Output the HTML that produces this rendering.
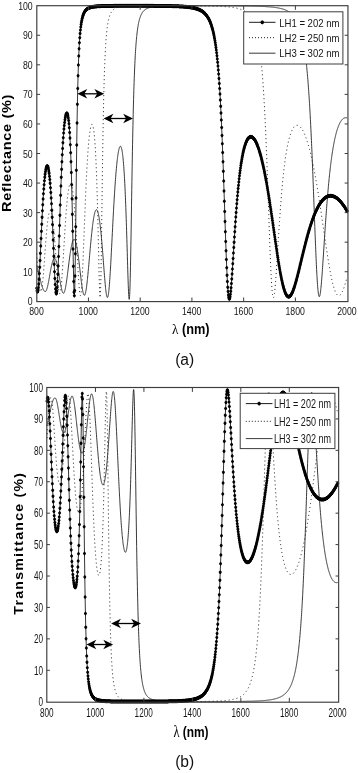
<!DOCTYPE html>
<html><head><meta charset="utf-8"><title>Reflectance and transmittance spectra</title>
<style>
html,body{margin:0;padding:0;background:#fff}
svg{display:block;font-family:"Liberation Sans",Arial,Helvetica,sans-serif}
</style></head><body>
<svg width="358" height="773" viewBox="0 0 358 773">
<defs>
<marker id="mk" markerWidth="4" markerHeight="5" refX="2" refY="2.5" markerUnits="userSpaceOnUse"><path d="M2 0.5L3.0 1.5L3.6 2.5L3.0 3.5L2 4.5L1.0 3.5L0.4 2.5L1.0 1.5z" fill="#000"/></marker>
<path id="dm" d="M0 -2.1L1.3 -1.2L1.8 0L1.3 1.2L0 2.1L-1.3 1.2L-1.8 0L-1.3 -1.2z" fill="#000"/>
<clipPath id="clipa"><rect x="34.30" y="3.20" width="316.15" height="300.90"/></clipPath>
<clipPath id="clipb"><rect x="44.30" y="385.00" width="296.85" height="319.70"/></clipPath>
</defs>
<rect width="358" height="773" fill="#fff"/>
<g clip-path="url(#clipa)">
<polyline points="36.70,253.66 36.83,255.28 36.96,256.92 37.09,258.58 37.22,260.24 37.35,261.91 37.48,263.57 37.61,265.24 37.73,266.89 37.86,268.53 37.99,270.15 38.12,271.75 38.25,273.32 38.38,274.86 38.51,276.36 38.64,277.81 38.77,279.22 38.90,280.58 39.03,281.88 39.16,283.11 39.29,284.28 39.42,285.38 39.55,286.40 39.68,287.34 39.80,288.20 39.93,288.96 40.06,289.64 40.19,290.22 40.32,290.71 40.45,291.09 40.58,291.38 40.71,291.56 40.84,291.64 40.97,291.62 41.10,291.49 41.23,291.25 41.36,290.92 41.49,290.48 41.62,289.94 41.74,289.30 41.87,288.57 42.00,287.74 42.13,286.83 42.26,285.83 42.39,284.74 42.52,283.58 42.65,282.34 42.78,281.03 42.91,279.65 43.04,278.21 43.17,276.72 43.30,275.17 43.43,273.58 43.56,271.95 43.68,270.28 43.81,268.57 43.94,266.84 44.07,265.09 44.20,263.32 44.33,261.53 44.46,259.74 44.59,257.94 44.72,256.14 44.85,254.34 44.98,252.55 45.11,250.77 45.24,249.00 45.37,247.25 45.50,245.52 45.63,243.81 45.75,242.13 45.88,240.47 46.01,238.85 46.14,237.25 46.27,235.69 46.40,234.17 46.53,232.69 46.66,231.24 46.79,229.84 46.92,228.48 47.05,227.16 47.18,225.89 47.31,224.66 47.44,223.48 47.57,222.35 47.69,221.27 47.82,220.23 47.95,219.25 48.08,218.32 48.21,217.43 48.34,216.60 48.47,215.82 48.60,215.09 48.73,214.42 48.86,213.79 48.99,213.22 49.12,212.70 49.25,212.24 49.38,211.83 49.51,211.47 49.64,211.17 49.76,210.91 49.89,210.72 50.02,210.57 50.15,210.48 50.28,210.45 50.41,210.46 50.54,210.53 50.67,210.66 50.80,210.84 50.93,211.07 51.06,211.36 51.19,211.69 51.32,212.09 51.45,212.53 51.58,213.03 51.70,213.58 51.83,214.19 51.96,214.84 52.09,215.55 52.22,216.32 52.35,217.13 52.48,217.99 52.61,218.91 52.74,219.88 52.87,220.89 53.00,221.96 53.13,223.08 53.26,224.24 53.39,225.45 53.52,226.71 53.64,228.01 53.77,229.36 53.90,230.75 54.03,232.19 54.16,233.66 54.29,235.18 54.42,236.73 54.55,238.32 54.68,239.95 54.81,241.60 54.94,243.29 55.07,245.00 55.20,246.74 55.33,248.51 55.46,250.29 55.59,252.09 55.71,253.90 55.84,255.73 55.97,257.56 56.10,259.39 56.23,261.23 56.36,263.06 56.49,264.87 56.62,266.68 56.75,268.47 56.88,270.23 57.01,271.97 57.14,273.68 57.27,275.34 57.40,276.97 57.53,278.54 57.65,280.07 57.78,281.53 57.91,282.94 58.04,284.27 58.17,285.53 58.30,286.71 58.43,287.81 58.56,288.83 58.69,289.75 58.82,290.58 58.95,291.30 59.08,291.93 59.21,292.44 59.34,292.85 59.47,293.15 59.59,293.34 59.72,293.41 59.85,293.37 59.98,293.21 60.11,292.94 60.24,292.55 60.37,292.05 60.50,291.43 60.63,290.71 60.76,289.87 60.89,288.93 61.02,287.88 61.15,286.73 61.28,285.49 61.41,284.15 61.54,282.73 61.66,281.22 61.79,279.63 61.92,277.97 62.05,276.24 62.18,274.44 62.31,272.59 62.44,270.68 62.57,268.72 62.70,266.72 62.83,264.68 62.96,262.60 63.09,260.50 63.22,258.38 63.35,256.23 63.48,254.07 63.60,251.91 63.73,249.73 63.86,247.56 63.99,245.39 64.12,243.23 64.25,241.07 64.38,238.93 64.51,236.81 64.64,234.71 64.77,232.63 64.90,230.58 65.03,228.55 65.16,226.55 65.29,224.59 65.42,222.66 65.55,220.77 65.67,218.91 65.80,217.10 65.93,215.32 66.06,213.59 66.19,211.90 66.32,210.26 66.45,208.66 66.58,207.10 66.71,205.59 66.84,204.13 66.97,202.72 67.10,201.35 67.23,200.04 67.36,198.77 67.49,197.55 67.61,196.38 67.74,195.26 67.87,194.20 68.00,193.18 68.13,192.21 68.26,191.29 68.39,190.42 68.52,189.61 68.65,188.84 68.78,188.13 68.91,187.46 69.04,186.85 69.17,186.28 69.30,185.77 69.43,185.31 69.55,184.90 69.68,184.54 69.81,184.23 69.94,183.97 70.07,183.76 70.20,183.60 70.33,183.50 70.46,183.44 70.59,183.44 70.72,183.49 70.85,183.59 70.98,183.74 71.11,183.95 71.24,184.21 71.37,184.52 71.50,184.88 71.62,185.29 71.75,185.76 71.88,186.28 72.01,186.86 72.14,187.49 72.27,188.17 72.40,188.91 72.53,189.70 72.66,190.55 72.79,191.46 72.92,192.42 73.05,193.43 73.18,194.50 73.31,195.63 73.44,196.82 73.56,198.06 73.69,199.35 73.82,200.71 73.95,202.12 74.08,203.59 74.21,205.12 74.34,206.70 74.47,208.34 74.60,210.03 74.73,211.78 74.86,213.59 74.99,215.45 75.12,217.36 75.25,219.33 75.38,221.34 75.50,223.41 75.63,225.52 75.76,227.68 75.89,229.89 76.02,232.14 76.15,234.42 76.28,236.74 76.41,239.10 76.54,241.48 76.67,243.89 76.80,246.32 76.93,248.77 77.06,251.23 77.19,253.70 77.32,256.17 77.45,258.63 77.57,261.08 77.70,263.52 77.83,265.93 77.96,268.30 78.09,270.63 78.22,272.91 78.35,275.14 78.48,277.30 78.61,279.38 78.74,281.38 78.87,283.28 79.00,285.08 79.13,286.76 79.26,288.33 79.39,289.76 79.51,291.06 79.64,292.20 79.77,293.19 79.90,294.02 80.03,294.68 80.16,295.17 80.29,295.47 80.42,295.59 80.55,295.53 80.68,295.27 80.81,294.82 80.94,294.18 81.07,293.34 81.20,292.32 81.33,291.11 81.46,289.72 81.58,288.14 81.71,286.39 81.84,284.48 81.97,282.41 82.10,280.18 82.23,277.81 82.36,275.30 82.49,272.67 82.62,269.92 82.75,267.06 82.88,264.11 83.01,261.07 83.14,257.96 83.27,254.78 83.40,251.54 83.52,248.26 83.65,244.94 83.78,241.59 83.91,238.22 84.04,234.84 84.17,231.46 84.30,228.08 84.43,224.71 84.56,221.36 84.69,218.04 84.82,214.74 84.95,211.48 85.08,208.25 85.21,205.07 85.34,201.94 85.46,198.86 85.59,195.83 85.72,192.86 85.85,189.95 85.98,187.09 86.11,184.30 86.24,181.58 86.37,178.92 86.50,176.32 86.63,173.79 86.76,171.33 86.89,168.93 87.02,166.61 87.15,164.35 87.28,162.16 87.41,160.03 87.53,157.98 87.66,155.99 87.79,154.06 87.92,152.21 88.05,150.42 88.18,148.69 88.31,147.03 88.44,145.43 88.57,143.89 88.70,142.42 88.83,141.01 88.96,139.66 89.09,138.37 89.22,137.14 89.35,135.97 89.47,134.86 89.60,133.80 89.73,132.81 89.86,131.87 89.99,130.98 90.12,130.16 90.25,129.39 90.38,128.68 90.51,128.02 90.64,127.42 90.77,126.87 90.90,126.38 91.03,125.94 91.16,125.56 91.29,125.23 91.42,124.96 91.54,124.75 91.67,124.59 91.80,124.49 91.93,124.45 92.06,124.47 92.19,124.54 92.32,124.68 92.45,124.87 92.58,125.13 92.71,125.45 92.84,125.83 92.97,126.28 93.10,126.80 93.23,127.38 93.36,128.04 93.48,128.77 93.61,129.57 93.74,130.45 93.87,131.41 94.00,132.45 94.13,133.58 94.26,134.79 94.39,136.10 94.52,137.50 94.65,138.99 94.78,140.59 94.91,142.29 95.04,144.11 95.17,146.03 95.30,148.08 95.42,150.25 95.55,152.54 95.68,154.97 95.81,157.54 95.94,160.25 96.07,163.12 96.20,166.14 96.33,169.32 96.46,172.66 96.59,176.18 96.72,179.87 96.85,183.75 96.98,187.81 97.11,192.06 97.24,196.49 97.37,201.11 97.49,205.92 97.62,210.91 97.75,216.08 97.88,221.41 98.01,226.89 98.14,232.50 98.27,238.21 98.40,243.99 98.53,249.81 98.66,255.62 98.79,261.36 98.92,266.97 99.05,272.38 99.18,277.51 99.31,282.26 99.43,286.56 99.56,290.29 99.69,293.36 99.82,295.67 99.95,297.13 100.08,297.66 100.21,297.20 100.34,295.69 100.47,293.11 100.60,289.47 100.73,284.79 100.86,279.12 100.99,272.53 101.12,265.13 101.25,257.01 101.38,248.31 101.50,239.14 101.63,229.65 101.76,219.93 101.89,210.12 102.02,200.32 102.15,190.61 102.28,181.07 102.41,171.78 102.54,162.77 102.67,154.09 102.80,145.77 102.93,137.83 103.06,130.28 103.19,123.11 103.32,116.33 103.44,109.93 103.57,103.90 103.70,98.23 103.83,92.91 103.96,87.91 104.09,83.22 104.22,78.83 104.35,74.71 104.48,70.86 104.61,67.25 104.74,63.87 104.87,60.71 105.00,57.74 105.13,54.97 105.26,52.36 105.38,49.93 105.51,47.64 105.64,45.49 105.77,43.48 105.90,41.59 106.03,39.82 106.16,38.15 106.29,36.58 106.42,35.10 106.55,33.71 106.68,32.40 106.81,31.17 106.94,30.00 107.07,28.90 107.20,27.87 107.33,26.89 107.45,25.96 107.58,25.09 107.71,24.26 107.84,23.47 107.97,22.73 108.10,22.03 108.23,21.36 108.36,20.73 108.49,20.12 108.62,19.55 108.75,19.01 108.88,18.49 109.01,18.00 109.14,17.54 109.27,17.09 109.39,16.67 109.52,16.26 109.65,15.88 109.78,15.51 109.91,15.16 110.04,14.83 110.17,14.51 110.30,14.20 110.43,13.91 110.56,13.63 110.69,13.36 110.82,13.11 110.95,12.86 111.08,12.63 111.21,12.40 111.33,12.19 111.46,11.98 111.59,11.78 111.72,11.59 111.85,11.41 111.98,11.23 112.11,11.07 112.24,10.90 112.37,10.75 112.50,10.60 112.63,10.45 112.76,10.32 112.89,10.18 113.02,10.05 113.15,9.93 113.28,9.81 113.40,9.70 113.53,9.58 113.66,9.48 113.79,9.38 113.92,9.28 114.05,9.18 114.18,9.09 114.31,9.00 114.44,8.91 114.57,8.83 114.70,8.75 114.83,8.67 114.96,8.59 115.09,8.52 115.22,8.45 115.34,8.38 115.47,8.32 115.60,8.25 115.73,8.19 115.86,8.13 115.99,8.07 116.12,8.02 116.25,7.96 116.38,7.91 116.51,7.86 116.64,7.81 116.77,7.76 116.90,7.72 117.03,7.67 117.16,7.63 117.29,7.58 117.41,7.54 117.54,7.50 117.67,7.46 117.80,7.43 117.93,7.39 118.06,7.35 118.19,7.32 118.32,7.28 118.45,7.25 118.58,7.22 118.71,7.19 118.84,7.16 118.97,7.13 119.10,7.10 119.23,7.07 119.35,7.05 119.48,7.02 119.61,6.99 119.74,6.97 119.87,6.94 120.00,6.92 120.13,6.90 120.26,6.87 120.39,6.85 120.52,6.83 120.65,6.81 120.78,6.79 120.91,6.77 121.04,6.75 121.17,6.73 121.29,6.71 121.42,6.70 121.55,6.68 121.68,6.66 121.81,6.64 121.94,6.63 122.07,6.61 122.20,6.60 122.33,6.58 122.46,6.57 122.59,6.55 122.72,6.54 122.85,6.52 122.98,6.51 123.11,6.50 123.24,6.48 123.36,6.47 123.49,6.46 123.62,6.45 123.75,6.44 123.88,6.42 124.01,6.41 124.14,6.40 124.27,6.39 124.40,6.38 124.53,6.37 124.66,6.36 124.79,6.35 124.92,6.34 125.05,6.33 125.18,6.32 125.30,6.31 125.43,6.30 125.56,6.30 125.69,6.29 125.82,6.28 125.95,6.27 126.08,6.26 126.21,6.25 126.34,6.25 126.47,6.24 126.60,6.23 126.73,6.22 126.86,6.22 126.99,6.21 127.12,6.20 127.25,6.20 127.37,6.19 127.50,6.18 127.63,6.18 127.76,6.17 127.89,6.17 128.02,6.16 128.15,6.15 128.28,6.15 128.41,6.14 128.54,6.14 128.67,6.13 128.80,6.13 128.93,6.12 129.06,6.12 129.19,6.11 129.31,6.11 129.44,6.10 129.57,6.10 129.70,6.09 129.83,6.09 129.96,6.08 130.09,6.08 130.22,6.07 130.35,6.07 130.48,6.07 130.61,6.06 130.74,6.06 130.87,6.05 131.00,6.05 131.13,6.05 131.25,6.04 131.38,6.04 131.51,6.03 131.64,6.03 131.77,6.03 131.90,6.02 132.03,6.02 132.16,6.02 132.29,6.01 132.42,6.01 132.55,6.01 132.68,6.00 132.81,6.00 132.94,6.00 133.07,6.00 133.20,5.99 133.32,5.99 133.45,5.99 133.58,5.98 133.71,5.98 133.84,5.98 133.97,5.98 134.10,5.97 134.23,5.97 134.36,5.97 134.49,5.97 134.62,5.96 134.75,5.96 134.88,5.96 135.01,5.96 135.14,5.95 135.26,5.95 135.39,5.95 135.52,5.95 135.65,5.95 135.78,5.94 135.91,5.94 136.04,5.94 136.17,5.94 136.30,5.93 136.43,5.93 136.56,5.93 136.69,5.93 136.82,5.93 136.95,5.93 137.08,5.92 137.20,5.92 137.33,5.92 137.46,5.92 137.59,5.92 137.72,5.91 137.85,5.91 137.98,5.91 138.11,5.91 138.24,5.91 138.37,5.91 138.50,5.90 138.63,5.90 138.76,5.90 138.89,5.90 139.02,5.90 139.15,5.90 139.27,5.90 139.40,5.89 139.53,5.89 139.66,5.89 139.79,5.89 139.92,5.89 140.05,5.89 140.18,5.89 140.31,5.89 140.44,5.88 140.57,5.88 140.70,5.88 140.83,5.88 140.96,5.88 141.09,5.88 141.21,5.88 141.34,5.88 141.47,5.87 141.60,5.87 141.73,5.87 141.86,5.87 141.99,5.87 142.12,5.87 142.25,5.87 142.38,5.87 142.51,5.87 142.64,5.86 142.77,5.86 142.90,5.86 143.03,5.86 143.16,5.86 143.28,5.86 143.41,5.86 143.54,5.86 143.67,5.86 143.80,5.86 143.93,5.86 144.06,5.85 144.19,5.85 144.32,5.85 144.45,5.85 144.58,5.85 144.71,5.85 144.84,5.85 144.97,5.85 145.10,5.85 145.22,5.85 145.35,5.85 145.48,5.85 145.61,5.85 145.74,5.84 145.87,5.84 146.00,5.84 146.13,5.84 146.26,5.84 146.39,5.84 146.52,5.84 146.65,5.84 146.78,5.84 146.91,5.84 147.04,5.84 147.16,5.84 147.29,5.84 147.42,5.84 147.55,5.84 147.68,5.83 147.81,5.83 147.94,5.83 148.07,5.83 148.20,5.83 148.33,5.83 148.46,5.83 148.59,5.83 148.72,5.83 148.85,5.83 148.98,5.83 149.11,5.83 149.23,5.83 149.36,5.83 149.49,5.83 149.62,5.83 149.75,5.83 149.88,5.83 150.01,5.83 150.14,5.82 150.27,5.82 150.40,5.82 150.53,5.82 150.66,5.82 150.79,5.82 150.92,5.82 151.05,5.82 151.17,5.82 151.30,5.82 151.43,5.82 151.56,5.82 151.69,5.82 151.82,5.82 151.95,5.82 152.08,5.82 152.21,5.82 152.34,5.82 152.47,5.82 152.60,5.82 152.73,5.82 152.86,5.82 152.99,5.82 153.12,5.82 153.24,5.82 153.37,5.82 153.50,5.81 153.63,5.81 153.76,5.81 153.89,5.81 154.02,5.81 154.15,5.81 154.28,5.81 154.41,5.81 154.54,5.81 154.67,5.81 154.80,5.81 154.93,5.81 155.06,5.81 155.18,5.81 155.31,5.81 155.44,5.81 155.57,5.81 155.70,5.81 155.83,5.81 155.96,5.81 156.09,5.81 156.22,5.81 156.35,5.81 156.48,5.81 156.61,5.81 156.74,5.81 156.87,5.81 157.00,5.81 157.12,5.81 157.25,5.81 157.38,5.81 157.51,5.81 157.64,5.81 157.77,5.81 157.90,5.81 158.03,5.81 158.16,5.81 158.29,5.81 158.42,5.81 158.55,5.81 158.68,5.81 158.81,5.81 158.94,5.81 159.07,5.81 159.19,5.80 159.32,5.80 159.45,5.80 159.58,5.80 159.71,5.80 159.84,5.80 159.97,5.80 160.10,5.80 160.23,5.80 160.36,5.80 160.49,5.80 160.62,5.80 160.75,5.80 160.88,5.80 161.01,5.80 161.13,5.80 161.26,5.80 161.39,5.80 161.52,5.80 161.65,5.80 161.78,5.80 161.91,5.80 162.04,5.80 162.17,5.80 162.30,5.80 162.43,5.80 162.56,5.80 162.69,5.80 162.82,5.80 162.95,5.80 163.07,5.80 163.20,5.80 163.33,5.80 163.46,5.80 163.59,5.80 163.72,5.80 163.85,5.80 163.98,5.80 164.11,5.80 164.24,5.80 164.37,5.80 164.50,5.80 164.63,5.80 164.76,5.80 164.89,5.80 165.02,5.80 165.14,5.80 165.27,5.80 165.40,5.80 165.53,5.80 165.66,5.80 165.79,5.80 165.92,5.80 166.05,5.80 166.18,5.80 166.31,5.80 166.44,5.80 166.57,5.80 166.70,5.80 166.83,5.80 166.96,5.80 167.08,5.80 167.21,5.80 167.34,5.80 167.47,5.80 167.60,5.80 167.73,5.80 167.86,5.80 167.99,5.80 168.12,5.80 168.25,5.80 168.38,5.80 168.51,5.80 168.64,5.80 168.77,5.80 168.90,5.80 169.03,5.80 169.15,5.80 169.28,5.80 169.41,5.80 169.54,5.80 169.67,5.80 169.80,5.80 169.93,5.80 170.06,5.80 170.19,5.80 170.32,5.80 170.45,5.80 170.58,5.80 170.71,5.80 170.84,5.80 170.97,5.80 171.09,5.80 171.22,5.80 171.35,5.80 171.48,5.80 171.61,5.80 171.74,5.80 171.87,5.80 172.00,5.80 172.13,5.80 172.26,5.80 172.39,5.80 172.52,5.81 172.65,5.81 172.78,5.81 172.91,5.81 173.03,5.81 173.16,5.81 173.29,5.81 173.42,5.81 173.55,5.81 173.68,5.81 173.81,5.81 173.94,5.81 174.07,5.81 174.20,5.81 174.33,5.81 174.46,5.81 174.59,5.81 174.72,5.81 174.85,5.81 174.98,5.81 175.10,5.81 175.23,5.81 175.36,5.81 175.49,5.81 175.62,5.81 175.75,5.81 175.88,5.81 176.01,5.81 176.14,5.81 176.27,5.81 176.40,5.81 176.53,5.81 176.66,5.81 176.79,5.81 176.92,5.81 177.04,5.81 177.17,5.81 177.30,5.81 177.43,5.81 177.56,5.81 177.69,5.81 177.82,5.81 177.95,5.81 178.08,5.81 178.21,5.81 178.34,5.81 178.47,5.81 178.60,5.81 178.73,5.81 178.86,5.81 178.99,5.82 179.11,5.82 179.24,5.82 179.37,5.82 179.50,5.82 179.63,5.82 179.76,5.82 179.89,5.82 180.02,5.82 180.15,5.82 180.28,5.82 180.41,5.82 180.54,5.82 180.67,5.82 180.80,5.82 180.93,5.82 181.05,5.82 181.18,5.82 181.31,5.82 181.44,5.82 181.57,5.82 181.70,5.82 181.83,5.82 181.96,5.82 182.09,5.82 182.22,5.82 182.35,5.82 182.48,5.82 182.61,5.82 182.74,5.82 182.87,5.82 182.99,5.83 183.12,5.83 183.25,5.83 183.38,5.83 183.51,5.83 183.64,5.83 183.77,5.83 183.90,5.83 184.03,5.83 184.16,5.83 184.29,5.83 184.42,5.83 184.55,5.83 184.68,5.83 184.81,5.83 184.94,5.83 185.06,5.83 185.19,5.83 185.32,5.83 185.45,5.83 185.58,5.83 185.71,5.83 185.84,5.83 185.97,5.84 186.10,5.84 186.23,5.84 186.36,5.84 186.49,5.84 186.62,5.84 186.75,5.84 186.88,5.84 187.00,5.84 187.13,5.84 187.26,5.84 187.39,5.84 187.52,5.84 187.65,5.84 187.78,5.84 187.91,5.84 188.04,5.84 188.17,5.84 188.30,5.84 188.43,5.84 188.56,5.85 188.69,5.85 188.82,5.85 188.94,5.85 189.07,5.85 189.20,5.85 189.33,5.85 189.46,5.85 189.59,5.85 189.72,5.85 189.85,5.85 189.98,5.85 190.11,5.85 190.24,5.85 190.37,5.85 190.50,5.85 190.63,5.86 190.76,5.86 190.89,5.86 191.01,5.86 191.14,5.86 191.27,5.86 191.40,5.86 191.53,5.86 191.66,5.86 191.79,5.86 191.92,5.86 192.05,5.86 192.18,5.86 192.31,5.86 192.44,5.86 192.57,5.87 192.70,5.87 192.83,5.87 192.95,5.87 193.08,5.87 193.21,5.87 193.34,5.87 193.47,5.87 193.60,5.87 193.73,5.87 193.86,5.87 193.99,5.87 194.12,5.88 194.25,5.88 194.38,5.88 194.51,5.88 194.64,5.88 194.77,5.88 194.90,5.88 195.02,5.88 195.15,5.88 195.28,5.88 195.41,5.88 195.54,5.88 195.67,5.89 195.80,5.89 195.93,5.89 196.06,5.89 196.19,5.89 196.32,5.89 196.45,5.89 196.58,5.89 196.71,5.89 196.84,5.89 196.96,5.90 197.09,5.90 197.22,5.90 197.35,5.90 197.48,5.90 197.61,5.90 197.74,5.90 197.87,5.90 198.00,5.90 198.13,5.90 198.26,5.91 198.39,5.91 198.52,5.91 198.65,5.91 198.78,5.91 198.90,5.91 199.03,5.91 199.16,5.91 199.29,5.91 199.42,5.92 199.55,5.92 199.68,5.92 199.81,5.92 199.94,5.92 200.07,5.92 200.20,5.92 200.33,5.92 200.46,5.93 200.59,5.93 200.72,5.93 200.85,5.93 200.97,5.93 201.10,5.93 201.23,5.93 201.36,5.94 201.49,5.94 201.62,5.94 201.75,5.94 201.88,5.94 202.01,5.94 202.14,5.94 202.27,5.94 202.40,5.95 202.53,5.95 202.66,5.95 202.79,5.95 202.91,5.95 203.04,5.95 203.17,5.96 203.30,5.96 203.43,5.96 203.56,5.96 203.69,5.96 203.82,5.96 203.95,5.96 204.08,5.97 204.21,5.97 204.34,5.97 204.47,5.97 204.60,5.97 204.73,5.97 204.86,5.98 204.98,5.98 205.11,5.98 205.24,5.98 205.37,5.98 205.50,5.99 205.63,5.99 205.76,5.99 205.89,5.99 206.02,5.99 206.15,5.99 206.28,6.00 206.41,6.00 206.54,6.00 206.67,6.00 206.80,6.00 206.92,6.01 207.05,6.01 207.18,6.01 207.31,6.01 207.44,6.01 207.57,6.02 207.70,6.02 207.83,6.02 207.96,6.02 208.09,6.03 208.22,6.03 208.35,6.03 208.48,6.03 208.61,6.03 208.74,6.04 208.86,6.04 208.99,6.04 209.12,6.04 209.25,6.05 209.38,6.05 209.51,6.05 209.64,6.05 209.77,6.06 209.90,6.06 210.03,6.06 210.16,6.06 210.29,6.07 210.42,6.07 210.55,6.07 210.68,6.07 210.81,6.08 210.93,6.08 211.06,6.08 211.19,6.09 211.32,6.09 211.45,6.09 211.58,6.09 211.71,6.10 211.84,6.10 211.97,6.10 212.10,6.11 212.23,6.11 212.36,6.11 212.49,6.11 212.62,6.12 212.75,6.12 212.87,6.12 213.00,6.13 213.13,6.13 213.26,6.13 213.39,6.14 213.52,6.14 213.65,6.14 213.78,6.15 213.91,6.15 214.04,6.15 214.17,6.16 214.30,6.16 214.43,6.16 214.56,6.17 214.69,6.17 214.81,6.18 214.94,6.18 215.07,6.18 215.20,6.19 215.33,6.19 215.46,6.19 215.59,6.20 215.72,6.20 215.85,6.21 215.98,6.21 216.11,6.21 216.24,6.22 216.37,6.22 216.50,6.23 216.63,6.23 216.76,6.24 216.88,6.24 217.01,6.24 217.14,6.25 217.27,6.25 217.40,6.26 217.53,6.26 217.66,6.27 217.79,6.27 217.92,6.28 218.05,6.28 218.18,6.29 218.31,6.29 218.44,6.30 218.57,6.30 218.70,6.31 218.82,6.31 218.95,6.32 219.08,6.32 219.21,6.33 219.34,6.33 219.47,6.34 219.60,6.34 219.73,6.35 219.86,6.35 219.99,6.36 220.12,6.37 220.25,6.37 220.38,6.38 220.51,6.38 220.64,6.39 220.77,6.40 220.89,6.40 221.02,6.41 221.15,6.41 221.28,6.42 221.41,6.43 221.54,6.43 221.67,6.44 221.80,6.45 221.93,6.45 222.06,6.46 222.19,6.47 222.32,6.47 222.45,6.48 222.58,6.49 222.71,6.49 222.83,6.50 222.96,6.51 223.09,6.52 223.22,6.52 223.35,6.53 223.48,6.54 223.61,6.55 223.74,6.56 223.87,6.56 224.00,6.57 224.13,6.58 224.26,6.59 224.39,6.60 224.52,6.60 224.65,6.61 224.77,6.62 224.90,6.63 225.03,6.64 225.16,6.65 225.29,6.66 225.42,6.67 225.55,6.68 225.68,6.69 225.81,6.70 225.94,6.70 226.07,6.71 226.20,6.72 226.33,6.73 226.46,6.74 226.59,6.75 226.72,6.77 226.84,6.78 226.97,6.79 227.10,6.80 227.23,6.81 227.36,6.82 227.49,6.83 227.62,6.84 227.75,6.85 227.88,6.86 228.01,6.88 228.14,6.89 228.27,6.90 228.40,6.91 228.53,6.93 228.66,6.94 228.78,6.95 228.91,6.96 229.04,6.98 229.17,6.99 229.30,7.00 229.43,7.02 229.56,7.03 229.69,7.04 229.82,7.06 229.95,7.07 230.08,7.09 230.21,7.10 230.34,7.12 230.47,7.13 230.60,7.15 230.72,7.16 230.85,7.18 230.98,7.19 231.11,7.21 231.24,7.23 231.37,7.24 231.50,7.26 231.63,7.28 231.76,7.29 231.89,7.31 232.02,7.33 232.15,7.35 232.28,7.36 232.41,7.38 232.54,7.40 232.67,7.42 232.79,7.44 232.92,7.46 233.05,7.48 233.18,7.50 233.31,7.52 233.44,7.54 233.57,7.56 233.70,7.58 233.83,7.60 233.96,7.62 234.09,7.65 234.22,7.67 234.35,7.69 234.48,7.71 234.61,7.74 234.73,7.76 234.86,7.79 234.99,7.81 235.12,7.83 235.25,7.86 235.38,7.88 235.51,7.91 235.64,7.94 235.77,7.96 235.90,7.99 236.03,8.02 236.16,8.04 236.29,8.07 236.42,8.10 236.55,8.13 236.68,8.16 236.80,8.19 236.93,8.22 237.06,8.25 237.19,8.28 237.32,8.31 237.45,8.34 237.58,8.38 237.71,8.41 237.84,8.44 237.97,8.48 238.10,8.51 238.23,8.55 238.36,8.58 238.49,8.62 238.62,8.66 238.74,8.69 238.87,8.73 239.00,8.77 239.13,8.81 239.26,8.85 239.39,8.89 239.52,8.93 239.65,8.97 239.78,9.01 239.91,9.06 240.04,9.10 240.17,9.14 240.30,9.19 240.43,9.23 240.56,9.28 240.68,9.33 240.81,9.38 240.94,9.42 241.07,9.47 241.20,9.52 241.33,9.58 241.46,9.63 241.59,9.68 241.72,9.73 241.85,9.79 241.98,9.84 242.11,9.90 242.24,9.96 242.37,10.02 242.50,10.07 242.63,10.14 242.75,10.20 242.88,10.26 243.01,10.32 243.14,10.39 243.27,10.45 243.40,10.52 243.53,10.59 243.66,10.66 243.79,10.73 243.92,10.80 244.05,10.87 244.18,10.94 244.31,11.02 244.44,11.09 244.57,11.17 244.69,11.25 244.82,11.33 244.95,11.41 245.08,11.50 245.21,11.58 245.34,11.67 245.47,11.76 245.60,11.85 245.73,11.94 245.86,12.03 245.99,12.13 246.12,12.22 246.25,12.32 246.38,12.42 246.51,12.52 246.64,12.62 246.76,12.73 246.89,12.84 247.02,12.95 247.15,13.06 247.28,13.17 247.41,13.29 247.54,13.41 247.67,13.53 247.80,13.65 247.93,13.77 248.06,13.90 248.19,14.03 248.32,14.16 248.45,14.30 248.58,14.43 248.70,14.57 248.83,14.72 248.96,14.86 249.09,15.01 249.22,15.16 249.35,15.32 249.48,15.47 249.61,15.63 249.74,15.80 249.87,15.96 250.00,16.13 250.13,16.31 250.26,16.49 250.39,16.67 250.52,16.85 250.64,17.04 250.77,17.23 250.90,17.43 251.03,17.63 251.16,17.83 251.29,18.04 251.42,18.25 251.55,18.47 251.68,18.69 251.81,18.92 251.94,19.15 252.07,19.39 252.20,19.63 252.33,19.88 252.46,20.13 252.59,20.39 252.71,20.65 252.84,20.92 252.97,21.19 253.10,21.47 253.23,21.76 253.36,22.05 253.49,22.35 253.62,22.66 253.75,22.97 253.88,23.29 254.01,23.62 254.14,23.96 254.27,24.30 254.40,24.65 254.53,25.01 254.65,25.37 254.78,25.75 254.91,26.13 255.04,26.52 255.17,26.92 255.30,27.33 255.43,27.76 255.56,28.19 255.69,28.63 255.82,29.08 255.95,29.54 256.08,30.01 256.21,30.49 256.34,30.99 256.47,31.49 256.59,32.01 256.72,32.54 256.85,33.09 256.98,33.65 257.11,34.22 257.24,34.80 257.37,35.40 257.50,36.02 257.63,36.65 257.76,37.29 257.89,37.95 258.02,38.63 258.15,39.32 258.28,40.03 258.41,40.76 258.54,41.51 258.66,42.28 258.79,43.06 258.92,43.87 259.05,44.70 259.18,45.54 259.31,46.41 259.44,47.30 259.57,48.22 259.70,49.15 259.83,50.12 259.96,51.10 260.09,52.11 260.22,53.15 260.35,54.22 260.48,55.31 260.60,56.43 260.73,57.58 260.86,58.76 260.99,59.97 261.12,61.21 261.25,62.48 261.38,63.79 261.51,65.13 261.64,66.51 261.77,67.92 261.90,69.37 262.03,70.85 262.16,72.37 262.29,73.94 262.42,75.54 262.55,77.19 262.67,78.87 262.80,80.60 262.93,82.38 263.06,84.19 263.19,86.06 263.32,87.97 263.45,89.93 263.58,91.94 263.71,94.00 263.84,96.10 263.97,98.26 264.10,100.47 264.23,102.74 264.36,105.06 264.49,107.43 264.61,109.86 264.74,112.34 264.87,114.88 265.00,117.47 265.13,120.13 265.26,122.84 265.39,125.60 265.52,128.43 265.65,131.31 265.78,134.25 265.91,137.25 266.04,140.30 266.17,143.41 266.30,146.57 266.43,149.79 266.55,153.06 266.68,156.38 266.81,159.76 266.94,163.18 267.07,166.64 267.20,170.16 267.33,173.71 267.46,177.30 267.59,180.93 267.72,184.59 267.85,188.28 267.98,191.99 268.11,195.73 268.24,199.48 268.37,203.24 268.50,207.01 268.62,210.78 268.75,214.55 268.88,218.31 269.01,222.06 269.14,225.78 269.27,229.47 269.40,233.13 269.53,236.75 269.66,240.33 269.79,243.85 269.92,247.30 270.05,250.69 270.18,254.01 270.31,257.24 270.44,260.39 270.56,263.44 270.69,266.39 270.82,269.23 270.95,271.97 271.08,274.58 271.21,277.07 271.34,279.43 271.47,281.66 271.60,283.76 271.73,285.71 271.86,287.53 271.99,289.19 272.12,290.72 272.25,292.09 272.38,293.31 272.51,294.38 272.63,295.31 272.76,296.08 272.89,296.71 273.02,297.19 273.15,297.52 273.28,297.71 273.41,297.76 273.54,297.68 273.67,297.46 273.80,297.11 273.93,296.64 274.06,296.05 274.19,295.34 274.32,294.52 274.45,293.59 274.57,292.56 274.70,291.43 274.83,290.21 274.96,288.90 275.09,287.51 275.22,286.05 275.35,284.51 275.48,282.91 275.61,281.25 275.74,279.53 275.87,277.75 276.00,275.94 276.13,274.07 276.26,272.17 276.39,270.24 276.51,268.27 276.64,266.28 276.77,264.26 276.90,262.23 277.03,260.18 277.16,258.11 277.29,256.04 277.42,253.96 277.55,251.88 277.68,249.79 277.81,247.71 277.94,245.62 278.07,243.55 278.20,241.48 278.33,239.42 278.46,237.37 278.58,235.33 278.71,233.30 278.84,231.29 278.97,229.30 279.10,227.32 279.23,225.36 279.36,223.42 279.49,221.50 279.62,219.60 279.75,217.72 279.88,215.87 280.01,214.03 280.14,212.22 280.27,210.43 280.40,208.67 280.52,206.93 280.65,205.21 280.78,203.52 280.91,201.85 281.04,200.20 281.17,198.58 281.30,196.99 281.43,195.42 281.56,193.87 281.69,192.35 281.82,190.85 281.95,189.38 282.08,187.93 282.21,186.51 282.34,185.10 282.46,183.73 282.59,182.37 282.72,181.04 282.85,179.73 282.98,178.45 283.11,177.18 283.24,175.94 283.37,174.72 283.50,173.53 283.63,172.35 283.76,171.20 283.89,170.07 284.02,168.95 284.15,167.86 284.28,166.79 284.41,165.74 284.53,164.70 284.66,163.69 284.79,162.70 284.92,161.72 285.05,160.77 285.18,159.83 285.31,158.91 285.44,158.01 285.57,157.12 285.70,156.25 285.83,155.40 285.96,154.57 286.09,153.75 286.22,152.95 286.35,152.16 286.47,151.39 286.60,150.64 286.73,149.90 286.86,149.18 286.99,148.47 287.12,147.77 287.25,147.09 287.38,146.43 287.51,145.77 287.64,145.14 287.77,144.51 287.90,143.90 288.03,143.30 288.16,142.71 288.29,142.14 288.42,141.58 288.54,141.03 288.67,140.49 288.80,139.97 288.93,139.46 289.06,138.96 289.19,138.47 289.32,137.99 289.45,137.52 289.58,137.07 289.71,136.62 289.84,136.19 289.97,135.76 290.10,135.35 290.23,134.94 290.36,134.55 290.48,134.17 290.61,133.79 290.74,133.43 290.87,133.07 291.00,132.73 291.13,132.39 291.26,132.06 291.39,131.75 291.52,131.44 291.65,131.14 291.78,130.85 291.91,130.56 292.04,130.29 292.17,130.02 292.30,129.76 292.42,129.52 292.55,129.27 292.68,129.04 292.81,128.81 292.94,128.60 293.07,128.39 293.20,128.19 293.33,127.99 293.46,127.80 293.59,127.62 293.72,127.45 293.85,127.29 293.98,127.13 294.11,126.98 294.24,126.83 294.37,126.70 294.49,126.57 294.62,126.44 294.75,126.33 294.88,126.22 295.01,126.11 295.14,126.02 295.27,125.93 295.40,125.84 295.53,125.77 295.66,125.70 295.79,125.63 295.92,125.57 296.05,125.52 296.18,125.48 296.31,125.44 296.43,125.40 296.56,125.38 296.69,125.35 296.82,125.34 296.95,125.33 297.08,125.33 297.21,125.33 297.34,125.34 297.47,125.35 297.60,125.37 297.73,125.39 297.86,125.42 297.99,125.46 298.12,125.50 298.25,125.55 298.38,125.60 298.50,125.66 298.63,125.73 298.76,125.79 298.89,125.87 299.02,125.95 299.15,126.04 299.28,126.13 299.41,126.22 299.54,126.32 299.67,126.43 299.80,126.54 299.93,126.66 300.06,126.78 300.19,126.91 300.32,127.04 300.44,127.18 300.57,127.33 300.70,127.47 300.83,127.63 300.96,127.79 301.09,127.95 301.22,128.12 301.35,128.29 301.48,128.47 301.61,128.66 301.74,128.85 301.87,129.04 302.00,129.24 302.13,129.44 302.26,129.65 302.38,129.87 302.51,130.09 302.64,130.31 302.77,130.54 302.90,130.77 303.03,131.01 303.16,131.26 303.29,131.51 303.42,131.76 303.55,132.02 303.68,132.28 303.81,132.55 303.94,132.83 304.07,133.11 304.20,133.39 304.33,133.68 304.45,133.97 304.58,134.27 304.71,134.57 304.84,134.88 304.97,135.20 305.10,135.51 305.23,135.84 305.36,136.17 305.49,136.50 305.62,136.84 305.75,137.18 305.88,137.53 306.01,137.88 306.14,138.24 306.27,138.60 306.39,138.97 306.52,139.34 306.65,139.72 306.78,140.10 306.91,140.49 307.04,140.88 307.17,141.28 307.30,141.68 307.43,142.09 307.56,142.50 307.69,142.92 307.82,143.34 307.95,143.77 308.08,144.20 308.21,144.64 308.33,145.08 308.46,145.53 308.59,145.98 308.72,146.43 308.85,146.90 308.98,147.36 309.11,147.84 309.24,148.31 309.37,148.79 309.50,149.28 309.63,149.77 309.76,150.27 309.89,150.77 310.02,151.28 310.15,151.79 310.28,152.31 310.40,152.83 310.53,153.36 310.66,153.89 310.79,154.43 310.92,154.97 311.05,155.52 311.18,156.07 311.31,156.63 311.44,157.19 311.57,157.76 311.70,158.33 311.83,158.91 311.96,159.49 312.09,160.07 312.22,160.67 312.34,161.26 312.47,161.87 312.60,162.47 312.73,163.09 312.86,163.70 312.99,164.32 313.12,164.95 313.25,165.58 313.38,166.22 313.51,166.86 313.64,167.51 313.77,168.16 313.90,168.81 314.03,169.48 314.16,170.14 314.29,170.81 314.41,171.49 314.54,172.17 314.67,172.85 314.80,173.54 314.93,174.24 315.06,174.94 315.19,175.64 315.32,176.35 315.45,177.06 315.58,177.78 315.71,178.50 315.84,179.23 315.97,179.96 316.10,180.69 316.23,181.43 316.35,182.18 316.48,182.93 316.61,183.68 316.74,184.44 316.87,185.20 317.00,185.97 317.13,186.74 317.26,187.51 317.39,188.29 317.52,189.07 317.65,189.86 317.78,190.65 317.91,191.44 318.04,192.24 318.17,193.04 318.29,193.85 318.42,194.66 318.55,195.47 318.68,196.29 318.81,197.11 318.94,197.93 319.07,198.76 319.20,199.59 319.33,200.43 319.46,201.26 319.59,202.10 319.72,202.95 319.85,203.79 319.98,204.64 320.11,205.49 320.24,206.35 320.36,207.21 320.49,208.07 320.62,208.93 320.75,209.80 320.88,210.66 321.01,211.53 321.14,212.40 321.27,213.28 321.40,214.15 321.53,215.03 321.66,215.91 321.79,216.79 321.92,217.68 322.05,218.56 322.18,219.45 322.30,220.33 322.43,221.22 322.56,222.11 322.69,223.00 322.82,223.89 322.95,224.78 323.08,225.67 323.21,226.57 323.34,227.46 323.47,228.35 323.60,229.24 323.73,230.14 323.86,231.03 323.99,231.92 324.12,232.81 324.25,233.71 324.37,234.60 324.50,235.49 324.63,236.38 324.76,237.26 324.89,238.15 325.02,239.03 325.15,239.92 325.28,240.80 325.41,241.68 325.54,242.56 325.67,243.43 325.80,244.31 325.93,245.18 326.06,246.05 326.19,246.91 326.31,247.77 326.44,248.63 326.57,249.49 326.70,250.34 326.83,251.19 326.96,252.04 327.09,252.88 327.22,253.72 327.35,254.55 327.48,255.38 327.61,256.21 327.74,257.03 327.87,257.84 328.00,258.65 328.13,259.46 328.25,260.26 328.38,261.05 328.51,261.84 328.64,262.62 328.77,263.40 328.90,264.17 329.03,264.94 329.16,265.70 329.29,266.45 329.42,267.19 329.55,267.93 329.68,268.66 329.81,269.39 329.94,270.10 330.07,270.81 330.20,271.52 330.32,272.21 330.45,272.90 330.58,273.57 330.71,274.24 330.84,274.90 330.97,275.56 331.10,276.20 331.23,276.84 331.36,277.46 331.49,278.08 331.62,278.69 331.75,279.29 331.88,279.88 332.01,280.46 332.14,281.03 332.26,281.59 332.39,282.14 332.52,282.68 332.65,283.22 332.78,283.74 332.91,284.25 333.04,284.75 333.17,285.24 333.30,285.72 333.43,286.19 333.56,286.65 333.69,287.09 333.82,287.53 333.95,287.96 334.08,288.37 334.20,288.77 334.33,289.17 334.46,289.55 334.59,289.92 334.72,290.28 334.85,290.62 334.98,290.96 335.11,291.29 335.24,291.60 335.37,291.90 335.50,292.19 335.63,292.47 335.76,292.74 335.89,292.99 336.02,293.24 336.15,293.47 336.27,293.69 336.40,293.90 336.53,294.09 336.66,294.28 336.79,294.45 336.92,294.62 337.05,294.77 337.18,294.91 337.31,295.04 337.44,295.15 337.57,295.26 337.70,295.35 337.83,295.43 337.96,295.50 338.09,295.56 338.21,295.61 338.34,295.65 338.47,295.67 338.60,295.69 338.73,295.69 338.86,295.69 338.99,295.67 339.12,295.64 339.25,295.60 339.38,295.55 339.51,295.49 339.64,295.42 339.77,295.33 339.90,295.24 340.03,295.14 340.16,295.02 340.28,294.90 340.41,294.77 340.54,294.63 340.67,294.47 340.80,294.31 340.93,294.14 341.06,293.96 341.19,293.77 341.32,293.57 341.45,293.36 341.58,293.14 341.71,292.91 341.84,292.67 341.97,292.43 342.10,292.18 342.22,291.91 342.35,291.64 342.48,291.37 342.61,291.08 342.74,290.78 342.87,290.48 343.00,290.17 343.13,289.85 343.26,289.53 343.39,289.20 343.52,288.86 343.65,288.51 343.78,288.16 343.91,287.80 344.04,287.43 344.16,287.06 344.29,286.68 344.42,286.29 344.55,285.90 344.68,285.50 344.81,285.09 344.94,284.68 345.07,284.27 345.20,283.84 345.33,283.42 345.46,282.99 345.59,282.55 345.72,282.11 345.85,281.66 345.98,281.21 346.11,280.75 346.23,280.29 346.36,279.82 346.49,279.35 346.62,278.88 346.75,278.40 346.88,277.92 347.01,277.43 347.14,276.94" fill="none" stroke="#111" stroke-width="0.95" stroke-dasharray="1 3"/>
<polyline points="36.70,265.54 36.83,265.97 36.96,266.41 37.09,266.86 37.22,267.32 37.35,267.79 37.48,268.27 37.61,268.76 37.73,269.26 37.86,269.76 37.99,270.27 38.12,270.79 38.25,271.31 38.38,271.84 38.51,272.37 38.64,272.90 38.77,273.44 38.90,273.98 39.03,274.53 39.16,275.07 39.29,275.62 39.42,276.16 39.55,276.71 39.68,277.25 39.80,277.79 39.93,278.33 40.06,278.86 40.19,279.40 40.32,279.92 40.45,280.45 40.58,280.96 40.71,281.47 40.84,281.98 40.97,282.47 41.10,282.96 41.23,283.44 41.36,283.91 41.49,284.37 41.62,284.82 41.74,285.26 41.87,285.69 42.00,286.11 42.13,286.51 42.26,286.90 42.39,287.28 42.52,287.65 42.65,288.00 42.78,288.34 42.91,288.66 43.04,288.96 43.17,289.26 43.30,289.53 43.43,289.79 43.56,290.03 43.68,290.26 43.81,290.47 43.94,290.66 44.07,290.83 44.20,290.99 44.33,291.13 44.46,291.25 44.59,291.35 44.72,291.43 44.85,291.50 44.98,291.54 45.11,291.57 45.24,291.58 45.37,291.55 45.50,291.50 45.63,291.41 45.75,291.30 45.88,291.15 46.01,290.97 46.14,290.76 46.27,290.52 46.40,290.25 46.53,289.94 46.66,289.61 46.79,289.25 46.92,288.85 47.05,288.43 47.18,287.99 47.31,287.51 47.44,287.01 47.57,286.49 47.69,285.94 47.82,285.37 47.95,284.78 48.08,284.17 48.21,283.54 48.34,282.89 48.47,282.23 48.60,281.56 48.73,280.87 48.86,280.17 48.99,279.46 49.12,278.74 49.25,278.02 49.38,277.29 49.51,276.56 49.64,275.82 49.76,275.09 49.89,274.35 50.02,273.62 50.15,272.89 50.28,272.17 50.41,271.46 50.54,270.75 50.67,270.05 50.80,269.36 50.93,268.69 51.06,268.02 51.19,267.38 51.32,266.74 51.45,266.13 51.58,265.53 51.70,264.95 51.83,264.39 51.96,263.85 52.09,263.33 52.22,262.84 52.35,262.36 52.48,261.91 52.61,261.49 52.74,261.09 52.87,260.72 53.00,260.37 53.13,260.05 53.26,259.76 53.39,259.50 53.52,259.26 53.64,259.05 53.77,258.87 53.90,258.73 54.03,258.61 54.16,258.52 54.29,258.46 54.42,258.43 54.55,258.43 54.68,258.46 54.81,258.52 54.94,258.61 55.07,258.74 55.20,258.89 55.33,259.07 55.46,259.28 55.59,259.52 55.71,259.79 55.84,260.09 55.97,260.42 56.10,260.77 56.23,261.16 56.36,261.57 56.49,262.00 56.62,262.46 56.75,262.95 56.88,263.47 57.01,264.00 57.14,264.56 57.27,265.15 57.40,265.75 57.53,266.37 57.65,267.02 57.78,267.68 57.91,268.36 58.04,269.06 58.17,269.77 58.30,270.50 58.43,271.24 58.56,271.99 58.69,272.75 58.82,273.52 58.95,274.30 59.08,275.08 59.21,275.87 59.34,276.66 59.47,277.45 59.59,278.24 59.72,279.03 59.85,279.81 59.98,280.59 60.11,281.36 60.24,282.13 60.37,282.88 60.50,283.62 60.63,284.34 60.76,285.05 60.89,285.74 61.02,286.41 61.15,287.06 61.28,287.68 61.41,288.28 61.54,288.85 61.66,289.40 61.79,289.91 61.92,290.39 62.05,290.84 62.18,291.25 62.31,291.63 62.44,291.97 62.57,292.28 62.70,292.54 62.83,292.76 62.96,292.95 63.09,293.09 63.22,293.18 63.35,293.24 63.48,293.24 63.60,293.21 63.73,293.13 63.86,293.01 63.99,292.84 64.12,292.63 64.25,292.37 64.38,292.07 64.51,291.72 64.64,291.34 64.77,290.91 64.90,290.44 65.03,289.93 65.16,289.38 65.29,288.79 65.42,288.16 65.55,287.50 65.67,286.80 65.80,286.07 65.93,285.31 66.06,284.52 66.19,283.70 66.32,282.85 66.45,281.98 66.58,281.08 66.71,280.17 66.84,279.23 66.97,278.27 67.10,277.30 67.23,276.31 67.36,275.31 67.49,274.30 67.61,273.28 67.74,272.25 67.87,271.22 68.00,270.18 68.13,269.14 68.26,268.09 68.39,267.05 68.52,266.01 68.65,264.98 68.78,263.95 68.91,262.93 69.04,261.92 69.17,260.91 69.30,259.92 69.43,258.94 69.55,257.97 69.68,257.02 69.81,256.09 69.94,255.17 70.07,254.27 70.20,253.39 70.33,252.53 70.46,251.69 70.59,250.87 70.72,250.08 70.85,249.31 70.98,248.56 71.11,247.84 71.24,247.15 71.37,246.48 71.50,245.84 71.62,245.23 71.75,244.65 71.88,244.09 72.01,243.57 72.14,243.07 72.27,242.60 72.40,242.17 72.53,241.77 72.66,241.39 72.79,241.05 72.92,240.74 73.05,240.47 73.18,240.22 73.31,240.01 73.44,239.83 73.56,239.68 73.69,239.57 73.82,239.49 73.95,239.44 74.08,239.43 74.21,239.45 74.34,239.50 74.47,239.59 74.60,239.71 74.73,239.86 74.86,240.05 74.99,240.27 75.12,240.52 75.25,240.81 75.38,241.13 75.50,241.48 75.63,241.87 75.76,242.28 75.89,242.73 76.02,243.21 76.15,243.72 76.28,244.27 76.41,244.84 76.54,245.45 76.67,246.08 76.80,246.74 76.93,247.44 77.06,248.16 77.19,248.91 77.32,249.68 77.45,250.48 77.57,251.31 77.70,252.16 77.83,253.04 77.96,253.94 78.09,254.87 78.22,255.81 78.35,256.78 78.48,257.76 78.61,258.76 78.74,259.78 78.87,260.82 79.00,261.87 79.13,262.93 79.26,264.01 79.39,265.10 79.51,266.19 79.64,267.29 79.77,268.40 79.90,269.51 80.03,270.63 80.16,271.74 80.29,272.86 80.42,273.97 80.55,275.07 80.68,276.17 80.81,277.26 80.94,278.33 81.07,279.39 81.20,280.44 81.33,281.47 81.46,282.48 81.58,283.46 81.71,284.42 81.84,285.36 81.97,286.26 82.10,287.14 82.23,287.98 82.36,288.78 82.49,289.55 82.62,290.27 82.75,290.96 82.88,291.60 83.01,292.19 83.14,292.74 83.27,293.24 83.40,293.69 83.52,294.08 83.65,294.42 83.78,294.71 83.91,294.94 84.04,295.11 84.17,295.23 84.30,295.28 84.43,295.28 84.56,295.21 84.69,295.09 84.82,294.90 84.95,294.66 85.08,294.35 85.21,293.98 85.34,293.56 85.46,293.07 85.59,292.53 85.72,291.93 85.85,291.27 85.98,290.56 86.11,289.79 86.24,288.97 86.37,288.10 86.50,287.18 86.63,286.21 86.76,285.20 86.89,284.14 87.02,283.05 87.15,281.91 87.28,280.73 87.41,279.52 87.53,278.28 87.66,277.00 87.79,275.70 87.92,274.37 88.05,273.01 88.18,271.63 88.31,270.24 88.44,268.82 88.57,267.39 88.70,265.95 88.83,264.50 88.96,263.04 89.09,261.57 89.22,260.10 89.35,258.62 89.47,257.14 89.60,255.67 89.73,254.20 89.86,252.73 89.99,251.27 90.12,249.82 90.25,248.38 90.38,246.96 90.51,245.54 90.64,244.14 90.77,242.76 90.90,241.39 91.03,240.04 91.16,238.71 91.29,237.40 91.42,236.11 91.54,234.85 91.67,233.61 91.80,232.40 91.93,231.21 92.06,230.04 92.19,228.91 92.32,227.80 92.45,226.72 92.58,225.67 92.71,224.65 92.84,223.66 92.97,222.70 93.10,221.77 93.23,220.88 93.36,220.01 93.48,219.18 93.61,218.38 93.74,217.62 93.87,216.89 94.00,216.19 94.13,215.52 94.26,214.90 94.39,214.30 94.52,213.74 94.65,213.22 94.78,212.73 94.91,212.28 95.04,211.86 95.17,211.48 95.30,211.14 95.42,210.83 95.55,210.55 95.68,210.32 95.81,210.12 95.94,209.96 96.07,209.83 96.20,209.75 96.33,209.70 96.46,209.68 96.59,209.71 96.72,209.77 96.85,209.87 96.98,210.01 97.11,210.18 97.24,210.39 97.37,210.64 97.49,210.93 97.62,211.25 97.75,211.61 97.88,212.01 98.01,212.45 98.14,212.92 98.27,213.44 98.40,213.99 98.53,214.58 98.66,215.20 98.79,215.87 98.92,216.57 99.05,217.31 99.18,218.09 99.31,218.90 99.43,219.76 99.56,220.65 99.69,221.58 99.82,222.55 99.95,223.55 100.08,224.59 100.21,225.67 100.34,226.78 100.47,227.93 100.60,229.11 100.73,230.33 100.86,231.58 100.99,232.87 101.12,234.19 101.25,235.54 101.38,236.92 101.50,238.34 101.63,239.78 101.76,241.25 101.89,242.75 102.02,244.28 102.15,245.83 102.28,247.40 102.41,248.99 102.54,250.61 102.67,252.24 102.80,253.89 102.93,255.55 103.06,257.23 103.19,258.91 103.32,260.60 103.44,262.29 103.57,263.99 103.70,265.68 103.83,267.37 103.96,269.06 104.09,270.73 104.22,272.38 104.35,274.02 104.48,275.64 104.61,277.23 104.74,278.79 104.87,280.32 105.00,281.81 105.13,283.26 105.26,284.67 105.38,286.02 105.51,287.32 105.64,288.56 105.77,289.74 105.90,290.85 106.03,291.88 106.16,292.85 106.29,293.73 106.42,294.53 106.55,295.24 106.68,295.86 106.81,296.39 106.94,296.82 107.07,297.15 107.20,297.38 107.33,297.51 107.45,297.52 107.58,297.43 107.71,297.23 107.84,296.92 107.97,296.50 108.10,295.97 108.23,295.32 108.36,294.57 108.49,293.70 108.62,292.73 108.75,291.65 108.88,290.46 109.01,289.18 109.14,287.79 109.27,286.31 109.39,284.73 109.52,283.06 109.65,281.31 109.78,279.48 109.91,277.56 110.04,275.57 110.17,273.52 110.30,271.40 110.43,269.22 110.56,266.98 110.69,264.69 110.82,262.36 110.95,259.99 111.08,257.58 111.21,255.13 111.33,252.66 111.46,250.17 111.59,247.66 111.72,245.14 111.85,242.61 111.98,240.07 112.11,237.52 112.24,234.99 112.37,232.45 112.50,229.92 112.63,227.41 112.76,224.91 112.89,222.43 113.02,219.97 113.15,217.53 113.28,215.12 113.40,212.73 113.53,210.37 113.66,208.05 113.79,205.76 113.92,203.50 114.05,201.28 114.18,199.10 114.31,196.95 114.44,194.84 114.57,192.78 114.70,190.76 114.83,188.77 114.96,186.84 115.09,184.94 115.22,183.09 115.34,181.28 115.47,179.52 115.60,177.80 115.73,176.13 115.86,174.51 115.99,172.93 116.12,171.39 116.25,169.90 116.38,168.46 116.51,167.06 116.64,165.71 116.77,164.41 116.90,163.15 117.03,161.93 117.16,160.76 117.29,159.64 117.41,158.56 117.54,157.53 117.67,156.54 117.80,155.60 117.93,154.70 118.06,153.85 118.19,153.04 118.32,152.28 118.45,151.56 118.58,150.89 118.71,150.26 118.84,149.68 118.97,149.14 119.10,148.65 119.23,148.20 119.35,147.80 119.48,147.45 119.61,147.14 119.74,146.88 119.87,146.66 120.00,146.49 120.13,146.37 120.26,146.29 120.39,146.26 120.52,146.29 120.65,146.37 120.78,146.49 120.91,146.68 121.04,146.91 121.17,147.20 121.29,147.55 121.42,147.95 121.55,148.41 121.68,148.93 121.81,149.51 121.94,150.15 122.07,150.86 122.20,151.63 122.33,152.46 122.46,153.36 122.59,154.33 122.72,155.38 122.85,156.49 122.98,157.68 123.11,158.95 123.24,160.29 123.36,161.72 123.49,163.23 123.62,164.83 123.75,166.52 123.88,168.30 124.01,170.17 124.14,172.13 124.27,174.20 124.40,176.37 124.53,178.64 124.66,181.02 124.79,183.51 124.92,186.12 125.05,188.83 125.18,191.67 125.30,194.62 125.43,197.69 125.56,200.89 125.69,204.20 125.82,207.64 125.95,211.20 126.08,214.88 126.21,218.67 126.34,222.58 126.47,226.59 126.60,230.71 126.73,234.91 126.86,239.19 126.99,243.55 127.12,247.95 127.25,252.38 127.37,256.82 127.50,261.24 127.63,265.62 127.76,269.92 127.89,274.10 128.02,278.12 128.15,281.95 128.28,285.53 128.41,288.81 128.54,291.75 128.67,294.28 128.80,296.36 128.93,297.94 129.06,298.96 129.19,299.38 129.31,299.16 129.44,298.28 129.57,296.71 129.70,294.43 129.83,291.46 129.96,287.78 130.09,283.44 130.22,278.45 130.35,272.87 130.48,266.74 130.61,260.12 130.74,253.08 130.87,245.68 131.00,238.00 131.13,230.10 131.25,222.04 131.38,213.91 131.51,205.74 131.64,197.61 131.77,189.56 131.90,181.62 132.03,173.85 132.16,166.26 132.29,158.89 132.42,151.75 132.55,144.86 132.68,138.23 132.81,131.86 132.94,125.77 133.07,119.94 133.20,114.38 133.32,109.08 133.45,104.03 133.58,99.26 133.71,94.73 133.84,90.42 133.97,86.34 134.10,82.48 134.23,78.81 134.36,75.34 134.49,72.05 134.62,68.94 134.75,65.99 134.88,63.20 135.01,60.55 135.14,58.05 135.26,55.68 135.39,53.44 135.52,51.32 135.65,49.30 135.78,47.40 135.91,45.59 136.04,43.87 136.17,42.25 136.30,40.70 136.43,39.24 136.56,37.85 136.69,36.53 136.82,35.27 136.95,34.08 137.08,32.95 137.20,31.87 137.33,30.84 137.46,29.87 137.59,28.94 137.72,28.05 137.85,27.21 137.98,26.40 138.11,25.63 138.24,24.90 138.37,24.20 138.50,23.53 138.63,22.90 138.76,22.29 138.89,21.70 139.02,21.15 139.15,20.62 139.27,20.11 139.40,19.62 139.53,19.15 139.66,18.70 139.79,18.27 139.92,17.86 140.05,17.47 140.18,17.09 140.31,16.73 140.44,16.38 140.57,16.04 140.70,15.72 140.83,15.41 140.96,15.12 141.09,14.83 141.21,14.56 141.34,14.29 141.47,14.04 141.60,13.80 141.73,13.56 141.86,13.33 141.99,13.12 142.12,12.91 142.25,12.70 142.38,12.51 142.51,12.32 142.64,12.14 142.77,11.96 142.90,11.79 143.03,11.63 143.16,11.47 143.28,11.32 143.41,11.17 143.54,11.03 143.67,10.89 143.80,10.76 143.93,10.63 144.06,10.50 144.19,10.38 144.32,10.26 144.45,10.15 144.58,10.04 144.71,9.94 144.84,9.83 144.97,9.73 145.10,9.64 145.22,9.54 145.35,9.45 145.48,9.37 145.61,9.28 145.74,9.20 145.87,9.12 146.00,9.04 146.13,8.97 146.26,8.89 146.39,8.82 146.52,8.75 146.65,8.69 146.78,8.62 146.91,8.56 147.04,8.50 147.16,8.44 147.29,8.38 147.42,8.32 147.55,8.27 147.68,8.21 147.81,8.16 147.94,8.11 148.07,8.06 148.20,8.01 148.33,7.97 148.46,7.92 148.59,7.88 148.72,7.83 148.85,7.79 148.98,7.75 149.11,7.71 149.23,7.67 149.36,7.64 149.49,7.60 149.62,7.56 149.75,7.53 149.88,7.49 150.01,7.46 150.14,7.43 150.27,7.40 150.40,7.37 150.53,7.34 150.66,7.31 150.79,7.28 150.92,7.25 151.05,7.22 151.17,7.20 151.30,7.17 151.43,7.14 151.56,7.12 151.69,7.09 151.82,7.07 151.95,7.05 152.08,7.03 152.21,7.00 152.34,6.98 152.47,6.96 152.60,6.94 152.73,6.92 152.86,6.90 152.99,6.88 153.12,6.86 153.24,6.84 153.37,6.82 153.50,6.81 153.63,6.79 153.76,6.77 153.89,6.76 154.02,6.74 154.15,6.72 154.28,6.71 154.41,6.69 154.54,6.68 154.67,6.66 154.80,6.65 154.93,6.64 155.06,6.62 155.18,6.61 155.31,6.60 155.44,6.58 155.57,6.57 155.70,6.56 155.83,6.55 155.96,6.53 156.09,6.52 156.22,6.51 156.35,6.50 156.48,6.49 156.61,6.48 156.74,6.47 156.87,6.46 157.00,6.45 157.12,6.44 157.25,6.43 157.38,6.42 157.51,6.41 157.64,6.40 157.77,6.39 157.90,6.38 158.03,6.37 158.16,6.36 158.29,6.35 158.42,6.35 158.55,6.34 158.68,6.33 158.81,6.32 158.94,6.31 159.07,6.31 159.19,6.30 159.32,6.29 159.45,6.28 159.58,6.28 159.71,6.27 159.84,6.26 159.97,6.26 160.10,6.25 160.23,6.24 160.36,6.24 160.49,6.23 160.62,6.23 160.75,6.22 160.88,6.21 161.01,6.21 161.13,6.20 161.26,6.20 161.39,6.19 161.52,6.19 161.65,6.18 161.78,6.18 161.91,6.17 162.04,6.17 162.17,6.16 162.30,6.16 162.43,6.15 162.56,6.15 162.69,6.14 162.82,6.14 162.95,6.13 163.07,6.13 163.20,6.12 163.33,6.12 163.46,6.11 163.59,6.11 163.72,6.11 163.85,6.10 163.98,6.10 164.11,6.09 164.24,6.09 164.37,6.09 164.50,6.08 164.63,6.08 164.76,6.08 164.89,6.07 165.02,6.07 165.14,6.06 165.27,6.06 165.40,6.06 165.53,6.05 165.66,6.05 165.79,6.05 165.92,6.05 166.05,6.04 166.18,6.04 166.31,6.04 166.44,6.03 166.57,6.03 166.70,6.03 166.83,6.02 166.96,6.02 167.08,6.02 167.21,6.02 167.34,6.01 167.47,6.01 167.60,6.01 167.73,6.01 167.86,6.00 167.99,6.00 168.12,6.00 168.25,6.00 168.38,5.99 168.51,5.99 168.64,5.99 168.77,5.99 168.90,5.98 169.03,5.98 169.15,5.98 169.28,5.98 169.41,5.97 169.54,5.97 169.67,5.97 169.80,5.97 169.93,5.97 170.06,5.96 170.19,5.96 170.32,5.96 170.45,5.96 170.58,5.96 170.71,5.95 170.84,5.95 170.97,5.95 171.09,5.95 171.22,5.95 171.35,5.95 171.48,5.94 171.61,5.94 171.74,5.94 171.87,5.94 172.00,5.94 172.13,5.94 172.26,5.93 172.39,5.93 172.52,5.93 172.65,5.93 172.78,5.93 172.91,5.93 173.03,5.92 173.16,5.92 173.29,5.92 173.42,5.92 173.55,5.92 173.68,5.92 173.81,5.92 173.94,5.91 174.07,5.91 174.20,5.91 174.33,5.91 174.46,5.91 174.59,5.91 174.72,5.91 174.85,5.91 174.98,5.90 175.10,5.90 175.23,5.90 175.36,5.90 175.49,5.90 175.62,5.90 175.75,5.90 175.88,5.90 176.01,5.90 176.14,5.89 176.27,5.89 176.40,5.89 176.53,5.89 176.66,5.89 176.79,5.89 176.92,5.89 177.04,5.89 177.17,5.89 177.30,5.88 177.43,5.88 177.56,5.88 177.69,5.88 177.82,5.88 177.95,5.88 178.08,5.88 178.21,5.88 178.34,5.88 178.47,5.88 178.60,5.88 178.73,5.87 178.86,5.87 178.99,5.87 179.11,5.87 179.24,5.87 179.37,5.87 179.50,5.87 179.63,5.87 179.76,5.87 179.89,5.87 180.02,5.87 180.15,5.87 180.28,5.87 180.41,5.86 180.54,5.86 180.67,5.86 180.80,5.86 180.93,5.86 181.05,5.86 181.18,5.86 181.31,5.86 181.44,5.86 181.57,5.86 181.70,5.86 181.83,5.86 181.96,5.86 182.09,5.86 182.22,5.85 182.35,5.85 182.48,5.85 182.61,5.85 182.74,5.85 182.87,5.85 182.99,5.85 183.12,5.85 183.25,5.85 183.38,5.85 183.51,5.85 183.64,5.85 183.77,5.85 183.90,5.85 184.03,5.85 184.16,5.85 184.29,5.85 184.42,5.85 184.55,5.84 184.68,5.84 184.81,5.84 184.94,5.84 185.06,5.84 185.19,5.84 185.32,5.84 185.45,5.84 185.58,5.84 185.71,5.84 185.84,5.84 185.97,5.84 186.10,5.84 186.23,5.84 186.36,5.84 186.49,5.84 186.62,5.84 186.75,5.84 186.88,5.84 187.00,5.84 187.13,5.84 187.26,5.84 187.39,5.84 187.52,5.83 187.65,5.83 187.78,5.83 187.91,5.83 188.04,5.83 188.17,5.83 188.30,5.83 188.43,5.83 188.56,5.83 188.69,5.83 188.82,5.83 188.94,5.83 189.07,5.83 189.20,5.83 189.33,5.83 189.46,5.83 189.59,5.83 189.72,5.83 189.85,5.83 189.98,5.83 190.11,5.83 190.24,5.83 190.37,5.83 190.50,5.83 190.63,5.83 190.76,5.83 190.89,5.83 191.01,5.83 191.14,5.83 191.27,5.83 191.40,5.83 191.53,5.83 191.66,5.83 191.79,5.82 191.92,5.82 192.05,5.82 192.18,5.82 192.31,5.82 192.44,5.82 192.57,5.82 192.70,5.82 192.83,5.82 192.95,5.82 193.08,5.82 193.21,5.82 193.34,5.82 193.47,5.82 193.60,5.82 193.73,5.82 193.86,5.82 193.99,5.82 194.12,5.82 194.25,5.82 194.38,5.82 194.51,5.82 194.64,5.82 194.77,5.82 194.90,5.82 195.02,5.82 195.15,5.82 195.28,5.82 195.41,5.82 195.54,5.82 195.67,5.82 195.80,5.82 195.93,5.82 196.06,5.82 196.19,5.82 196.32,5.82 196.45,5.82 196.58,5.82 196.71,5.82 196.84,5.82 196.96,5.82 197.09,5.82 197.22,5.82 197.35,5.82 197.48,5.82 197.61,5.82 197.74,5.82 197.87,5.82 198.00,5.82 198.13,5.82 198.26,5.82 198.39,5.82 198.52,5.82 198.65,5.82 198.78,5.82 198.90,5.82 199.03,5.82 199.16,5.82 199.29,5.82 199.42,5.82 199.55,5.82 199.68,5.82 199.81,5.82 199.94,5.82 200.07,5.82 200.20,5.82 200.33,5.82 200.46,5.82 200.59,5.82 200.72,5.82 200.85,5.82 200.97,5.82 201.10,5.82 201.23,5.82 201.36,5.82 201.49,5.82 201.62,5.82 201.75,5.82 201.88,5.82 202.01,5.82 202.14,5.82 202.27,5.82 202.40,5.82 202.53,5.82 202.66,5.82 202.79,5.82 202.91,5.82 203.04,5.82 203.17,5.82 203.30,5.82 203.43,5.82 203.56,5.82 203.69,5.82 203.82,5.82 203.95,5.82 204.08,5.82 204.21,5.82 204.34,5.82 204.47,5.82 204.60,5.82 204.73,5.82 204.86,5.81 204.98,5.81 205.11,5.81 205.24,5.81 205.37,5.81 205.50,5.81 205.63,5.81 205.76,5.81 205.89,5.81 206.02,5.81 206.15,5.81 206.28,5.81 206.41,5.81 206.54,5.81 206.67,5.81 206.80,5.81 206.92,5.81 207.05,5.81 207.18,5.81 207.31,5.81 207.44,5.81 207.57,5.81 207.70,5.81 207.83,5.81 207.96,5.81 208.09,5.81 208.22,5.81 208.35,5.81 208.48,5.81 208.61,5.81 208.74,5.81 208.86,5.81 208.99,5.81 209.12,5.81 209.25,5.81 209.38,5.81 209.51,5.81 209.64,5.81 209.77,5.81 209.90,5.81 210.03,5.81 210.16,5.81 210.29,5.81 210.42,5.81 210.55,5.81 210.68,5.81 210.81,5.82 210.93,5.82 211.06,5.82 211.19,5.82 211.32,5.82 211.45,5.82 211.58,5.82 211.71,5.82 211.84,5.82 211.97,5.82 212.10,5.82 212.23,5.82 212.36,5.82 212.49,5.82 212.62,5.82 212.75,5.82 212.87,5.82 213.00,5.82 213.13,5.82 213.26,5.82 213.39,5.82 213.52,5.82 213.65,5.82 213.78,5.82 213.91,5.82 214.04,5.82 214.17,5.82 214.30,5.82 214.43,5.82 214.56,5.82 214.69,5.82 214.81,5.82 214.94,5.82 215.07,5.82 215.20,5.82 215.33,5.82 215.46,5.82 215.59,5.82 215.72,5.82 215.85,5.82 215.98,5.82 216.11,5.82 216.24,5.82 216.37,5.82 216.50,5.82 216.63,5.82 216.76,5.82 216.88,5.82 217.01,5.83 217.14,5.83 217.27,5.83 217.40,5.83 217.53,5.83 217.66,5.83 217.79,5.83 217.92,5.83 218.05,5.83 218.18,5.83 218.31,5.83 218.44,5.83 218.57,5.83 218.70,5.83 218.82,5.83 218.95,5.83 219.08,5.83 219.21,5.83 219.34,5.83 219.47,5.83 219.60,5.83 219.73,5.83 219.86,5.83 219.99,5.83 220.12,5.83 220.25,5.83 220.38,5.83 220.51,5.83 220.64,5.83 220.77,5.83 220.89,5.83 221.02,5.83 221.15,5.84 221.28,5.84 221.41,5.84 221.54,5.84 221.67,5.84 221.80,5.84 221.93,5.84 222.06,5.84 222.19,5.84 222.32,5.84 222.45,5.84 222.58,5.84 222.71,5.84 222.83,5.84 222.96,5.84 223.09,5.84 223.22,5.84 223.35,5.84 223.48,5.84 223.61,5.84 223.74,5.84 223.87,5.84 224.00,5.84 224.13,5.84 224.26,5.85 224.39,5.85 224.52,5.85 224.65,5.85 224.77,5.85 224.90,5.85 225.03,5.85 225.16,5.85 225.29,5.85 225.42,5.85 225.55,5.85 225.68,5.85 225.81,5.85 225.94,5.85 226.07,5.85 226.20,5.85 226.33,5.85 226.46,5.85 226.59,5.85 226.72,5.85 226.84,5.86 226.97,5.86 227.10,5.86 227.23,5.86 227.36,5.86 227.49,5.86 227.62,5.86 227.75,5.86 227.88,5.86 228.01,5.86 228.14,5.86 228.27,5.86 228.40,5.86 228.53,5.86 228.66,5.86 228.78,5.86 228.91,5.86 229.04,5.86 229.17,5.87 229.30,5.87 229.43,5.87 229.56,5.87 229.69,5.87 229.82,5.87 229.95,5.87 230.08,5.87 230.21,5.87 230.34,5.87 230.47,5.87 230.60,5.87 230.72,5.87 230.85,5.87 230.98,5.87 231.11,5.88 231.24,5.88 231.37,5.88 231.50,5.88 231.63,5.88 231.76,5.88 231.89,5.88 232.02,5.88 232.15,5.88 232.28,5.88 232.41,5.88 232.54,5.88 232.67,5.88 232.79,5.88 232.92,5.89 233.05,5.89 233.18,5.89 233.31,5.89 233.44,5.89 233.57,5.89 233.70,5.89 233.83,5.89 233.96,5.89 234.09,5.89 234.22,5.89 234.35,5.89 234.48,5.90 234.61,5.90 234.73,5.90 234.86,5.90 234.99,5.90 235.12,5.90 235.25,5.90 235.38,5.90 235.51,5.90 235.64,5.90 235.77,5.90 235.90,5.91 236.03,5.91 236.16,5.91 236.29,5.91 236.42,5.91 236.55,5.91 236.68,5.91 236.80,5.91 236.93,5.91 237.06,5.91 237.19,5.92 237.32,5.92 237.45,5.92 237.58,5.92 237.71,5.92 237.84,5.92 237.97,5.92 238.10,5.92 238.23,5.92 238.36,5.92 238.49,5.93 238.62,5.93 238.74,5.93 238.87,5.93 239.00,5.93 239.13,5.93 239.26,5.93 239.39,5.93 239.52,5.93 239.65,5.94 239.78,5.94 239.91,5.94 240.04,5.94 240.17,5.94 240.30,5.94 240.43,5.94 240.56,5.94 240.68,5.95 240.81,5.95 240.94,5.95 241.07,5.95 241.20,5.95 241.33,5.95 241.46,5.95 241.59,5.95 241.72,5.96 241.85,5.96 241.98,5.96 242.11,5.96 242.24,5.96 242.37,5.96 242.50,5.96 242.63,5.97 242.75,5.97 242.88,5.97 243.01,5.97 243.14,5.97 243.27,5.97 243.40,5.97 243.53,5.98 243.66,5.98 243.79,5.98 243.92,5.98 244.05,5.98 244.18,5.98 244.31,5.99 244.44,5.99 244.57,5.99 244.69,5.99 244.82,5.99 244.95,5.99 245.08,6.00 245.21,6.00 245.34,6.00 245.47,6.00 245.60,6.00 245.73,6.00 245.86,6.01 245.99,6.01 246.12,6.01 246.25,6.01 246.38,6.01 246.51,6.01 246.64,6.02 246.76,6.02 246.89,6.02 247.02,6.02 247.15,6.02 247.28,6.03 247.41,6.03 247.54,6.03 247.67,6.03 247.80,6.03 247.93,6.04 248.06,6.04 248.19,6.04 248.32,6.04 248.45,6.04 248.58,6.05 248.70,6.05 248.83,6.05 248.96,6.05 249.09,6.06 249.22,6.06 249.35,6.06 249.48,6.06 249.61,6.06 249.74,6.07 249.87,6.07 250.00,6.07 250.13,6.07 250.26,6.08 250.39,6.08 250.52,6.08 250.64,6.08 250.77,6.09 250.90,6.09 251.03,6.09 251.16,6.09 251.29,6.10 251.42,6.10 251.55,6.10 251.68,6.10 251.81,6.11 251.94,6.11 252.07,6.11 252.20,6.11 252.33,6.12 252.46,6.12 252.59,6.12 252.71,6.12 252.84,6.13 252.97,6.13 253.10,6.13 253.23,6.14 253.36,6.14 253.49,6.14 253.62,6.15 253.75,6.15 253.88,6.15 254.01,6.15 254.14,6.16 254.27,6.16 254.40,6.16 254.53,6.17 254.65,6.17 254.78,6.17 254.91,6.18 255.04,6.18 255.17,6.18 255.30,6.19 255.43,6.19 255.56,6.19 255.69,6.20 255.82,6.20 255.95,6.20 256.08,6.21 256.21,6.21 256.34,6.21 256.47,6.22 256.59,6.22 256.72,6.23 256.85,6.23 256.98,6.23 257.11,6.24 257.24,6.24 257.37,6.25 257.50,6.25 257.63,6.25 257.76,6.26 257.89,6.26 258.02,6.27 258.15,6.27 258.28,6.27 258.41,6.28 258.54,6.28 258.66,6.29 258.79,6.29 258.92,6.30 259.05,6.30 259.18,6.30 259.31,6.31 259.44,6.31 259.57,6.32 259.70,6.32 259.83,6.33 259.96,6.33 260.09,6.34 260.22,6.34 260.35,6.35 260.48,6.35 260.60,6.36 260.73,6.36 260.86,6.37 260.99,6.37 261.12,6.38 261.25,6.38 261.38,6.39 261.51,6.39 261.64,6.40 261.77,6.40 261.90,6.41 262.03,6.42 262.16,6.42 262.29,6.43 262.42,6.43 262.55,6.44 262.67,6.45 262.80,6.45 262.93,6.46 263.06,6.46 263.19,6.47 263.32,6.48 263.45,6.48 263.58,6.49 263.71,6.49 263.84,6.50 263.97,6.51 264.10,6.51 264.23,6.52 264.36,6.53 264.49,6.53 264.61,6.54 264.74,6.55 264.87,6.56 265.00,6.56 265.13,6.57 265.26,6.58 265.39,6.58 265.52,6.59 265.65,6.60 265.78,6.61 265.91,6.62 266.04,6.62 266.17,6.63 266.30,6.64 266.43,6.65 266.55,6.66 266.68,6.66 266.81,6.67 266.94,6.68 267.07,6.69 267.20,6.70 267.33,6.71 267.46,6.71 267.59,6.72 267.72,6.73 267.85,6.74 267.98,6.75 268.11,6.76 268.24,6.77 268.37,6.78 268.50,6.79 268.62,6.80 268.75,6.81 268.88,6.82 269.01,6.83 269.14,6.84 269.27,6.85 269.40,6.86 269.53,6.87 269.66,6.88 269.79,6.89 269.92,6.90 270.05,6.91 270.18,6.92 270.31,6.93 270.44,6.95 270.56,6.96 270.69,6.97 270.82,6.98 270.95,6.99 271.08,7.01 271.21,7.02 271.34,7.03 271.47,7.04 271.60,7.05 271.73,7.07 271.86,7.08 271.99,7.09 272.12,7.11 272.25,7.12 272.38,7.13 272.51,7.15 272.63,7.16 272.76,7.18 272.89,7.19 273.02,7.20 273.15,7.22 273.28,7.23 273.41,7.25 273.54,7.26 273.67,7.28 273.80,7.29 273.93,7.31 274.06,7.33 274.19,7.34 274.32,7.36 274.45,7.38 274.57,7.39 274.70,7.41 274.83,7.43 274.96,7.44 275.09,7.46 275.22,7.48 275.35,7.50 275.48,7.51 275.61,7.53 275.74,7.55 275.87,7.57 276.00,7.59 276.13,7.61 276.26,7.63 276.39,7.65 276.51,7.67 276.64,7.69 276.77,7.71 276.90,7.73 277.03,7.75 277.16,7.77 277.29,7.79 277.42,7.82 277.55,7.84 277.68,7.86 277.81,7.88 277.94,7.91 278.07,7.93 278.20,7.96 278.33,7.98 278.46,8.00 278.58,8.03 278.71,8.05 278.84,8.08 278.97,8.10 279.10,8.13 279.23,8.16 279.36,8.18 279.49,8.21 279.62,8.24 279.75,8.27 279.88,8.29 280.01,8.32 280.14,8.35 280.27,8.38 280.40,8.41 280.52,8.44 280.65,8.47 280.78,8.50 280.91,8.54 281.04,8.57 281.17,8.60 281.30,8.63 281.43,8.67 281.56,8.70 281.69,8.73 281.82,8.77 281.95,8.80 282.08,8.84 282.21,8.88 282.34,8.91 282.46,8.95 282.59,8.99 282.72,9.03 282.85,9.07 282.98,9.11 283.11,9.15 283.24,9.19 283.37,9.23 283.50,9.27 283.63,9.31 283.76,9.36 283.89,9.40 284.02,9.44 284.15,9.49 284.28,9.53 284.41,9.58 284.53,9.63 284.66,9.68 284.79,9.72 284.92,9.77 285.05,9.82 285.18,9.87 285.31,9.93 285.44,9.98 285.57,10.03 285.70,10.08 285.83,10.14 285.96,10.19 286.09,10.25 286.22,10.31 286.35,10.37 286.47,10.43 286.60,10.49 286.73,10.55 286.86,10.61 286.99,10.67 287.12,10.74 287.25,10.80 287.38,10.87 287.51,10.93 287.64,11.00 287.77,11.07 287.90,11.14 288.03,11.21 288.16,11.28 288.29,11.36 288.42,11.43 288.54,11.51 288.67,11.58 288.80,11.66 288.93,11.74 289.06,11.82 289.19,11.91 289.32,11.99 289.45,12.08 289.58,12.16 289.71,12.25 289.84,12.34 289.97,12.43 290.10,12.52 290.23,12.62 290.36,12.71 290.48,12.81 290.61,12.91 290.74,13.01 290.87,13.11 291.00,13.22 291.13,13.32 291.26,13.43 291.39,13.54 291.52,13.65 291.65,13.76 291.78,13.88 291.91,14.00 292.04,14.12 292.17,14.24 292.30,14.36 292.42,14.49 292.55,14.62 292.68,14.75 292.81,14.88 292.94,15.01 293.07,15.15 293.20,15.29 293.33,15.43 293.46,15.58 293.59,15.73 293.72,15.88 293.85,16.03 293.98,16.19 294.11,16.35 294.24,16.51 294.37,16.67 294.49,16.84 294.62,17.01 294.75,17.19 294.88,17.37 295.01,17.55 295.14,17.73 295.27,17.92 295.40,18.11 295.53,18.31 295.66,18.51 295.79,18.71 295.92,18.92 296.05,19.13 296.18,19.34 296.31,19.56 296.43,19.78 296.56,20.01 296.69,20.24 296.82,20.48 296.95,20.72 297.08,20.97 297.21,21.22 297.34,21.48 297.47,21.74 297.60,22.01 297.73,22.28 297.86,22.56 297.99,22.84 298.12,23.13 298.25,23.43 298.38,23.73 298.50,24.04 298.63,24.35 298.76,24.67 298.89,25.00 299.02,25.33 299.15,25.67 299.28,26.02 299.41,26.38 299.54,26.74 299.67,27.11 299.80,27.49 299.93,27.88 300.06,28.27 300.19,28.68 300.32,29.09 300.44,29.51 300.57,29.94 300.70,30.38 300.83,30.83 300.96,31.29 301.09,31.76 301.22,32.25 301.35,32.74 301.48,33.24 301.61,33.75 301.74,34.28 301.87,34.81 302.00,35.36 302.13,35.92 302.26,36.50 302.38,37.09 302.51,37.69 302.64,38.30 302.77,38.93 302.90,39.57 303.03,40.23 303.16,40.90 303.29,41.59 303.42,42.29 303.55,43.01 303.68,43.75 303.81,44.51 303.94,45.28 304.07,46.07 304.20,46.88 304.33,47.71 304.45,48.55 304.58,49.42 304.71,50.31 304.84,51.22 304.97,52.15 305.10,53.10 305.23,54.08 305.36,55.08 305.49,56.10 305.62,57.15 305.75,58.22 305.88,59.32 306.01,60.45 306.14,61.60 306.27,62.78 306.39,63.98 306.52,65.22 306.65,66.49 306.78,67.78 306.91,69.11 307.04,70.47 307.17,71.86 307.30,73.29 307.43,74.75 307.56,76.24 307.69,77.77 307.82,79.34 307.95,80.94 308.08,82.58 308.21,84.26 308.33,85.98 308.46,87.74 308.59,89.54 308.72,91.38 308.85,93.26 308.98,95.19 309.11,97.16 309.24,99.17 309.37,101.23 309.50,103.33 309.63,105.48 309.76,107.68 309.89,109.92 310.02,112.22 310.15,114.56 310.28,116.94 310.40,119.38 310.53,121.87 310.66,124.40 310.79,126.99 310.92,129.62 311.05,132.31 311.18,135.04 311.31,137.82 311.44,140.65 311.57,143.53 311.70,146.46 311.83,149.43 311.96,152.45 312.09,155.51 312.22,158.62 312.34,161.77 312.47,164.96 312.60,168.19 312.73,171.46 312.86,174.76 312.99,178.09 313.12,181.46 313.25,184.85 313.38,188.27 313.51,191.71 313.64,195.16 313.77,198.64 313.90,202.12 314.03,205.61 314.16,209.10 314.29,212.60 314.41,216.08 314.54,219.56 314.67,223.02 314.80,226.46 314.93,229.88 315.06,233.27 315.19,236.62 315.32,239.93 315.45,243.19 315.58,246.40 315.71,249.55 315.84,252.64 315.97,255.66 316.10,258.61 316.23,261.47 316.35,264.25 316.48,266.94 316.61,269.54 316.74,272.04 316.87,274.43 317.00,276.72 317.13,278.89 317.26,280.95 317.39,282.89 317.52,284.71 317.65,286.41 317.78,287.98 317.91,289.42 318.04,290.73 318.17,291.91 318.29,292.96 318.42,293.88 318.55,294.67 318.68,295.32 318.81,295.85 318.94,296.25 319.07,296.52 319.20,296.67 319.33,296.70 319.46,296.60 319.59,296.39 319.72,296.06 319.85,295.62 319.98,295.07 320.11,294.42 320.24,293.67 320.36,292.83 320.49,291.89 320.62,290.86 320.75,289.74 320.88,288.55 321.01,287.28 321.14,285.94 321.27,284.54 321.40,283.07 321.53,281.54 321.66,279.95 321.79,278.32 321.92,276.64 322.05,274.91 322.18,273.14 322.30,271.34 322.43,269.51 322.56,267.65 322.69,265.76 322.82,263.85 322.95,261.92 323.08,259.97 323.21,258.01 323.34,256.04 323.47,254.06 323.60,252.07 323.73,250.08 323.86,248.09 323.99,246.09 324.12,244.10 324.25,242.12 324.37,240.13 324.50,238.16 324.63,236.19 324.76,234.24 324.89,232.29 325.02,230.36 325.15,228.44 325.28,226.53 325.41,224.64 325.54,222.77 325.67,220.91 325.80,219.07 325.93,217.25 326.06,215.45 326.19,213.66 326.31,211.90 326.44,210.16 326.57,208.43 326.70,206.73 326.83,205.05 326.96,203.39 327.09,201.75 327.22,200.13 327.35,198.53 327.48,196.96 327.61,195.41 327.74,193.87 327.87,192.37 328.00,190.88 328.13,189.41 328.25,187.97 328.38,186.55 328.51,185.14 328.64,183.76 328.77,182.41 328.90,181.07 329.03,179.75 329.16,178.45 329.29,177.18 329.42,175.92 329.55,174.69 329.68,173.47 329.81,172.28 329.94,171.10 330.07,169.95 330.20,168.81 330.32,167.69 330.45,166.59 330.58,165.51 330.71,164.44 330.84,163.40 330.97,162.37 331.10,161.36 331.23,160.37 331.36,159.39 331.49,158.44 331.62,157.49 331.75,156.57 331.88,155.66 332.01,154.76 332.14,153.89 332.26,153.02 332.39,152.18 332.52,151.34 332.65,150.53 332.78,149.72 332.91,148.94 333.04,148.16 333.17,147.40 333.30,146.66 333.43,145.92 333.56,145.20 333.69,144.50 333.82,143.80 333.95,143.12 334.08,142.45 334.20,141.80 334.33,141.16 334.46,140.52 334.59,139.91 334.72,139.30 334.85,138.70 334.98,138.12 335.11,137.54 335.24,136.98 335.37,136.43 335.50,135.89 335.63,135.36 335.76,134.84 335.89,134.33 336.02,133.83 336.15,133.34 336.27,132.86 336.40,132.39 336.53,131.93 336.66,131.48 336.79,131.04 336.92,130.60 337.05,130.18 337.18,129.77 337.31,129.36 337.44,128.96 337.57,128.58 337.70,128.20 337.83,127.82 337.96,127.46 338.09,127.11 338.21,126.76 338.34,126.42 338.47,126.09 338.60,125.76 338.73,125.45 338.86,125.14 338.99,124.84 339.12,124.54 339.25,124.26 339.38,123.98 339.51,123.71 339.64,123.44 339.77,123.18 339.90,122.93 340.03,122.69 340.16,122.45 340.28,122.22 340.41,121.99 340.54,121.78 340.67,121.56 340.80,121.36 340.93,121.16 341.06,120.97 341.19,120.78 341.32,120.60 341.45,120.42 341.58,120.25 341.71,120.09 341.84,119.93 341.97,119.78 342.10,119.64 342.22,119.50 342.35,119.36 342.48,119.23 342.61,119.11 342.74,118.99 342.87,118.88 343.00,118.77 343.13,118.67 343.26,118.58 343.39,118.48 343.52,118.40 343.65,118.32 343.78,118.24 343.91,118.17 344.04,118.11 344.16,118.04 344.29,117.99 344.42,117.94 344.55,117.89 344.68,117.85 344.81,117.82 344.94,117.78 345.07,117.76 345.20,117.74 345.33,117.72 345.46,117.71 345.59,117.70 345.72,117.70 345.85,117.70 345.98,117.70 346.11,117.71 346.23,117.73 346.36,117.75 346.49,117.77 346.62,117.80 346.75,117.83 346.88,117.87 347.01,117.91 347.14,117.96" fill="none" stroke="#222" stroke-width="0.9"/>
<polyline points="36.70,288.37 37.04,290.70 37.37,291.84 37.71,291.71 38.05,290.33 38.38,287.71 38.72,283.97 39.05,279.20 39.39,273.58 39.73,267.28 40.06,260.45 40.40,253.29 40.74,245.95 41.07,238.57 41.41,231.28 41.74,224.17 42.08,217.34 42.42,210.85 42.75,204.73 43.09,199.04 43.43,193.78 43.76,188.98 44.10,184.64 44.44,180.76 44.77,177.34 45.11,174.37 45.44,171.86 45.78,169.79 46.12,168.16 46.45,166.97 46.79,166.22 47.13,165.90 47.46,166.02 47.80,166.57 48.13,167.56 48.47,169.01 48.81,170.91 49.14,173.28 49.48,176.13 49.82,179.47 50.15,183.31 50.49,187.66 50.83,192.53 51.16,197.92 51.50,203.83 51.83,210.24 52.17,217.14 52.51,224.46 52.84,232.15 53.18,240.12 53.52,248.24 53.85,256.35 54.19,264.26 54.52,271.75 54.86,278.56 55.20,284.41 55.53,289.05 55.87,292.21 56.21,293.70 56.54,293.38 56.88,291.20 57.21,287.20 57.55,281.50 57.89,274.31 58.22,265.88 58.56,256.51 58.90,246.48 59.23,236.09 59.57,225.57 59.91,215.15 60.24,205.00 60.58,195.24 60.91,185.98 61.25,177.28 61.59,169.17 61.92,161.67 62.26,154.79 62.60,148.51 62.93,142.81 63.27,137.68 63.60,133.10 63.94,129.04 64.28,125.48 64.61,122.39 64.95,119.77 65.29,117.60 65.62,115.86 65.96,114.55 66.30,113.67 66.63,113.23 66.97,113.22 67.30,113.67 67.64,114.60 67.98,116.03 68.31,118.00 68.65,120.57 68.99,123.78 69.32,127.72 69.66,132.46 69.99,138.12 70.33,144.81 70.67,152.66 71.00,161.83 71.34,172.47 71.68,184.71 72.01,198.63 72.35,214.20 72.69,231.17 73.02,248.91 73.36,266.28 73.69,281.49 74.03,292.16 74.37,295.77 74.70,290.48 75.04,275.96 75.38,253.75 75.71,226.72 76.05,198.04 76.38,170.27 76.72,145.01 77.06,122.97 77.39,104.25 77.73,88.60 78.07,75.64 78.40,64.94 78.74,56.11 79.08,48.81 79.41,42.76 79.75,37.72 80.08,33.51 80.42,29.96 80.76,26.97 81.09,24.43 81.43,22.26 81.77,20.40 82.10,18.80 82.44,17.42 82.77,16.22 83.11,15.17 83.45,14.25 83.78,13.44 84.12,12.73 84.46,12.11 84.79,11.55 85.13,11.05 85.46,10.61 85.80,10.22 86.14,9.86 86.47,9.54 86.81,9.25 87.15,8.99 87.48,8.76 87.82,8.54 88.16,8.35 88.49,8.17 88.83,8.01 89.16,7.86 89.50,7.73 89.84,7.60 90.17,7.49 90.51,7.38 90.85,7.29 91.18,7.20 91.52,7.11 91.85,7.04 92.19,6.97 92.53,6.90 92.86,6.84 93.20,6.78 93.54,6.73 93.87,6.68 94.21,6.63 94.55,6.59 94.88,6.55 95.22,6.51 95.55,6.47 95.89,6.44 96.23,6.41 96.56,6.38 96.90,6.35 97.24,6.33 97.57,6.30 97.91,6.28 98.24,6.26 98.58,6.24 98.92,6.22 99.25,6.20 99.59,6.18 99.93,6.16 100.26,6.15 100.60,6.13 100.94,6.12 101.27,6.11 101.61,6.09 101.94,6.08 102.28,6.07 102.62,6.06 102.95,6.05 103.29,6.04 103.63,6.03 103.96,6.02 104.30,6.01 104.63,6.00 104.97,5.99 105.31,5.99 105.64,5.98 105.98,5.97 106.32,5.97 106.65,5.96 106.99,5.95 107.33,5.95 107.66,5.94 108.00,5.94 108.33,5.93 108.67,5.93 109.01,5.92 109.34,5.92 109.68,5.91 110.02,5.91 110.35,5.91 110.69,5.90 111.02,5.90 111.36,5.90 111.70,5.89 112.03,5.89 112.37,5.89 112.71,5.88 113.04,5.88 113.38,5.88 113.71,5.87 114.05,5.87 114.39,5.87 114.72,5.87 115.06,5.86 115.40,5.86 115.73,5.86 116.07,5.86 116.41,5.86 116.74,5.85 117.08,5.85 117.41,5.85 117.75,5.85 118.09,5.85 118.42,5.85 118.76,5.84 119.10,5.84 119.43,5.84 119.77,5.84 120.10,5.84 120.44,5.84 120.78,5.84 121.11,5.84 121.45,5.83 121.79,5.83 122.12,5.83 122.46,5.83 122.80,5.83 123.13,5.83 123.47,5.83 123.80,5.83 124.14,5.83 124.48,5.83 124.81,5.83 125.15,5.83 125.49,5.82 125.82,5.82 126.16,5.82 126.49,5.82 126.83,5.82 127.17,5.82 127.50,5.82 127.84,5.82 128.18,5.82 128.51,5.82 128.85,5.82 129.19,5.82 129.52,5.82 129.86,5.82 130.19,5.82 130.53,5.82 130.87,5.82 131.20,5.82 131.54,5.82 131.88,5.82 132.21,5.82 132.55,5.82 132.88,5.82 133.22,5.82 133.56,5.82 133.89,5.82 134.23,5.82 134.57,5.82 134.90,5.82 135.24,5.82 135.58,5.82 135.91,5.82 136.25,5.82 136.58,5.82 136.92,5.82 137.26,5.82 137.59,5.82 137.93,5.82 138.27,5.82 138.60,5.82 138.94,5.82 139.27,5.83 139.61,5.83 139.95,5.83 140.28,5.82 140.62,5.82 140.96,5.82 141.29,5.83 141.63,5.83 141.97,5.83 142.30,5.83 142.64,5.83 142.97,5.83 143.31,5.83 143.65,5.83 143.98,5.83 144.32,5.83 144.66,5.83 144.99,5.83 145.33,5.84 145.66,5.84 146.00,5.84 146.34,5.84 146.67,5.84 147.01,5.84 147.35,5.84 147.68,5.84 148.02,5.84 148.35,5.85 148.69,5.85 149.03,5.85 149.36,5.85 149.70,5.85 150.04,5.85 150.37,5.86 150.71,5.86 151.05,5.86 151.38,5.86 151.72,5.86 152.05,5.86 152.39,5.87 152.73,5.87 153.06,5.87 153.40,5.87 153.74,5.87 154.07,5.88 154.41,5.88 154.74,5.88 155.08,5.88 155.42,5.88 155.75,5.89 156.09,5.89 156.43,5.89 156.76,5.89 157.10,5.90 157.44,5.90 157.77,5.90 158.11,5.91 158.44,5.91 158.78,5.91 159.12,5.91 159.45,5.92 159.79,5.92 160.13,5.92 160.46,5.93 160.80,5.93 161.13,5.93 161.47,5.94 161.81,5.94 162.14,5.95 162.48,5.95 162.82,5.95 163.15,5.96 163.49,5.96 163.83,5.97 164.16,5.97 164.50,5.98 164.83,5.98 165.17,5.99 165.51,5.99 165.84,6.00 166.18,6.00 166.52,6.01 166.85,6.01 167.19,6.02 167.52,6.02 167.86,6.03 168.20,6.04 168.53,6.04 168.87,6.05 169.21,6.06 169.54,6.06 169.88,6.07 170.22,6.08 170.55,6.08 170.89,6.09 171.22,6.10 171.56,6.11 171.90,6.12 172.23,6.13 172.57,6.13 172.91,6.14 173.24,6.15 173.58,6.16 173.91,6.17 174.25,6.18 174.59,6.19 174.92,6.20 175.26,6.22 175.60,6.23 175.93,6.24 176.27,6.25 176.60,6.26 176.94,6.28 177.28,6.29 177.61,6.31 177.95,6.32 178.29,6.33 178.62,6.35 178.96,6.37 179.30,6.38 179.63,6.40 179.97,6.42 180.30,6.43 180.64,6.45 180.98,6.47 181.31,6.49 181.65,6.51 181.99,6.53 182.32,6.55 182.66,6.57 182.99,6.60 183.33,6.62 183.67,6.64 184.00,6.67 184.34,6.70 184.68,6.72 185.01,6.75 185.35,6.78 185.69,6.81 186.02,6.84 186.36,6.87 186.69,6.91 187.03,6.94 187.37,6.98 187.70,7.01 188.04,7.05 188.38,7.09 188.71,7.13 189.05,7.18 189.38,7.22 189.72,7.27 190.06,7.31 190.39,7.36 190.73,7.42 191.07,7.47 191.40,7.52 191.74,7.58 192.08,7.64 192.41,7.70 192.75,7.77 193.08,7.84 193.42,7.91 193.76,7.98 194.09,8.06 194.43,8.14 194.77,8.22 195.10,8.30 195.44,8.39 195.77,8.49 196.11,8.59 196.45,8.69 196.78,8.79 197.12,8.90 197.46,9.02 197.79,9.14 198.13,9.27 198.47,9.40 198.80,9.54 199.14,9.68 199.47,9.83 199.81,9.99 200.15,10.15 200.48,10.33 200.82,10.51 201.16,10.70 201.49,10.90 201.83,11.11 202.16,11.33 202.50,11.56 202.84,11.80 203.17,12.06 203.51,12.32 203.85,12.60 204.18,12.90 204.52,13.21 204.85,13.54 205.19,13.88 205.53,14.25 205.86,14.63 206.20,15.04 206.54,15.46 206.87,15.91 207.21,16.39 207.55,16.89 207.88,17.43 208.22,17.99 208.55,18.59 208.89,19.22 209.23,19.89 209.56,20.60 209.90,21.35 210.24,22.16 210.57,23.00 210.91,23.91 211.24,24.87 211.58,25.89 211.92,26.98 212.25,28.14 212.59,29.37 212.93,30.69 213.26,32.10 213.60,33.60 213.94,35.20 214.27,36.91 214.61,38.74 214.94,40.70 215.28,42.80 215.62,45.05 215.95,47.45 216.29,50.03 216.63,52.79 216.96,55.75 217.30,58.93 217.63,62.33 217.97,65.98 218.31,69.90 218.64,74.10 218.98,78.60 219.32,83.41 219.65,88.57 219.99,94.08 220.33,99.97 220.66,106.24 221.00,112.92 221.33,120.02 221.67,127.53 222.01,135.47 222.34,143.82 222.68,152.58 223.02,161.71 223.35,171.19 223.69,180.97 224.02,190.98 224.36,201.15 224.70,211.38 225.03,221.58 225.37,231.63 225.71,241.41 226.04,250.78 226.38,259.60 226.72,267.76 227.05,275.13 227.39,281.62 227.72,287.13 228.06,291.61 228.40,295.03 228.73,297.37 229.07,298.65 229.41,298.92 229.74,298.24 230.08,296.67 230.41,294.32 230.75,291.28 231.09,287.64 231.42,283.50 231.76,278.96 232.10,274.10 232.43,269.01 232.77,263.75 233.11,258.39 233.44,252.99 233.78,247.59 234.11,242.24 234.45,236.96 234.79,231.79 235.12,226.74 235.46,221.84 235.80,217.08 236.13,212.49 236.47,208.07 236.80,203.82 237.14,199.74 237.48,195.83 237.81,192.10 238.15,188.53 238.49,185.13 238.82,181.89 239.16,178.80 239.49,175.87 239.83,173.08 240.17,170.44 240.50,167.93 240.84,165.55 241.18,163.31 241.51,161.18 241.85,159.17 242.19,157.28 242.52,155.49 242.86,153.81 243.19,152.22 243.53,150.74 243.87,149.35 244.20,148.04 244.54,146.83 244.88,145.69 245.21,144.64 245.55,143.66 245.88,142.76 246.22,141.93 246.56,141.17 246.89,140.48 247.23,139.85 247.57,139.29 247.90,138.79 248.24,138.35 248.58,137.96 248.91,137.64 249.25,137.37 249.58,137.15 249.92,136.99 250.26,136.88 250.59,136.81 250.93,136.80 251.27,136.84 251.60,136.93 251.94,137.06 252.27,137.24 252.61,137.46 252.95,137.73 253.28,138.05 253.62,138.41 253.96,138.81 254.29,139.25 254.63,139.74 254.97,140.27 255.30,140.84 255.64,141.45 255.97,142.11 256.31,142.80 256.65,143.54 256.98,144.32 257.32,145.14 257.66,146.00 257.99,146.89 258.33,147.83 258.66,148.81 259.00,149.83 259.34,150.89 259.67,151.99 260.01,153.13 260.35,154.30 260.68,155.52 261.02,156.78 261.36,158.07 261.69,159.41 262.03,160.78 262.36,162.19 262.70,163.65 263.04,165.14 263.37,166.67 263.71,168.23 264.05,169.84 264.38,171.48 264.72,173.16 265.05,174.88 265.39,176.63 265.73,178.42 266.06,180.25 266.40,182.11 266.74,184.00 267.07,185.93 267.41,187.89 267.74,189.89 268.08,191.91 268.42,193.97 268.75,196.06 269.09,198.17 269.43,200.32 269.76,202.48 270.10,204.68 270.44,206.90 270.77,209.14 271.11,211.40 271.44,213.67 271.78,215.97 272.12,218.28 272.45,220.60 272.79,222.94 273.13,225.28 273.46,227.63 273.80,229.99 274.13,232.35 274.47,234.70 274.81,237.06 275.14,239.40 275.48,241.74 275.82,244.07 276.15,246.38 276.49,248.68 276.83,250.95 277.16,253.20 277.50,255.43 277.83,257.62 278.17,259.79 278.51,261.91 278.84,264.00 279.18,266.05 279.52,268.05 279.85,270.00 280.19,271.90 280.52,273.75 280.86,275.54 281.20,277.28 281.53,278.95 281.87,280.55 282.21,282.09 282.54,283.56 282.88,284.96 283.22,286.29 283.55,287.54 283.89,288.72 284.22,289.81 284.56,290.83 284.90,291.77 285.23,292.63 285.57,293.40 285.91,294.10 286.24,294.71 286.58,295.24 286.91,295.69 287.25,296.05 287.59,296.34 287.92,296.54 288.26,296.67 288.60,296.71 288.93,296.68 289.27,296.57 289.61,296.39 289.94,296.14 290.28,295.81 290.61,295.41 290.95,294.95 291.29,294.43 291.62,293.83 291.96,293.18 292.30,292.47 292.63,291.71 292.97,290.89 293.30,290.02 293.64,289.10 293.98,288.14 294.31,287.13 294.65,286.08 294.99,284.99 295.32,283.87 295.66,282.71 296.00,281.52 296.33,280.30 296.67,279.06 297.00,277.79 297.34,276.50 297.68,275.19 298.01,273.86 298.35,272.51 298.69,271.15 299.02,269.78 299.36,268.40 299.69,267.01 300.03,265.62 300.37,264.22 300.70,262.82 301.04,261.41 301.38,260.01 301.71,258.61 302.05,257.21 302.38,255.81 302.72,254.42 303.06,253.03 303.39,251.66 303.73,250.29 304.07,248.93 304.40,247.58 304.74,246.24 305.08,244.91 305.41,243.60 305.75,242.30 306.08,241.01 306.42,239.74 306.76,238.48 307.09,237.24 307.43,236.01 307.77,234.80 308.10,233.61 308.44,232.44 308.77,231.28 309.11,230.14 309.45,229.02 309.78,227.92 310.12,226.83 310.46,225.77 310.79,224.72 311.13,223.69 311.47,222.69 311.80,221.70 312.14,220.73 312.47,219.78 312.81,218.85 313.15,217.94 313.48,217.05 313.82,216.18 314.16,215.33 314.49,214.49 314.83,213.68 315.16,212.89 315.50,212.11 315.84,211.36 316.17,210.63 316.51,209.91 316.85,209.22 317.18,208.54 317.52,207.88 317.86,207.24 318.19,206.62 318.53,206.02 318.86,205.44 319.20,204.87 319.54,204.33 319.87,203.80 320.21,203.29 320.55,202.80 320.88,202.32 321.22,201.87 321.55,201.43 321.89,201.01 322.23,200.61 322.56,200.22 322.90,199.85 323.24,199.50 323.57,199.17 323.91,198.85 324.25,198.55 324.58,198.26 324.92,198.00 325.25,197.74 325.59,197.51 325.93,197.29 326.26,197.08 326.60,196.90 326.94,196.72 327.27,196.57 327.61,196.43 327.94,196.30 328.28,196.19 328.62,196.10 328.95,196.02 329.29,195.95 329.63,195.90 329.96,195.86 330.30,195.84 330.63,195.83 330.97,195.84 331.31,195.86 331.64,195.90 331.98,195.95 332.32,196.01 332.65,196.09 332.99,196.18 333.33,196.29 333.66,196.41 334.00,196.54 334.33,196.68 334.67,196.84 335.01,197.01 335.34,197.20 335.68,197.40 336.02,197.61 336.35,197.83 336.69,198.07 337.02,198.32 337.36,198.58 337.70,198.85 338.03,199.14 338.37,199.44 338.71,199.75 339.04,200.07 339.38,200.41 339.72,200.75 340.05,201.11 340.39,201.48 340.72,201.87 341.06,202.26 341.40,202.66 341.73,203.08 342.07,203.51 342.41,203.95 342.74,204.40 343.08,204.86 343.41,205.33 343.75,205.81 344.09,206.31 344.42,206.81 344.76,207.33 345.10,207.85 345.43,208.39 345.77,208.93 346.11,209.49 346.44,210.05 346.78,210.63 347.11,211.21" fill="none" stroke="#000" stroke-width="0.8" marker-start="url(#mk)" marker-mid="url(#mk)" marker-end="url(#mk)"/>
</g>
<rect x="36.80" y="5.70" width="311.15" height="295.90" fill="none" stroke="#3c3c3c" stroke-width="1.15"/>
<path d="M88.44 301.60v-4.10 M88.44 5.70v4.10 M140.18 301.60v-4.10 M140.18 5.70v4.10 M191.92 301.60v-4.10 M191.92 5.70v4.10 M243.66 301.60v-4.10 M243.66 5.70v4.10 M295.40 301.60v-4.10 M295.40 5.70v4.10 M36.80 271.74h3.30 M347.95 271.74h-3.30 M36.80 242.18h3.30 M347.95 242.18h-3.30 M36.80 212.62h3.30 M347.95 212.62h-3.30 M36.80 183.06h3.30 M347.95 183.06h-3.30 M36.80 153.50h3.30 M347.95 153.50h-3.30 M36.80 123.94h3.30 M347.95 123.94h-3.30 M36.80 94.38h3.30 M347.95 94.38h-3.30 M36.80 64.82h3.30 M347.95 64.82h-3.30 M36.80 35.26h3.30 M347.95 35.26h-3.30" stroke="#3c3c3c" stroke-width="1" fill="none"/>
<text x="32.70" y="305.32" font-size="11.80" fill="#161616" text-anchor="end" textLength="4.85" lengthAdjust="spacingAndGlyphs">0</text>
<text x="32.70" y="275.76" font-size="11.80" fill="#161616" text-anchor="end" textLength="9.70" lengthAdjust="spacingAndGlyphs">10</text>
<text x="32.70" y="246.20" font-size="11.80" fill="#161616" text-anchor="end" textLength="9.70" lengthAdjust="spacingAndGlyphs">20</text>
<text x="32.70" y="216.64" font-size="11.80" fill="#161616" text-anchor="end" textLength="9.70" lengthAdjust="spacingAndGlyphs">30</text>
<text x="32.70" y="187.08" font-size="11.80" fill="#161616" text-anchor="end" textLength="9.70" lengthAdjust="spacingAndGlyphs">40</text>
<text x="32.70" y="157.52" font-size="11.80" fill="#161616" text-anchor="end" textLength="9.70" lengthAdjust="spacingAndGlyphs">50</text>
<text x="32.70" y="127.96" font-size="11.80" fill="#161616" text-anchor="end" textLength="9.70" lengthAdjust="spacingAndGlyphs">60</text>
<text x="32.70" y="98.40" font-size="11.80" fill="#161616" text-anchor="end" textLength="9.70" lengthAdjust="spacingAndGlyphs">70</text>
<text x="32.70" y="68.84" font-size="11.80" fill="#161616" text-anchor="end" textLength="9.70" lengthAdjust="spacingAndGlyphs">80</text>
<text x="32.70" y="39.28" font-size="11.80" fill="#161616" text-anchor="end" textLength="9.70" lengthAdjust="spacingAndGlyphs">90</text>
<text x="32.70" y="9.72" font-size="11.80" fill="#161616" text-anchor="end" textLength="14.55" lengthAdjust="spacingAndGlyphs">100</text>
<text x="36.50" y="315.42" font-size="11.80" fill="#161616" text-anchor="middle" textLength="14.55" lengthAdjust="spacingAndGlyphs">800</text>
<text x="88.24" y="315.42" font-size="11.80" fill="#161616" text-anchor="middle" textLength="19.40" lengthAdjust="spacingAndGlyphs">1000</text>
<text x="139.98" y="315.42" font-size="11.80" fill="#161616" text-anchor="middle" textLength="19.40" lengthAdjust="spacingAndGlyphs">1200</text>
<text x="191.72" y="315.42" font-size="11.80" fill="#161616" text-anchor="middle" textLength="19.40" lengthAdjust="spacingAndGlyphs">1400</text>
<text x="243.46" y="315.42" font-size="11.80" fill="#161616" text-anchor="middle" textLength="19.40" lengthAdjust="spacingAndGlyphs">1600</text>
<text x="295.20" y="315.42" font-size="11.80" fill="#161616" text-anchor="middle" textLength="19.40" lengthAdjust="spacingAndGlyphs">1800</text>
<text x="346.94" y="315.42" font-size="11.80" fill="#161616" text-anchor="middle" textLength="19.40" lengthAdjust="spacingAndGlyphs">2000</text>
<text transform="translate(11.30 153.00) rotate(-90)" font-size="13.40" font-weight="bold" fill="#000" text-anchor="middle" letter-spacing="0.60" textLength="118.00" lengthAdjust="spacingAndGlyphs">Reflectance (%)</text>
<text transform="translate(190.80 334.30) scale(0.8800 1)" font-size="14.50" font-weight="bold" fill="#000" text-anchor="middle"><tspan font-family="'Liberation Serif', 'DejaVu Serif', serif" font-weight="normal" font-size="15.08">λ</tspan> (nm)</text>
<text x="184.70" y="364.60" font-size="15.6" fill="#111" text-anchor="middle">(a)</text>
<rect x="243.70" y="11.80" width="99.20" height="52.20" fill="#fff" stroke="#3c3c3c" stroke-width="1"/>
<path d="M249.00 22.30H275.50" stroke="#000" stroke-width="0.9"/>
<use href="#dm" x="262.25" y="22.30"/>
<path d="M249.00 37.70H275.50" stroke="#111" stroke-width="0.95" stroke-dasharray="1 2"/>
<path d="M249.00 53.20H275.50" stroke="#222" stroke-width="0.9"/>
<text x="279.20" y="26.52" font-size="11.80" fill="#161616" textLength="60.30" lengthAdjust="spacingAndGlyphs">LH1 = 202 nm</text>
<text x="279.20" y="41.92" font-size="11.80" fill="#161616" textLength="60.30" lengthAdjust="spacingAndGlyphs">LH2 = 250 nm</text>
<text x="279.20" y="57.42" font-size="11.80" fill="#161616" textLength="60.30" lengthAdjust="spacingAndGlyphs">LH3 = 302 nm</text>
<path d="M80.40 93.80H101.20" stroke="#000" stroke-width="1.3"/>
<path d="M77.40 93.80l9.80 -4.80l-2.80 4.80l2.80 4.80z" fill="#000"/>
<path d="M104.20 93.80l-9.80 -4.80l2.80 4.80l-2.80 4.80z" fill="#000"/>
<path d="M106.60 118.50H130.00" stroke="#000" stroke-width="1.3"/>
<path d="M103.60 118.50l9.80 -4.80l-2.80 4.80l2.80 4.80z" fill="#000"/>
<path d="M133.00 118.50l-9.80 -4.80l2.80 4.80l-2.80 4.80z" fill="#000"/>
<g clip-path="url(#clipb)">
<polyline points="47.00,438.14 47.12,436.41 47.24,434.67 47.36,432.91 47.48,431.14 47.61,429.37 47.73,427.60 47.85,425.83 47.97,424.08 48.09,422.33 48.21,420.61 48.33,418.91 48.45,417.24 48.57,415.61 48.70,414.01 48.82,412.46 48.94,410.97 49.06,409.52 49.18,408.14 49.30,406.83 49.42,405.59 49.54,404.42 49.67,403.34 49.79,402.34 49.91,401.43 50.03,400.61 50.15,399.89 50.27,399.27 50.39,398.76 50.51,398.35 50.63,398.05 50.76,397.85 50.88,397.77 51.00,397.79 51.12,397.93 51.24,398.18 51.36,398.54 51.48,399.00 51.60,399.57 51.72,400.25 51.85,401.03 51.97,401.91 52.09,402.88 52.21,403.95 52.33,405.10 52.45,406.34 52.57,407.66 52.69,409.05 52.82,410.51 52.94,412.04 53.06,413.63 53.18,415.27 53.30,416.96 53.42,418.70 53.54,420.48 53.66,422.29 53.78,424.13 53.91,425.99 54.03,427.87 54.15,429.77 54.27,431.68 54.39,433.59 54.51,435.50 54.63,437.42 54.75,439.32 54.87,441.21 55.00,443.09 55.12,444.95 55.24,446.79 55.36,448.61 55.48,450.40 55.60,452.16 55.72,453.88 55.84,455.58 55.97,457.23 56.09,458.85 56.21,460.43 56.33,461.97 56.45,463.46 56.57,464.90 56.69,466.30 56.81,467.66 56.93,468.96 57.06,470.21 57.18,471.42 57.30,472.57 57.42,473.67 57.54,474.71 57.66,475.71 57.78,476.64 57.90,477.53 58.02,478.36 58.15,479.13 58.27,479.85 58.39,480.51 58.51,481.12 58.63,481.67 58.75,482.16 58.87,482.60 58.99,482.98 59.12,483.31 59.24,483.57 59.36,483.78 59.48,483.94 59.60,484.03 59.72,484.07 59.84,484.05 59.96,483.98 60.08,483.84 60.21,483.65 60.33,483.41 60.45,483.10 60.57,482.74 60.69,482.33 60.81,481.85 60.93,481.32 61.05,480.74 61.17,480.09 61.30,479.40 61.42,478.64 61.54,477.83 61.66,476.97 61.78,476.05 61.90,475.07 62.02,474.05 62.14,472.97 62.26,471.83 62.39,470.65 62.51,469.41 62.63,468.12 62.75,466.78 62.87,465.40 62.99,463.97 63.11,462.49 63.23,460.96 63.36,459.39 63.48,457.78 63.60,456.13 63.72,454.44 63.84,452.72 63.96,450.95 64.08,449.16 64.20,447.34 64.32,445.49 64.45,443.61 64.57,441.72 64.69,439.81 64.81,437.88 64.93,435.94 65.05,433.99 65.17,432.04 65.29,430.09 65.41,428.15 65.54,426.22 65.66,424.30 65.78,422.40 65.90,420.52 66.02,418.67 66.14,416.86 66.26,415.09 66.38,413.36 66.51,411.69 66.63,410.07 66.75,408.51 66.87,407.02 66.99,405.60 67.11,404.26 67.23,403.00 67.35,401.83 67.47,400.76 67.60,399.78 67.72,398.90 67.84,398.13 67.96,397.46 68.08,396.91 68.20,396.48 68.32,396.16 68.44,395.96 68.56,395.88 68.69,395.93 68.81,396.10 68.93,396.39 69.05,396.80 69.17,397.33 69.29,397.99 69.41,398.76 69.53,399.65 69.66,400.65 69.78,401.76 69.90,402.98 70.02,404.30 70.14,405.72 70.26,407.24 70.38,408.84 70.50,410.53 70.62,412.30 70.75,414.14 70.87,416.05 70.99,418.02 71.11,420.05 71.23,422.13 71.35,424.26 71.47,426.43 71.59,428.63 71.71,430.87 71.84,433.13 71.96,435.40 72.08,437.70 72.20,440.00 72.32,442.31 72.44,444.62 72.56,446.93 72.68,449.23 72.80,451.52 72.93,453.79 73.05,456.05 73.17,458.28 73.29,460.49 73.41,462.68 73.53,464.83 73.65,466.95 73.77,469.04 73.90,471.09 74.02,473.10 74.14,475.07 74.26,477.00 74.38,478.89 74.50,480.73 74.62,482.52 74.74,484.27 74.86,485.97 74.99,487.63 75.11,489.23 75.23,490.78 75.35,492.28 75.47,493.74 75.59,495.13 75.71,496.48 75.83,497.78 75.95,499.02 76.08,500.21 76.20,501.34 76.32,502.43 76.44,503.45 76.56,504.43 76.68,505.35 76.80,506.22 76.92,507.04 77.05,507.80 77.17,508.50 77.29,509.16 77.41,509.75 77.53,510.30 77.65,510.79 77.77,511.23 77.89,511.61 78.01,511.94 78.14,512.22 78.26,512.44 78.38,512.60 78.50,512.71 78.62,512.77 78.74,512.77 78.86,512.72 78.98,512.62 79.10,512.45 79.23,512.24 79.35,511.96 79.47,511.63 79.59,511.25 79.71,510.81 79.83,510.31 79.95,509.75 80.07,509.14 80.20,508.47 80.32,507.75 80.44,506.96 80.56,506.12 80.68,505.22 80.80,504.26 80.92,503.24 81.04,502.16 81.16,501.02 81.29,499.82 81.41,498.56 81.53,497.24 81.65,495.86 81.77,494.42 81.89,492.92 82.01,491.36 82.13,489.74 82.25,488.05 82.38,486.31 82.50,484.51 82.62,482.65 82.74,480.73 82.86,478.75 82.98,476.72 83.10,474.63 83.22,472.49 83.34,470.29 83.47,468.04 83.59,465.75 83.71,463.40 83.83,461.02 83.95,458.59 84.07,456.12 84.19,453.62 84.31,451.08 84.44,448.52 84.56,445.93 84.68,443.33 84.80,440.72 84.92,438.09 85.04,435.47 85.16,432.85 85.28,430.25 85.40,427.66 85.53,425.10 85.65,422.58 85.77,420.10 85.89,417.67 86.01,415.31 86.13,413.01 86.25,410.80 86.37,408.68 86.49,406.66 86.62,404.74 86.74,402.95 86.86,401.29 86.98,399.76 87.10,398.39 87.22,397.17 87.34,396.12 87.46,395.24 87.59,394.53 87.71,394.02 87.83,393.69 87.95,393.57 88.07,393.64 88.19,393.91 88.31,394.39 88.43,395.07 88.55,395.96 88.68,397.05 88.80,398.33 88.92,399.81 89.04,401.49 89.16,403.34 89.28,405.38 89.40,407.58 89.52,409.95 89.64,412.47 89.77,415.14 89.89,417.93 90.01,420.86 90.13,423.89 90.25,427.03 90.37,430.26 90.49,433.57 90.61,436.95 90.74,440.39 90.86,443.88 90.98,447.41 91.10,450.97 91.22,454.55 91.34,458.14 91.46,461.74 91.58,465.33 91.70,468.91 91.83,472.47 91.95,476.00 92.07,479.51 92.19,482.97 92.31,486.40 92.43,489.78 92.55,493.11 92.67,496.39 92.79,499.60 92.92,502.76 93.04,505.86 93.16,508.89 93.28,511.86 93.40,514.76 93.52,517.59 93.64,520.34 93.76,523.03 93.89,525.65 94.01,528.19 94.13,530.67 94.25,533.07 94.37,535.40 94.49,537.66 94.61,539.84 94.73,541.96 94.85,544.00 94.98,545.97 95.10,547.88 95.22,549.71 95.34,551.48 95.46,553.18 95.58,554.81 95.70,556.38 95.82,557.88 95.94,559.31 96.07,560.68 96.19,561.99 96.31,563.24 96.43,564.42 96.55,565.54 96.67,566.60 96.79,567.59 96.91,568.53 97.03,569.41 97.16,570.23 97.28,570.99 97.40,571.69 97.52,572.33 97.64,572.91 97.76,573.43 97.88,573.89 98.00,574.30 98.13,574.64 98.25,574.93 98.37,575.16 98.49,575.33 98.61,575.43 98.73,575.48 98.85,575.46 98.97,575.38 99.09,575.24 99.22,575.03 99.34,574.76 99.46,574.42 99.58,574.01 99.70,573.53 99.82,572.98 99.94,572.36 100.06,571.66 100.18,570.89 100.31,570.03 100.43,569.10 100.55,568.08 100.67,566.97 100.79,565.77 100.91,564.48 101.03,563.10 101.15,561.61 101.28,560.02 101.40,558.32 101.52,556.51 101.64,554.59 101.76,552.54 101.88,550.36 102.00,548.06 102.12,545.62 102.24,543.04 102.37,540.30 102.49,537.42 102.61,534.38 102.73,531.17 102.85,527.79 102.97,524.23 103.09,520.49 103.21,516.57 103.33,512.45 103.46,508.13 103.58,503.62 103.70,498.90 103.82,493.99 103.94,488.88 104.06,483.57 104.18,478.08 104.30,472.42 104.43,466.59 104.55,460.63 104.67,454.56 104.79,448.41 104.91,442.23 105.03,436.06 105.15,429.95 105.27,423.99 105.39,418.24 105.52,412.79 105.64,407.74 105.76,403.17 105.88,399.21 106.00,395.94 106.12,393.49 106.24,391.93 106.36,391.37 106.48,391.86 106.61,393.46 106.73,396.20 106.85,400.07 106.97,405.05 107.09,411.08 107.21,418.08 107.33,425.95 107.45,434.58 107.57,443.83 107.70,453.57 107.82,463.66 107.94,473.99 108.06,484.42 108.18,494.84 108.30,505.16 108.42,515.29 108.54,525.17 108.67,534.75 108.79,543.97 108.91,552.81 109.03,561.25 109.15,569.29 109.27,576.90 109.39,584.11 109.51,590.91 109.63,597.32 109.76,603.34 109.88,609.00 110.00,614.32 110.12,619.30 110.24,623.97 110.36,628.34 110.48,632.44 110.60,636.28 110.72,639.87 110.85,643.23 110.97,646.38 111.09,649.33 111.21,652.10 111.33,654.69 111.45,657.12 111.57,659.40 111.69,661.54 111.82,663.55 111.94,665.44 112.06,667.21 112.18,668.88 112.30,670.45 112.42,671.93 112.54,673.32 112.66,674.63 112.78,675.87 112.91,677.04 113.03,678.14 113.15,679.18 113.27,680.16 113.39,681.09 113.51,681.97 113.63,682.81 113.75,683.60 113.87,684.35 114.00,685.06 114.12,685.73 114.24,686.37 114.36,686.98 114.48,687.55 114.60,688.10 114.72,688.62 114.84,689.12 114.97,689.59 115.09,690.04 115.21,690.47 115.33,690.88 115.45,691.27 115.57,691.64 115.69,692.00 115.81,692.34 115.93,692.66 116.06,692.97 116.18,693.27 116.30,693.56 116.42,693.83 116.54,694.09 116.66,694.34 116.78,694.58 116.90,694.80 117.02,695.02 117.15,695.24 117.27,695.44 117.39,695.63 117.51,695.82 117.63,696.00 117.75,696.17 117.87,696.33 117.99,696.49 118.12,696.65 118.24,696.79 118.36,696.94 118.48,697.07 118.60,697.20 118.72,697.33 118.84,697.45 118.96,697.57 119.08,697.68 119.21,697.79 119.33,697.90 119.45,698.00 119.57,698.10 119.69,698.19 119.81,698.29 119.93,698.37 120.05,698.46 120.17,698.54 120.30,698.62 120.42,698.70 120.54,698.78 120.66,698.85 120.78,698.92 120.90,698.99 121.02,699.05 121.14,699.12 121.26,699.18 121.39,699.24 121.51,699.29 121.63,699.35 121.75,699.40 121.87,699.46 121.99,699.51 122.11,699.56 122.23,699.61 122.36,699.65 122.48,699.70 122.60,699.74 122.72,699.78 122.84,699.83 122.96,699.87 123.08,699.91 123.20,699.94 123.32,699.98 123.45,700.02 123.57,700.05 123.69,700.09 123.81,700.12 123.93,700.15 124.05,700.18 124.17,700.21 124.29,700.24 124.41,700.27 124.54,700.30 124.66,700.33 124.78,700.35 124.90,700.38 125.02,700.40 125.14,700.43 125.26,700.45 125.38,700.48 125.51,700.50 125.63,700.52 125.75,700.54 125.87,700.56 125.99,700.58 126.11,700.60 126.23,700.62 126.35,700.64 126.47,700.66 126.60,700.68 126.72,700.70 126.84,700.71 126.96,700.73 127.08,700.75 127.20,700.76 127.32,700.78 127.44,700.79 127.56,700.81 127.69,700.82 127.81,700.84 127.93,700.85 128.05,700.87 128.17,700.88 128.29,700.89 128.41,700.91 128.53,700.92 128.66,700.93 128.78,700.94 128.90,700.95 129.02,700.97 129.14,700.98 129.26,700.99 129.38,701.00 129.50,701.01 129.62,701.02 129.75,701.03 129.87,701.04 129.99,701.05 130.11,701.06 130.23,701.07 130.35,701.08 130.47,701.08 130.59,701.09 130.71,701.10 130.84,701.11 130.96,701.12 131.08,701.13 131.20,701.13 131.32,701.14 131.44,701.15 131.56,701.16 131.68,701.16 131.81,701.17 131.93,701.18 132.05,701.19 132.17,701.19 132.29,701.20 132.41,701.20 132.53,701.21 132.65,701.22 132.77,701.22 132.90,701.23 133.02,701.24 133.14,701.24 133.26,701.25 133.38,701.25 133.50,701.26 133.62,701.26 133.74,701.27 133.86,701.27 133.99,701.28 134.11,701.28 134.23,701.29 134.35,701.29 134.47,701.30 134.59,701.30 134.71,701.31 134.83,701.31 134.95,701.32 135.08,701.32 135.20,701.32 135.32,701.33 135.44,701.33 135.56,701.34 135.68,701.34 135.80,701.34 135.92,701.35 136.05,701.35 136.17,701.36 136.29,701.36 136.41,701.36 136.53,701.37 136.65,701.37 136.77,701.37 136.89,701.38 137.01,701.38 137.14,701.38 137.26,701.39 137.38,701.39 137.50,701.39 137.62,701.39 137.74,701.40 137.86,701.40 137.98,701.40 138.10,701.41 138.23,701.41 138.35,701.41 138.47,701.41 138.59,701.42 138.71,701.42 138.83,701.42 138.95,701.43 139.07,701.43 139.20,701.43 139.32,701.43 139.44,701.43 139.56,701.44 139.68,701.44 139.80,701.44 139.92,701.44 140.04,701.45 140.16,701.45 140.29,701.45 140.41,701.45 140.53,701.45 140.65,701.46 140.77,701.46 140.89,701.46 141.01,701.46 141.13,701.46 141.25,701.47 141.38,701.47 141.50,701.47 141.62,701.47 141.74,701.47 141.86,701.48 141.98,701.48 142.10,701.48 142.22,701.48 142.35,701.48 142.47,701.48 142.59,701.49 142.71,701.49 142.83,701.49 142.95,701.49 143.07,701.49 143.19,701.49 143.31,701.49 143.44,701.50 143.56,701.50 143.68,701.50 143.80,701.50 143.92,701.50 144.04,701.50 144.16,701.50 144.28,701.51 144.40,701.51 144.53,701.51 144.65,701.51 144.77,701.51 144.89,701.51 145.01,701.51 145.13,701.51 145.25,701.52 145.37,701.52 145.49,701.52 145.62,701.52 145.74,701.52 145.86,701.52 145.98,701.52 146.10,701.52 146.22,701.52 146.34,701.53 146.46,701.53 146.59,701.53 146.71,701.53 146.83,701.53 146.95,701.53 147.07,701.53 147.19,701.53 147.31,701.53 147.43,701.53 147.55,701.54 147.68,701.54 147.80,701.54 147.92,701.54 148.04,701.54 148.16,701.54 148.28,701.54 148.40,701.54 148.52,701.54 148.64,701.54 148.77,701.54 148.89,701.54 149.01,701.55 149.13,701.55 149.25,701.55 149.37,701.55 149.49,701.55 149.61,701.55 149.74,701.55 149.86,701.55 149.98,701.55 150.10,701.55 150.22,701.55 150.34,701.55 150.46,701.55 150.58,701.55 150.70,701.56 150.83,701.56 150.95,701.56 151.07,701.56 151.19,701.56 151.31,701.56 151.43,701.56 151.55,701.56 151.67,701.56 151.79,701.56 151.92,701.56 152.04,701.56 152.16,701.56 152.28,701.56 152.40,701.56 152.52,701.56 152.64,701.56 152.76,701.57 152.89,701.57 153.01,701.57 153.13,701.57 153.25,701.57 153.37,701.57 153.49,701.57 153.61,701.57 153.73,701.57 153.85,701.57 153.98,701.57 154.10,701.57 154.22,701.57 154.34,701.57 154.46,701.57 154.58,701.57 154.70,701.57 154.82,701.57 154.94,701.57 155.07,701.57 155.19,701.57 155.31,701.57 155.43,701.57 155.55,701.58 155.67,701.58 155.79,701.58 155.91,701.58 156.03,701.58 156.16,701.58 156.28,701.58 156.40,701.58 156.52,701.58 156.64,701.58 156.76,701.58 156.88,701.58 157.00,701.58 157.13,701.58 157.25,701.58 157.37,701.58 157.49,701.58 157.61,701.58 157.73,701.58 157.85,701.58 157.97,701.58 158.09,701.58 158.22,701.58 158.34,701.58 158.46,701.58 158.58,701.58 158.70,701.58 158.82,701.58 158.94,701.58 159.06,701.58 159.18,701.58 159.31,701.58 159.43,701.58 159.55,701.59 159.67,701.59 159.79,701.59 159.91,701.59 160.03,701.59 160.15,701.59 160.28,701.59 160.40,701.59 160.52,701.59 160.64,701.59 160.76,701.59 160.88,701.59 161.00,701.59 161.12,701.59 161.24,701.59 161.37,701.59 161.49,701.59 161.61,701.59 161.73,701.59 161.85,701.59 161.97,701.59 162.09,701.59 162.21,701.59 162.33,701.59 162.46,701.59 162.58,701.59 162.70,701.59 162.82,701.59 162.94,701.59 163.06,701.59 163.18,701.59 163.30,701.59 163.43,701.59 163.55,701.59 163.67,701.59 163.79,701.59 163.91,701.59 164.03,701.59 164.15,701.59 164.27,701.59 164.39,701.59 164.52,701.59 164.64,701.59 164.76,701.59 164.88,701.59 165.00,701.59 165.12,701.59 165.24,701.59 165.36,701.59 165.48,701.59 165.61,701.59 165.73,701.59 165.85,701.59 165.97,701.59 166.09,701.59 166.21,701.59 166.33,701.59 166.45,701.59 166.58,701.59 166.70,701.59 166.82,701.59 166.94,701.59 167.06,701.59 167.18,701.59 167.30,701.59 167.42,701.59 167.54,701.59 167.67,701.59 167.79,701.59 167.91,701.59 168.03,701.59 168.15,701.59 168.27,701.59 168.39,701.59 168.51,701.59 168.63,701.59 168.76,701.59 168.88,701.59 169.00,701.59 169.12,701.59 169.24,701.59 169.36,701.59 169.48,701.59 169.60,701.59 169.72,701.59 169.85,701.59 169.97,701.59 170.09,701.59 170.21,701.59 170.33,701.59 170.45,701.59 170.57,701.59 170.69,701.59 170.82,701.59 170.94,701.59 171.06,701.59 171.18,701.59 171.30,701.59 171.42,701.59 171.54,701.59 171.66,701.59 171.78,701.59 171.91,701.59 172.03,701.59 172.15,701.59 172.27,701.59 172.39,701.59 172.51,701.59 172.63,701.59 172.75,701.59 172.87,701.59 173.00,701.59 173.12,701.59 173.24,701.59 173.36,701.59 173.48,701.59 173.60,701.59 173.72,701.59 173.84,701.59 173.97,701.59 174.09,701.59 174.21,701.59 174.33,701.59 174.45,701.59 174.57,701.59 174.69,701.59 174.81,701.59 174.93,701.59 175.06,701.59 175.18,701.59 175.30,701.59 175.42,701.59 175.54,701.59 175.66,701.59 175.78,701.59 175.90,701.59 176.02,701.59 176.15,701.59 176.27,701.59 176.39,701.59 176.51,701.59 176.63,701.58 176.75,701.58 176.87,701.58 176.99,701.58 177.12,701.58 177.24,701.58 177.36,701.58 177.48,701.58 177.60,701.58 177.72,701.58 177.84,701.58 177.96,701.58 178.08,701.58 178.21,701.58 178.33,701.58 178.45,701.58 178.57,701.58 178.69,701.58 178.81,701.58 178.93,701.58 179.05,701.58 179.17,701.58 179.30,701.58 179.42,701.58 179.54,701.58 179.66,701.58 179.78,701.58 179.90,701.58 180.02,701.58 180.14,701.58 180.26,701.58 180.39,701.58 180.51,701.58 180.63,701.58 180.75,701.58 180.87,701.58 180.99,701.58 181.11,701.58 181.23,701.58 181.36,701.57 181.48,701.57 181.60,701.57 181.72,701.57 181.84,701.57 181.96,701.57 182.08,701.57 182.20,701.57 182.32,701.57 182.45,701.57 182.57,701.57 182.69,701.57 182.81,701.57 182.93,701.57 183.05,701.57 183.17,701.57 183.29,701.57 183.41,701.57 183.54,701.57 183.66,701.57 183.78,701.57 183.90,701.57 184.02,701.57 184.14,701.57 184.26,701.57 184.38,701.57 184.51,701.57 184.63,701.56 184.75,701.56 184.87,701.56 184.99,701.56 185.11,701.56 185.23,701.56 185.35,701.56 185.47,701.56 185.60,701.56 185.72,701.56 185.84,701.56 185.96,701.56 186.08,701.56 186.20,701.56 186.32,701.56 186.44,701.56 186.56,701.56 186.69,701.56 186.81,701.56 186.93,701.56 187.05,701.56 187.17,701.55 187.29,701.55 187.41,701.55 187.53,701.55 187.66,701.55 187.78,701.55 187.90,701.55 188.02,701.55 188.14,701.55 188.26,701.55 188.38,701.55 188.50,701.55 188.62,701.55 188.75,701.55 188.87,701.55 188.99,701.55 189.11,701.55 189.23,701.55 189.35,701.54 189.47,701.54 189.59,701.54 189.71,701.54 189.84,701.54 189.96,701.54 190.08,701.54 190.20,701.54 190.32,701.54 190.44,701.54 190.56,701.54 190.68,701.54 190.81,701.54 190.93,701.54 191.05,701.54 191.17,701.53 191.29,701.53 191.41,701.53 191.53,701.53 191.65,701.53 191.77,701.53 191.90,701.53 192.02,701.53 192.14,701.53 192.26,701.53 192.38,701.53 192.50,701.53 192.62,701.53 192.74,701.53 192.86,701.52 192.99,701.52 193.11,701.52 193.23,701.52 193.35,701.52 193.47,701.52 193.59,701.52 193.71,701.52 193.83,701.52 193.95,701.52 194.08,701.52 194.20,701.52 194.32,701.51 194.44,701.51 194.56,701.51 194.68,701.51 194.80,701.51 194.92,701.51 195.05,701.51 195.17,701.51 195.29,701.51 195.41,701.51 195.53,701.51 195.65,701.50 195.77,701.50 195.89,701.50 196.01,701.50 196.14,701.50 196.26,701.50 196.38,701.50 196.50,701.50 196.62,701.50 196.74,701.50 196.86,701.49 196.98,701.49 197.10,701.49 197.23,701.49 197.35,701.49 197.47,701.49 197.59,701.49 197.71,701.49 197.83,701.49 197.95,701.48 198.07,701.48 198.20,701.48 198.32,701.48 198.44,701.48 198.56,701.48 198.68,701.48 198.80,701.48 198.92,701.48 199.04,701.47 199.16,701.47 199.29,701.47 199.41,701.47 199.53,701.47 199.65,701.47 199.77,701.47 199.89,701.47 200.01,701.46 200.13,701.46 200.25,701.46 200.38,701.46 200.50,701.46 200.62,701.46 200.74,701.46 200.86,701.45 200.98,701.45 201.10,701.45 201.22,701.45 201.35,701.45 201.47,701.45 201.59,701.45 201.71,701.44 201.83,701.44 201.95,701.44 202.07,701.44 202.19,701.44 202.31,701.44 202.44,701.44 202.56,701.43 202.68,701.43 202.80,701.43 202.92,701.43 203.04,701.43 203.16,701.43 203.28,701.42 203.40,701.42 203.53,701.42 203.65,701.42 203.77,701.42 203.89,701.42 204.01,701.41 204.13,701.41 204.25,701.41 204.37,701.41 204.50,701.41 204.62,701.40 204.74,701.40 204.86,701.40 204.98,701.40 205.10,701.40 205.22,701.39 205.34,701.39 205.46,701.39 205.59,701.39 205.71,701.39 205.83,701.38 205.95,701.38 206.07,701.38 206.19,701.38 206.31,701.38 206.43,701.37 206.55,701.37 206.68,701.37 206.80,701.37 206.92,701.37 207.04,701.36 207.16,701.36 207.28,701.36 207.40,701.36 207.52,701.35 207.64,701.35 207.77,701.35 207.89,701.35 208.01,701.34 208.13,701.34 208.25,701.34 208.37,701.34 208.49,701.33 208.61,701.33 208.74,701.33 208.86,701.33 208.98,701.32 209.10,701.32 209.22,701.32 209.34,701.32 209.46,701.31 209.58,701.31 209.70,701.31 209.83,701.31 209.95,701.30 210.07,701.30 210.19,701.30 210.31,701.29 210.43,701.29 210.55,701.29 210.67,701.28 210.79,701.28 210.92,701.28 211.04,701.28 211.16,701.27 211.28,701.27 211.40,701.27 211.52,701.26 211.64,701.26 211.76,701.26 211.89,701.25 212.01,701.25 212.13,701.25 212.25,701.24 212.37,701.24 212.49,701.24 212.61,701.23 212.73,701.23 212.85,701.23 212.98,701.22 213.10,701.22 213.22,701.21 213.34,701.21 213.46,701.21 213.58,701.20 213.70,701.20 213.82,701.19 213.94,701.19 214.07,701.19 214.19,701.18 214.31,701.18 214.43,701.17 214.55,701.17 214.67,701.17 214.79,701.16 214.91,701.16 215.04,701.15 215.16,701.15 215.28,701.14 215.40,701.14 215.52,701.14 215.64,701.13 215.76,701.13 215.88,701.12 216.00,701.12 216.13,701.11 216.25,701.11 216.37,701.10 216.49,701.10 216.61,701.09 216.73,701.09 216.85,701.08 216.97,701.08 217.09,701.07 217.22,701.07 217.34,701.06 217.46,701.06 217.58,701.05 217.70,701.05 217.82,701.04 217.94,701.03 218.06,701.03 218.18,701.02 218.31,701.02 218.43,701.01 218.55,701.00 218.67,701.00 218.79,700.99 218.91,700.99 219.03,700.98 219.15,700.97 219.28,700.97 219.40,700.96 219.52,700.95 219.64,700.95 219.76,700.94 219.88,700.93 220.00,700.93 220.12,700.92 220.24,700.91 220.37,700.91 220.49,700.90 220.61,700.89 220.73,700.89 220.85,700.88 220.97,700.87 221.09,700.86 221.21,700.86 221.33,700.85 221.46,700.84 221.58,700.83 221.70,700.82 221.82,700.82 221.94,700.81 222.06,700.80 222.18,700.79 222.30,700.78 222.43,700.77 222.55,700.77 222.67,700.76 222.79,700.75 222.91,700.74 223.03,700.73 223.15,700.72 223.27,700.71 223.39,700.70 223.52,700.69 223.64,700.68 223.76,700.67 223.88,700.66 224.00,700.65 224.12,700.64 224.24,700.63 224.36,700.62 224.48,700.61 224.61,700.60 224.73,700.59 224.85,700.58 224.97,700.57 225.09,700.56 225.21,700.55 225.33,700.53 225.45,700.52 225.58,700.51 225.70,700.50 225.82,700.49 225.94,700.47 226.06,700.46 226.18,700.45 226.30,700.44 226.42,700.42 226.54,700.41 226.67,700.40 226.79,700.38 226.91,700.37 227.03,700.36 227.15,700.34 227.27,700.33 227.39,700.31 227.51,700.30 227.63,700.29 227.76,700.27 227.88,700.26 228.00,700.24 228.12,700.23 228.24,700.21 228.36,700.19 228.48,700.18 228.60,700.16 228.72,700.15 228.85,700.13 228.97,700.11 229.09,700.09 229.21,700.08 229.33,700.06 229.45,700.04 229.57,700.02 229.69,700.01 229.82,699.99 229.94,699.97 230.06,699.95 230.18,699.93 230.30,699.91 230.42,699.89 230.54,699.87 230.66,699.85 230.78,699.83 230.91,699.81 231.03,699.79 231.15,699.77 231.27,699.74 231.39,699.72 231.51,699.70 231.63,699.68 231.75,699.65 231.87,699.63 232.00,699.61 232.12,699.58 232.24,699.56 232.36,699.53 232.48,699.51 232.60,699.48 232.72,699.46 232.84,699.43 232.97,699.40 233.09,699.38 233.21,699.35 233.33,699.32 233.45,699.29 233.57,699.27 233.69,699.24 233.81,699.21 233.93,699.18 234.06,699.15 234.18,699.12 234.30,699.09 234.42,699.05 234.54,699.02 234.66,698.99 234.78,698.96 234.90,698.92 235.02,698.89 235.15,698.85 235.27,698.82 235.39,698.78 235.51,698.75 235.63,698.71 235.75,698.67 235.87,698.64 235.99,698.60 236.12,698.56 236.24,698.52 236.36,698.48 236.48,698.44 236.60,698.40 236.72,698.35 236.84,698.31 236.96,698.27 237.08,698.22 237.21,698.18 237.33,698.13 237.45,698.09 237.57,698.04 237.69,697.99 237.81,697.94 237.93,697.89 238.05,697.84 238.17,697.79 238.30,697.74 238.42,697.69 238.54,697.64 238.66,697.58 238.78,697.53 238.90,697.47 239.02,697.41 239.14,697.35 239.27,697.30 239.39,697.24 239.51,697.17 239.63,697.11 239.75,697.05 239.87,696.99 239.99,696.92 240.11,696.85 240.23,696.79 240.36,696.72 240.48,696.65 240.60,696.58 240.72,696.51 240.84,696.43 240.96,696.36 241.08,696.28 241.20,696.21 241.32,696.13 241.45,696.05 241.57,695.97 241.69,695.88 241.81,695.80 241.93,695.71 242.05,695.63 242.17,695.54 242.29,695.45 242.41,695.36 242.54,695.26 242.66,695.17 242.78,695.07 242.90,694.97 243.02,694.87 243.14,694.77 243.26,694.66 243.38,694.56 243.51,694.45 243.63,694.34 243.75,694.23 243.87,694.11 243.99,694.00 244.11,693.88 244.23,693.76 244.35,693.63 244.47,693.51 244.60,693.38 244.72,693.25 244.84,693.12 244.96,692.98 245.08,692.85 245.20,692.71 245.32,692.56 245.44,692.42 245.56,692.27 245.69,692.12 245.81,691.96 245.93,691.80 246.05,691.64 246.17,691.48 246.29,691.31 246.41,691.14 246.53,690.97 246.66,690.79 246.78,690.61 246.90,690.42 247.02,690.24 247.14,690.04 247.26,689.85 247.38,689.65 247.50,689.44 247.62,689.23 247.75,689.02 247.87,688.80 247.99,688.58 248.11,688.36 248.23,688.13 248.35,687.89 248.47,687.65 248.59,687.40 248.71,687.15 248.84,686.89 248.96,686.63 249.08,686.36 249.20,686.09 249.32,685.81 249.44,685.52 249.56,685.23 249.68,684.93 249.81,684.63 249.93,684.32 250.05,684.00 250.17,683.67 250.29,683.34 250.41,683.00 250.53,682.65 250.65,682.30 250.77,681.93 250.90,681.56 251.02,681.18 251.14,680.79 251.26,680.39 251.38,679.98 251.50,679.57 251.62,679.14 251.74,678.70 251.86,678.26 251.99,677.80 252.11,677.33 252.23,676.85 252.35,676.36 252.47,675.86 252.59,675.35 252.71,674.82 252.83,674.28 252.95,673.73 253.08,673.17 253.20,672.59 253.32,672.00 253.44,671.39 253.56,670.77 253.68,670.13 253.80,669.48 253.92,668.81 254.05,668.12 254.17,667.42 254.29,666.70 254.41,665.96 254.53,665.21 254.65,664.43 254.77,663.64 254.89,662.82 255.01,661.99 255.14,661.13 255.26,660.25 255.38,659.35 255.50,658.43 255.62,657.48 255.74,656.51 255.86,655.51 255.98,654.49 256.10,653.44 256.23,652.37 256.35,651.26 256.47,650.13 256.59,648.97 256.71,647.78 256.83,646.56 256.95,645.30 257.07,644.02 257.20,642.70 257.32,641.34 257.44,639.95 257.56,638.53 257.68,637.07 257.80,635.57 257.92,634.03 258.04,632.45 258.16,630.83 258.29,629.17 258.41,627.46 258.53,625.72 258.65,623.92 258.77,622.08 258.89,620.20 259.01,618.27 259.13,616.28 259.25,614.25 259.38,612.17 259.50,610.04 259.62,607.85 259.74,605.61 259.86,603.31 259.98,600.96 260.10,598.56 260.22,596.09 260.35,593.57 260.47,590.99 260.59,588.35 260.71,585.65 260.83,582.89 260.95,580.07 261.07,577.19 261.19,574.25 261.31,571.25 261.44,568.18 261.56,565.06 261.68,561.88 261.80,558.63 261.92,555.33 262.04,551.96 262.16,548.54 262.28,545.07 262.40,541.53 262.53,537.95 262.65,534.31 262.77,530.63 262.89,526.90 263.01,523.12 263.13,519.30 263.25,515.45 263.37,511.56 263.50,507.63 263.62,503.69 263.74,499.72 263.86,495.73 263.98,491.73 264.10,487.72 264.22,483.71 264.34,479.71 264.46,475.71 264.59,471.73 264.71,467.77 264.83,463.85 264.95,459.96 265.07,456.11 265.19,452.31 265.31,448.57 265.43,444.89 265.55,441.29 265.68,437.77 265.80,434.33 265.92,430.99 266.04,427.74 266.16,424.61 266.28,421.58 266.40,418.68 266.52,415.90 266.64,413.25 266.77,410.74 266.89,408.37 267.01,406.14 267.13,404.07 267.25,402.14 267.37,400.37 267.49,398.75 267.61,397.29 267.74,395.99 267.86,394.85 267.98,393.87 268.10,393.05 268.22,392.38 268.34,391.87 268.46,391.52 268.58,391.31 268.70,391.26 268.83,391.35 268.95,391.58 269.07,391.95 269.19,392.45 269.31,393.08 269.43,393.84 269.55,394.71 269.67,395.70 269.79,396.79 269.92,397.99 270.04,399.29 270.16,400.68 270.28,402.15 270.40,403.71 270.52,405.34 270.64,407.05 270.76,408.81 270.89,410.64 271.01,412.53 271.13,414.46 271.25,416.44 271.37,418.46 271.49,420.52 271.61,422.61 271.73,424.73 271.85,426.87 271.98,429.03 272.10,431.21 272.22,433.40 272.34,435.61 272.46,437.82 272.58,440.03 272.70,442.25 272.82,444.47 272.94,446.68 273.07,448.89 273.19,451.09 273.31,453.28 273.43,455.46 273.55,457.62 273.67,459.78 273.79,461.91 273.91,464.03 274.04,466.13 274.16,468.22 274.28,470.28 274.40,472.32 274.52,474.34 274.64,476.34 274.76,478.31 274.88,480.26 275.00,482.18 275.13,484.08 275.25,485.96 275.37,487.81 275.49,489.64 275.61,491.44 275.73,493.21 275.85,494.96 275.97,496.68 276.09,498.37 276.22,500.04 276.34,501.69 276.46,503.30 276.58,504.90 276.70,506.46 276.82,508.00 276.94,509.52 277.06,511.01 277.19,512.47 277.31,513.91 277.43,515.33 277.55,516.72 277.67,518.08 277.79,519.43 277.91,520.74 278.03,522.04 278.15,523.31 278.28,524.56 278.40,525.79 278.52,526.99 278.64,528.17 278.76,529.34 278.88,530.47 279.00,531.59 279.12,532.69 279.24,533.77 279.37,534.82 279.49,535.86 279.61,536.88 279.73,537.87 279.85,538.85 279.97,539.81 280.09,540.75 280.21,541.67 280.33,542.58 280.46,543.46 280.58,544.33 280.70,545.19 280.82,546.02 280.94,546.84 281.06,547.64 281.18,548.43 281.30,549.20 281.43,549.95 281.55,550.69 281.67,551.41 281.79,552.12 281.91,552.81 282.03,553.49 282.15,554.16 282.27,554.81 282.39,555.44 282.52,556.07 282.64,556.67 282.76,557.27 282.88,557.85 283.00,558.42 283.12,558.98 283.24,559.53 283.36,560.06 283.48,560.58 283.61,561.09 283.73,561.58 283.85,562.07 283.97,562.54 284.09,563.00 284.21,563.46 284.33,563.90 284.45,564.32 284.58,564.74 284.70,565.15 284.82,565.55 284.94,565.94 285.06,566.31 285.18,566.68 285.30,567.04 285.42,567.38 285.54,567.72 285.67,568.05 285.79,568.37 285.91,568.68 286.03,568.98 286.15,569.27 286.27,569.56 286.39,569.83 286.51,570.09 286.63,570.35 286.76,570.60 286.88,570.84 287.00,571.07 287.12,571.29 287.24,571.51 287.36,571.71 287.48,571.91 287.60,572.10 287.73,572.29 287.85,572.46 287.97,572.63 288.09,572.79 288.21,572.95 288.33,573.09 288.45,573.23 288.57,573.36 288.69,573.48 288.82,573.60 288.94,573.71 289.06,573.81 289.18,573.91 289.30,574.00 289.42,574.08 289.54,574.15 289.66,574.22 289.78,574.28 289.91,574.34 290.03,574.39 290.15,574.43 290.27,574.46 290.39,574.49 290.51,574.52 290.63,574.53 290.75,574.54 290.87,574.55 291.00,574.55 291.12,574.54 291.24,574.52 291.36,574.50 291.48,574.48 291.60,574.44 291.72,574.40 291.84,574.36 291.97,574.31 292.09,574.25 292.21,574.19 292.33,574.12 292.45,574.05 292.57,573.97 292.69,573.88 292.81,573.79 292.93,573.70 293.06,573.59 293.18,573.49 293.30,573.37 293.42,573.25 293.54,573.13 293.66,573.00 293.78,572.86 293.90,572.72 294.02,572.57 294.15,572.42 294.27,572.26 294.39,572.10 294.51,571.93 294.63,571.76 294.75,571.58 294.87,571.39 294.99,571.20 295.12,571.01 295.24,570.81 295.36,570.60 295.48,570.39 295.60,570.17 295.72,569.95 295.84,569.72 295.96,569.49 296.08,569.25 296.21,569.00 296.33,568.76 296.45,568.50 296.57,568.24 296.69,567.98 296.81,567.71 296.93,567.43 297.05,567.15 297.17,566.86 297.30,566.57 297.42,566.28 297.54,565.98 297.66,565.67 297.78,565.36 297.90,565.04 298.02,564.72 298.14,564.39 298.27,564.06 298.39,563.72 298.51,563.37 298.63,563.03 298.75,562.67 298.87,562.31 298.99,561.95 299.11,561.58 299.23,561.20 299.36,560.82 299.48,560.44 299.60,560.05 299.72,559.65 299.84,559.25 299.96,558.84 300.08,558.43 300.20,558.01 300.32,557.59 300.45,557.16 300.57,556.73 300.69,556.29 300.81,555.85 300.93,555.40 301.05,554.95 301.17,554.49 301.29,554.02 301.41,553.55 301.54,553.08 301.66,552.60 301.78,552.11 301.90,551.62 302.02,551.12 302.14,550.62 302.26,550.11 302.38,549.60 302.51,549.08 302.63,548.56 302.75,548.03 302.87,547.50 302.99,546.96 303.11,546.42 303.23,545.87 303.35,545.31 303.47,544.75 303.60,544.18 303.72,543.61 303.84,543.04 303.96,542.46 304.08,541.87 304.20,541.28 304.32,540.68 304.44,540.08 304.56,539.47 304.69,538.85 304.81,538.24 304.93,537.61 305.05,536.98 305.17,536.35 305.29,535.71 305.41,535.06 305.53,534.41 305.66,533.76 305.78,533.10 305.90,532.43 306.02,531.76 306.14,531.08 306.26,530.40 306.38,529.71 306.50,529.02 306.62,528.32 306.75,527.62 306.87,526.91 306.99,526.20 307.11,525.48 307.23,524.76 307.35,524.03 307.47,523.30 307.59,522.56 307.71,521.82 307.84,521.07 307.96,520.32 308.08,519.56 308.20,518.79 308.32,518.03 308.44,517.25 308.56,516.48 308.68,515.70 308.81,514.91 308.93,514.12 309.05,513.32 309.17,512.52 309.29,511.72 309.41,510.91 309.53,510.09 309.65,509.27 309.77,508.45 309.90,507.62 310.02,506.79 310.14,505.95 310.26,505.11 310.38,504.27 310.50,503.42 310.62,502.57 310.74,501.71 310.86,500.85 310.99,499.99 311.11,499.12 311.23,498.25 311.35,497.37 311.47,496.49 311.59,495.61 311.71,494.72 311.83,493.83 311.96,492.94 312.08,492.04 312.20,491.14 312.32,490.24 312.44,489.33 312.56,488.42 312.68,487.51 312.80,486.60 312.92,485.68 313.05,484.76 313.17,483.84 313.29,482.92 313.41,481.99 313.53,481.06 313.65,480.13 313.77,479.20 313.89,478.26 314.01,477.33 314.14,476.39 314.26,475.45 314.38,474.51 314.50,473.56 314.62,472.62 314.74,471.67 314.86,470.73 314.98,469.78 315.10,468.83 315.23,467.89 315.35,466.94 315.47,465.99 315.59,465.04 315.71,464.09 315.83,463.14 315.95,462.19 316.07,461.24 316.20,460.29 316.32,459.35 316.44,458.40 316.56,457.45 316.68,456.51 316.80,455.57 316.92,454.62 317.04,453.68 317.16,452.74 317.29,451.81 317.41,450.87 317.53,449.94 317.65,449.01 317.77,448.08 317.89,447.15 318.01,446.23 318.13,445.31 318.25,444.39 318.38,443.48 318.50,442.57 318.62,441.66 318.74,440.76 318.86,439.86 318.98,438.97 319.10,438.08 319.22,437.19 319.35,436.31 319.47,435.43 319.59,434.56 319.71,433.69 319.83,432.83 319.95,431.97 320.07,431.12 320.19,430.28 320.31,429.44 320.44,428.61 320.56,427.78 320.68,426.96 320.80,426.15 320.92,425.34 321.04,424.54 321.16,423.75 321.28,422.97 321.40,422.19 321.53,421.42 321.65,420.66 321.77,419.90 321.89,419.16 322.01,418.42 322.13,417.69 322.25,416.97 322.37,416.26 322.50,415.56 322.62,414.86 322.74,414.18 322.86,413.50 322.98,412.84 323.10,412.18 323.22,411.53 323.34,410.90 323.46,410.27 323.59,409.65 323.71,409.04 323.83,408.45 323.95,407.86 324.07,407.29 324.19,406.72 324.31,406.17 324.43,405.62 324.55,405.09 324.68,404.57 324.80,404.06 324.92,403.56 325.04,403.08 325.16,402.60 325.28,402.14 325.40,401.68 325.52,401.24 325.64,400.81 325.77,400.40 325.89,399.99 326.01,399.60 326.13,399.22 326.25,398.85 326.37,398.49 326.49,398.15 326.61,397.81 326.74,397.49 326.86,397.18 326.98,396.89 327.10,396.60 327.22,396.33 327.34,396.07 327.46,395.83 327.58,395.59 327.70,395.37 327.83,395.16 327.95,394.96 328.07,394.78 328.19,394.60 328.31,394.44 328.43,394.29 328.55,394.16 328.67,394.03 328.79,393.92 328.92,393.82 329.04,393.74 329.16,393.66 329.28,393.60 329.40,393.55 329.52,393.51 329.64,393.48 329.76,393.46 329.89,393.46 330.01,393.47 330.13,393.49 330.25,393.52 330.37,393.56 330.49,393.61 330.61,393.68 330.73,393.76 330.85,393.84 330.98,393.94 331.10,394.05 331.22,394.17 331.34,394.30 331.46,394.44 331.58,394.59 331.70,394.76 331.82,394.93 331.94,395.11 332.07,395.31 332.19,395.51 332.31,395.72 332.43,395.94 332.55,396.18 332.67,396.42 332.79,396.67 332.91,396.93 333.04,397.20 333.16,397.48 333.28,397.76 333.40,398.06 333.52,398.36 333.64,398.68 333.76,399.00 333.88,399.33 334.00,399.67 334.13,400.01 334.25,400.36 334.37,400.73 334.49,401.09 334.61,401.47 334.73,401.85 334.85,402.24 334.97,402.64 335.09,403.05 335.22,403.46 335.34,403.87 335.46,404.30 335.58,404.73 335.70,405.16 335.82,405.61 335.94,406.05 336.06,406.51 336.19,406.97 336.31,407.43 336.43,407.90 336.55,408.38 336.67,408.86 336.79,409.34 336.91,409.83 337.03,410.33 337.15,410.83 337.28,411.33 337.40,411.84 337.52,412.35 337.64,412.87 337.76,413.39" fill="none" stroke="#111" stroke-width="0.95" stroke-dasharray="1 3"/>
<polyline points="47.00,425.51 47.12,425.05 47.24,424.58 47.36,424.11 47.48,423.62 47.61,423.12 47.73,422.61 47.85,422.09 47.97,421.56 48.09,421.02 48.21,420.48 48.33,419.93 48.45,419.38 48.57,418.82 48.70,418.25 48.82,417.68 48.94,417.11 49.06,416.53 49.18,415.96 49.30,415.38 49.42,414.80 49.54,414.22 49.67,413.64 49.79,413.06 49.91,412.49 50.03,411.92 50.15,411.35 50.27,410.78 50.39,410.22 50.51,409.67 50.63,409.12 50.76,408.58 50.88,408.04 51.00,407.51 51.12,406.99 51.24,406.48 51.36,405.98 51.48,405.49 51.60,405.02 51.72,404.55 51.85,404.09 51.97,403.65 52.09,403.22 52.21,402.80 52.33,402.40 52.45,402.01 52.57,401.64 52.69,401.28 52.82,400.94 52.94,400.61 53.06,400.30 53.18,400.01 53.30,399.74 53.42,399.48 53.54,399.24 53.66,399.02 53.78,398.81 53.91,398.63 54.03,398.46 54.15,398.32 54.27,398.19 54.39,398.08 54.51,397.99 54.63,397.92 54.75,397.87 54.87,397.84 55.00,397.83 55.12,397.86 55.24,397.92 55.36,398.01 55.48,398.13 55.60,398.29 55.72,398.48 55.84,398.70 55.97,398.96 56.09,399.25 56.21,399.57 56.33,399.93 56.45,400.31 56.57,400.73 56.69,401.18 56.81,401.65 56.93,402.16 57.06,402.69 57.18,403.24 57.30,403.83 57.42,404.43 57.54,405.06 57.66,405.71 57.78,406.38 57.90,407.06 58.02,407.77 58.15,408.49 58.27,409.22 58.39,409.96 58.51,410.71 58.63,411.48 58.75,412.25 58.87,413.02 58.99,413.80 59.12,414.58 59.24,415.36 59.36,416.14 59.48,416.92 59.60,417.69 59.72,418.46 59.84,419.22 59.96,419.97 60.08,420.72 60.21,421.45 60.33,422.17 60.45,422.87 60.57,423.56 60.69,424.23 60.81,424.89 60.93,425.52 61.05,426.14 61.17,426.73 61.30,427.31 61.42,427.86 61.54,428.38 61.66,428.89 61.78,429.36 61.90,429.82 62.02,430.24 62.14,430.64 62.26,431.00 62.39,431.34 62.51,431.65 62.63,431.94 62.75,432.19 62.87,432.41 62.99,432.60 63.11,432.75 63.23,432.88 63.36,432.97 63.48,433.04 63.60,433.07 63.72,433.07 63.84,433.03 63.96,432.97 64.08,432.87 64.20,432.74 64.32,432.58 64.45,432.39 64.57,432.16 64.69,431.91 64.81,431.62 64.93,431.30 65.05,430.96 65.17,430.58 65.29,430.17 65.41,429.73 65.54,429.27 65.66,428.78 65.78,428.26 65.90,427.71 66.02,427.14 66.14,426.55 66.26,425.93 66.38,425.29 66.51,424.62 66.63,423.94 66.75,423.23 66.87,422.51 66.99,421.77 67.11,421.01 67.23,420.24 67.35,419.45 67.47,418.66 67.60,417.85 67.72,417.03 67.84,416.20 67.96,415.37 68.08,414.53 68.20,413.69 68.32,412.85 68.44,412.01 68.56,411.17 68.69,410.34 68.81,409.51 68.93,408.69 69.05,407.88 69.17,407.08 69.29,406.30 69.41,405.53 69.53,404.77 69.66,404.04 69.78,403.33 69.90,402.64 70.02,401.98 70.14,401.34 70.26,400.73 70.38,400.15 70.50,399.61 70.62,399.09 70.75,398.62 70.87,398.18 70.99,397.77 71.11,397.41 71.23,397.09 71.35,396.81 71.47,396.57 71.59,396.38 71.71,396.23 71.84,396.13 71.96,396.07 72.08,396.06 72.20,396.10 72.32,396.18 72.44,396.31 72.56,396.49 72.68,396.72 72.80,396.99 72.93,397.31 73.05,397.68 73.17,398.09 73.29,398.55 73.41,399.05 73.53,399.59 73.65,400.17 73.77,400.80 73.90,401.47 74.02,402.17 74.14,402.91 74.26,403.69 74.38,404.50 74.50,405.34 74.62,406.21 74.74,407.11 74.86,408.04 74.99,408.99 75.11,409.96 75.23,410.96 75.35,411.98 75.47,413.01 75.59,414.06 75.71,415.12 75.83,416.20 75.95,417.28 76.08,418.38 76.20,419.48 76.32,420.58 76.44,421.69 76.56,422.80 76.68,423.90 76.80,425.01 76.92,426.11 77.05,427.20 77.17,428.29 77.29,429.36 77.41,430.43 77.53,431.48 77.65,432.53 77.77,433.55 77.89,434.56 78.01,435.56 78.14,436.53 78.26,437.49 78.38,438.43 78.50,439.34 78.62,440.23 78.74,441.10 78.86,441.94 78.98,442.76 79.10,443.55 79.23,444.32 79.35,445.06 79.47,445.77 79.59,446.45 79.71,447.10 79.83,447.72 79.95,448.31 80.07,448.87 80.20,449.39 80.32,449.89 80.44,450.35 80.56,450.78 80.68,451.18 80.80,451.54 80.92,451.87 81.04,452.16 81.16,452.42 81.29,452.65 81.41,452.84 81.53,452.99 81.65,453.11 81.77,453.20 81.89,453.25 82.01,453.26 82.13,453.24 82.25,453.18 82.38,453.09 82.50,452.96 82.62,452.80 82.74,452.60 82.86,452.37 82.98,452.10 83.10,451.80 83.22,451.46 83.34,451.08 83.47,450.67 83.59,450.23 83.71,449.75 83.83,449.24 83.95,448.70 84.07,448.12 84.19,447.51 84.31,446.87 84.44,446.19 84.56,445.49 84.68,444.75 84.80,443.99 84.92,443.19 85.04,442.37 85.16,441.51 85.28,440.63 85.40,439.73 85.53,438.79 85.65,437.84 85.77,436.86 85.89,435.85 86.01,434.83 86.13,433.78 86.25,432.71 86.37,431.63 86.49,430.53 86.62,429.41 86.74,428.28 86.86,427.14 86.98,425.98 87.10,424.82 87.22,423.65 87.34,422.47 87.46,421.29 87.59,420.10 87.71,418.92 87.83,417.73 87.95,416.55 88.07,415.38 88.19,414.21 88.31,413.06 88.43,411.91 88.55,410.78 88.68,409.67 88.80,408.58 88.92,407.51 89.04,406.46 89.16,405.44 89.28,404.45 89.40,403.48 89.52,402.55 89.64,401.66 89.77,400.81 89.89,399.99 90.01,399.22 90.13,398.49 90.25,397.81 90.37,397.18 90.49,396.60 90.61,396.07 90.74,395.59 90.86,395.17 90.98,394.81 91.10,394.50 91.22,394.26 91.34,394.08 91.46,393.96 91.58,393.90 91.70,393.90 91.83,393.97 91.95,394.10 92.07,394.30 92.19,394.56 92.31,394.89 92.43,395.28 92.55,395.73 92.67,396.25 92.79,396.82 92.92,397.46 93.04,398.16 93.16,398.92 93.28,399.73 93.40,400.61 93.52,401.53 93.64,402.51 93.76,403.54 93.89,404.61 94.01,405.73 94.13,406.90 94.25,408.11 94.37,409.36 94.49,410.65 94.61,411.97 94.73,413.33 94.85,414.71 94.98,416.13 95.10,417.57 95.22,419.03 95.34,420.52 95.46,422.02 95.58,423.54 95.70,425.07 95.82,426.62 95.94,428.17 96.07,429.73 96.19,431.30 96.31,432.87 96.43,434.43 96.55,436.00 96.67,437.56 96.79,439.12 96.91,440.67 97.03,442.21 97.16,443.75 97.28,445.26 97.40,446.77 97.52,448.26 97.64,449.73 97.76,451.18 97.88,452.62 98.00,454.03 98.13,455.42 98.25,456.79 98.37,458.13 98.49,459.45 98.61,460.74 98.73,462.00 98.85,463.24 98.97,464.45 99.09,465.63 99.22,466.77 99.34,467.89 99.46,468.97 99.58,470.03 99.70,471.05 99.82,472.03 99.94,472.99 100.06,473.90 100.18,474.79 100.31,475.64 100.43,476.45 100.55,477.23 100.67,477.97 100.79,478.67 100.91,479.34 101.03,479.97 101.15,480.57 101.28,481.12 101.40,481.64 101.52,482.12 101.64,482.57 101.76,482.97 101.88,483.34 102.00,483.67 102.12,483.96 102.24,484.21 102.37,484.42 102.49,484.59 102.61,484.72 102.73,484.81 102.85,484.87 102.97,484.88 103.09,484.86 103.21,484.79 103.33,484.68 103.46,484.54 103.58,484.35 103.70,484.13 103.82,483.86 103.94,483.56 104.06,483.21 104.18,482.83 104.30,482.41 104.43,481.94 104.55,481.44 104.67,480.89 104.79,480.31 104.91,479.68 105.03,479.02 105.15,478.31 105.27,477.56 105.39,476.78 105.52,475.95 105.64,475.08 105.76,474.17 105.88,473.22 106.00,472.24 106.12,471.21 106.24,470.14 106.36,469.04 106.48,467.89 106.61,466.71 106.73,465.49 106.85,464.23 106.97,462.94 107.09,461.60 107.21,460.24 107.33,458.83 107.45,457.40 107.57,455.93 107.70,454.42 107.82,452.89 107.94,451.33 108.06,449.73 108.18,448.11 108.30,446.46 108.42,444.79 108.54,443.10 108.67,441.38 108.79,439.65 108.91,437.89 109.03,436.13 109.15,434.35 109.27,432.56 109.39,430.76 109.51,428.96 109.63,427.16 109.76,425.36 109.88,423.56 110.00,421.77 110.12,420.00 110.24,418.23 110.36,416.49 110.48,414.77 110.60,413.08 110.72,411.42 110.85,409.80 110.97,408.21 111.09,406.67 111.21,405.18 111.33,403.74 111.45,402.36 111.57,401.04 111.69,399.79 111.82,398.61 111.94,397.51 112.06,396.49 112.18,395.55 112.30,394.70 112.42,393.94 112.54,393.28 112.66,392.72 112.78,392.26 112.91,391.91 113.03,391.66 113.15,391.53 113.27,391.51 113.39,391.61 113.51,391.82 113.63,392.15 113.75,392.60 113.87,393.17 114.00,393.85 114.12,394.66 114.24,395.58 114.36,396.61 114.48,397.76 114.60,399.02 114.72,400.39 114.84,401.86 114.97,403.44 115.09,405.11 115.21,406.88 115.33,408.75 115.45,410.70 115.57,412.73 115.69,414.84 115.81,417.03 115.93,419.28 116.06,421.60 116.18,423.98 116.30,426.41 116.42,428.89 116.54,431.41 116.66,433.98 116.78,436.57 116.90,439.20 117.02,441.84 117.15,444.51 117.27,447.19 117.39,449.89 117.51,452.59 117.63,455.29 117.75,457.99 117.87,460.68 117.99,463.37 118.12,466.04 118.24,468.70 118.36,471.33 118.48,473.95 118.60,476.54 118.72,479.11 118.84,481.64 118.96,484.15 119.08,486.62 119.21,489.05 119.33,491.45 119.45,493.81 119.57,496.14 119.69,498.42 119.81,500.65 119.93,502.85 120.05,505.00 120.17,507.11 120.30,509.17 120.42,511.18 120.54,513.15 120.66,515.07 120.78,516.94 120.90,518.77 121.02,520.54 121.14,522.27 121.26,523.95 121.39,525.58 121.51,527.16 121.63,528.70 121.75,530.18 121.87,531.62 121.99,533.01 122.11,534.35 122.23,535.64 122.36,536.88 122.48,538.07 122.60,539.22 122.72,540.32 122.84,541.37 122.96,542.37 123.08,543.32 123.20,544.23 123.32,545.09 123.45,545.90 123.57,546.66 123.69,547.37 123.81,548.04 123.93,548.66 124.05,549.23 124.17,549.75 124.29,550.23 124.41,550.66 124.54,551.03 124.66,551.36 124.78,551.64 124.90,551.87 125.02,552.05 125.14,552.18 125.26,552.26 125.38,552.29 125.51,552.26 125.63,552.18 125.75,552.05 125.87,551.85 125.99,551.60 126.11,551.29 126.23,550.93 126.35,550.50 126.47,550.01 126.60,549.46 126.72,548.84 126.84,548.16 126.96,547.41 127.08,546.59 127.20,545.70 127.32,544.75 127.44,543.71 127.56,542.61 127.69,541.42 127.81,540.16 127.93,538.81 128.05,537.38 128.17,535.86 128.29,534.25 128.41,532.56 128.53,530.76 128.66,528.87 128.78,526.88 128.90,524.79 129.02,522.60 129.14,520.29 129.26,517.87 129.38,515.34 129.50,512.70 129.62,509.93 129.75,507.04 129.87,504.03 129.99,500.89 130.11,497.62 130.23,494.23 130.35,490.70 130.47,487.05 130.59,483.27 130.71,479.36 130.84,475.33 130.96,471.17 131.08,466.91 131.20,462.54 131.32,458.07 131.44,453.51 131.56,448.89 131.68,444.21 131.81,439.50 131.93,434.78 132.05,430.08 132.17,425.43 132.29,420.86 132.41,416.41 132.53,412.13 132.65,408.07 132.77,404.26 132.90,400.77 133.02,397.65 133.14,394.96 133.26,392.75 133.38,391.08 133.50,389.99 133.62,389.54 133.74,389.77 133.86,390.71 133.99,392.38 134.11,394.80 134.23,397.96 134.35,401.87 134.47,406.49 134.59,411.79 134.71,417.72 134.83,424.24 134.95,431.27 135.08,438.75 135.20,446.62 135.32,454.79 135.44,463.18 135.56,471.74 135.68,480.39 135.80,489.07 135.92,497.71 136.05,506.28 136.17,514.71 136.29,522.97 136.41,531.04 136.53,538.87 136.65,546.46 136.77,553.78 136.89,560.83 137.01,567.60 137.14,574.08 137.26,580.27 137.38,586.19 137.50,591.82 137.62,597.18 137.74,602.25 137.86,607.07 137.98,611.64 138.10,615.98 138.23,620.09 138.35,623.99 138.47,627.68 138.59,631.18 138.71,634.49 138.83,637.62 138.95,640.59 139.07,643.39 139.20,646.05 139.32,648.57 139.44,650.95 139.56,653.21 139.68,655.35 139.80,657.38 139.92,659.30 140.04,661.13 140.16,662.85 140.29,664.49 140.41,666.05 140.53,667.53 140.65,668.93 140.77,670.27 140.89,671.53 141.01,672.74 141.13,673.89 141.25,674.98 141.38,676.01 141.50,677.00 141.62,677.94 141.74,678.84 141.86,679.70 141.98,680.51 142.10,681.29 142.22,682.03 142.35,682.74 142.47,683.42 142.59,684.07 142.71,684.69 142.83,685.28 142.95,685.85 143.07,686.39 143.19,686.91 143.31,687.40 143.44,687.88 143.56,688.33 143.68,688.77 143.80,689.19 143.92,689.59 144.04,689.98 144.16,690.35 144.28,690.70 144.40,691.05 144.53,691.37 144.65,691.69 144.77,691.99 144.89,692.28 145.01,692.56 145.13,692.83 145.25,693.09 145.37,693.34 145.49,693.59 145.62,693.82 145.74,694.04 145.86,694.26 145.98,694.47 146.10,694.67 146.22,694.86 146.34,695.05 146.46,695.23 146.59,695.40 146.71,695.57 146.83,695.73 146.95,695.89 147.07,696.04 147.19,696.18 147.31,696.33 147.43,696.46 147.55,696.60 147.68,696.72 147.80,696.85 147.92,696.97 148.04,697.08 148.16,697.20 148.28,697.31 148.40,697.41 148.52,697.51 148.64,697.61 148.77,697.71 148.89,697.80 149.01,697.89 149.13,697.98 149.25,698.07 149.37,698.15 149.49,698.23 149.61,698.31 149.74,698.38 149.86,698.46 149.98,698.53 150.10,698.60 150.22,698.66 150.34,698.73 150.46,698.79 150.58,698.85 150.70,698.91 150.83,698.97 150.95,699.03 151.07,699.08 151.19,699.14 151.31,699.19 151.43,699.24 151.55,699.29 151.67,699.34 151.79,699.39 151.92,699.43 152.04,699.48 152.16,699.52 152.28,699.56 152.40,699.60 152.52,699.64 152.64,699.68 152.76,699.72 152.89,699.76 153.01,699.79 153.13,699.83 153.25,699.86 153.37,699.90 153.49,699.93 153.61,699.96 153.73,699.99 153.85,700.02 153.98,700.05 154.10,700.08 154.22,700.11 154.34,700.14 154.46,700.17 154.58,700.19 154.70,700.22 154.82,700.24 154.94,700.27 155.07,700.29 155.19,700.31 155.31,700.34 155.43,700.36 155.55,700.38 155.67,700.40 155.79,700.42 155.91,700.45 156.03,700.47 156.16,700.49 156.28,700.50 156.40,700.52 156.52,700.54 156.64,700.56 156.76,700.58 156.88,700.59 157.00,700.61 157.13,700.63 157.25,700.64 157.37,700.66 157.49,700.68 157.61,700.69 157.73,700.71 157.85,700.72 157.97,700.73 158.09,700.75 158.22,700.76 158.34,700.78 158.46,700.79 158.58,700.80 158.70,700.81 158.82,700.83 158.94,700.84 159.06,700.85 159.18,700.86 159.31,700.87 159.43,700.89 159.55,700.90 159.67,700.91 159.79,700.92 159.91,700.93 160.03,700.94 160.15,700.95 160.28,700.96 160.40,700.97 160.52,700.98 160.64,700.99 160.76,701.00 160.88,701.00 161.00,701.01 161.12,701.02 161.24,701.03 161.37,701.04 161.49,701.05 161.61,701.06 161.73,701.06 161.85,701.07 161.97,701.08 162.09,701.09 162.21,701.09 162.33,701.10 162.46,701.11 162.58,701.11 162.70,701.12 162.82,701.13 162.94,701.13 163.06,701.14 163.18,701.15 163.30,701.15 163.43,701.16 163.55,701.17 163.67,701.17 163.79,701.18 163.91,701.18 164.03,701.19 164.15,701.19 164.27,701.20 164.39,701.21 164.52,701.21 164.64,701.22 164.76,701.22 164.88,701.23 165.00,701.23 165.12,701.24 165.24,701.24 165.36,701.25 165.48,701.25 165.61,701.26 165.73,701.26 165.85,701.26 165.97,701.27 166.09,701.27 166.21,701.28 166.33,701.28 166.45,701.29 166.58,701.29 166.70,701.29 166.82,701.30 166.94,701.30 167.06,701.30 167.18,701.31 167.30,701.31 167.42,701.32 167.54,701.32 167.67,701.32 167.79,701.33 167.91,701.33 168.03,701.33 168.15,701.34 168.27,701.34 168.39,701.34 168.51,701.35 168.63,701.35 168.76,701.35 168.88,701.36 169.00,701.36 169.12,701.36 169.24,701.36 169.36,701.37 169.48,701.37 169.60,701.37 169.72,701.38 169.85,701.38 169.97,701.38 170.09,701.38 170.21,701.39 170.33,701.39 170.45,701.39 170.57,701.39 170.69,701.40 170.82,701.40 170.94,701.40 171.06,701.40 171.18,701.41 171.30,701.41 171.42,701.41 171.54,701.41 171.66,701.41 171.78,701.42 171.91,701.42 172.03,701.42 172.15,701.42 172.27,701.43 172.39,701.43 172.51,701.43 172.63,701.43 172.75,701.43 172.87,701.44 173.00,701.44 173.12,701.44 173.24,701.44 173.36,701.44 173.48,701.44 173.60,701.45 173.72,701.45 173.84,701.45 173.97,701.45 174.09,701.45 174.21,701.45 174.33,701.46 174.45,701.46 174.57,701.46 174.69,701.46 174.81,701.46 174.93,701.46 175.06,701.47 175.18,701.47 175.30,701.47 175.42,701.47 175.54,701.47 175.66,701.47 175.78,701.47 175.90,701.48 176.02,701.48 176.15,701.48 176.27,701.48 176.39,701.48 176.51,701.48 176.63,701.48 176.75,701.49 176.87,701.49 176.99,701.49 177.12,701.49 177.24,701.49 177.36,701.49 177.48,701.49 177.60,701.49 177.72,701.49 177.84,701.50 177.96,701.50 178.08,701.50 178.21,701.50 178.33,701.50 178.45,701.50 178.57,701.50 178.69,701.50 178.81,701.50 178.93,701.51 179.05,701.51 179.17,701.51 179.30,701.51 179.42,701.51 179.54,701.51 179.66,701.51 179.78,701.51 179.90,701.51 180.02,701.51 180.14,701.52 180.26,701.52 180.39,701.52 180.51,701.52 180.63,701.52 180.75,701.52 180.87,701.52 180.99,701.52 181.11,701.52 181.23,701.52 181.36,701.52 181.48,701.52 181.60,701.53 181.72,701.53 181.84,701.53 181.96,701.53 182.08,701.53 182.20,701.53 182.32,701.53 182.45,701.53 182.57,701.53 182.69,701.53 182.81,701.53 182.93,701.53 183.05,701.53 183.17,701.53 183.29,701.54 183.41,701.54 183.54,701.54 183.66,701.54 183.78,701.54 183.90,701.54 184.02,701.54 184.14,701.54 184.26,701.54 184.38,701.54 184.51,701.54 184.63,701.54 184.75,701.54 184.87,701.54 184.99,701.54 185.11,701.54 185.23,701.54 185.35,701.55 185.47,701.55 185.60,701.55 185.72,701.55 185.84,701.55 185.96,701.55 186.08,701.55 186.20,701.55 186.32,701.55 186.44,701.55 186.56,701.55 186.69,701.55 186.81,701.55 186.93,701.55 187.05,701.55 187.17,701.55 187.29,701.55 187.41,701.55 187.53,701.55 187.66,701.55 187.78,701.56 187.90,701.56 188.02,701.56 188.14,701.56 188.26,701.56 188.38,701.56 188.50,701.56 188.62,701.56 188.75,701.56 188.87,701.56 188.99,701.56 189.11,701.56 189.23,701.56 189.35,701.56 189.47,701.56 189.59,701.56 189.71,701.56 189.84,701.56 189.96,701.56 190.08,701.56 190.20,701.56 190.32,701.56 190.44,701.56 190.56,701.56 190.68,701.56 190.81,701.56 190.93,701.56 191.05,701.56 191.17,701.56 191.29,701.57 191.41,701.57 191.53,701.57 191.65,701.57 191.77,701.57 191.90,701.57 192.02,701.57 192.14,701.57 192.26,701.57 192.38,701.57 192.50,701.57 192.62,701.57 192.74,701.57 192.86,701.57 192.99,701.57 193.11,701.57 193.23,701.57 193.35,701.57 193.47,701.57 193.59,701.57 193.71,701.57 193.83,701.57 193.95,701.57 194.08,701.57 194.20,701.57 194.32,701.57 194.44,701.57 194.56,701.57 194.68,701.57 194.80,701.57 194.92,701.57 195.05,701.57 195.17,701.57 195.29,701.57 195.41,701.57 195.53,701.57 195.65,701.57 195.77,701.57 195.89,701.57 196.01,701.57 196.14,701.57 196.26,701.57 196.38,701.57 196.50,701.57 196.62,701.57 196.74,701.57 196.86,701.57 196.98,701.57 197.10,701.57 197.23,701.57 197.35,701.57 197.47,701.57 197.59,701.58 197.71,701.58 197.83,701.58 197.95,701.58 198.07,701.58 198.20,701.58 198.32,701.58 198.44,701.58 198.56,701.58 198.68,701.58 198.80,701.58 198.92,701.58 199.04,701.58 199.16,701.58 199.29,701.58 199.41,701.58 199.53,701.58 199.65,701.58 199.77,701.58 199.89,701.58 200.01,701.58 200.13,701.58 200.25,701.58 200.38,701.58 200.50,701.58 200.62,701.58 200.74,701.58 200.86,701.58 200.98,701.58 201.10,701.58 201.22,701.58 201.35,701.58 201.47,701.58 201.59,701.58 201.71,701.58 201.83,701.58 201.95,701.58 202.07,701.58 202.19,701.58 202.31,701.58 202.44,701.58 202.56,701.58 202.68,701.58 202.80,701.58 202.92,701.58 203.04,701.58 203.16,701.58 203.28,701.58 203.40,701.58 203.53,701.58 203.65,701.58 203.77,701.58 203.89,701.58 204.01,701.58 204.13,701.58 204.25,701.58 204.37,701.58 204.50,701.58 204.62,701.58 204.74,701.58 204.86,701.58 204.98,701.58 205.10,701.58 205.22,701.58 205.34,701.58 205.46,701.58 205.59,701.58 205.71,701.58 205.83,701.58 205.95,701.58 206.07,701.58 206.19,701.58 206.31,701.58 206.43,701.58 206.55,701.58 206.68,701.58 206.80,701.58 206.92,701.58 207.04,701.58 207.16,701.58 207.28,701.58 207.40,701.58 207.52,701.58 207.64,701.58 207.77,701.58 207.89,701.58 208.01,701.58 208.13,701.58 208.25,701.58 208.37,701.58 208.49,701.58 208.61,701.58 208.74,701.58 208.86,701.58 208.98,701.58 209.10,701.58 209.22,701.58 209.34,701.58 209.46,701.58 209.58,701.58 209.70,701.58 209.83,701.58 209.95,701.58 210.07,701.58 210.19,701.58 210.31,701.58 210.43,701.58 210.55,701.58 210.67,701.58 210.79,701.58 210.92,701.58 211.04,701.58 211.16,701.58 211.28,701.58 211.40,701.58 211.52,701.58 211.64,701.58 211.76,701.58 211.89,701.57 212.01,701.57 212.13,701.57 212.25,701.57 212.37,701.57 212.49,701.57 212.61,701.57 212.73,701.57 212.85,701.57 212.98,701.57 213.10,701.57 213.22,701.57 213.34,701.57 213.46,701.57 213.58,701.57 213.70,701.57 213.82,701.57 213.94,701.57 214.07,701.57 214.19,701.57 214.31,701.57 214.43,701.57 214.55,701.57 214.67,701.57 214.79,701.57 214.91,701.57 215.04,701.57 215.16,701.57 215.28,701.57 215.40,701.57 215.52,701.57 215.64,701.57 215.76,701.57 215.88,701.57 216.00,701.57 216.13,701.57 216.25,701.57 216.37,701.57 216.49,701.57 216.61,701.57 216.73,701.56 216.85,701.56 216.97,701.56 217.09,701.56 217.22,701.56 217.34,701.56 217.46,701.56 217.58,701.56 217.70,701.56 217.82,701.56 217.94,701.56 218.06,701.56 218.18,701.56 218.31,701.56 218.43,701.56 218.55,701.56 218.67,701.56 218.79,701.56 218.91,701.56 219.03,701.56 219.15,701.56 219.28,701.56 219.40,701.56 219.52,701.56 219.64,701.56 219.76,701.56 219.88,701.56 220.00,701.56 220.12,701.55 220.24,701.55 220.37,701.55 220.49,701.55 220.61,701.55 220.73,701.55 220.85,701.55 220.97,701.55 221.09,701.55 221.21,701.55 221.33,701.55 221.46,701.55 221.58,701.55 221.70,701.55 221.82,701.55 221.94,701.55 222.06,701.55 222.18,701.55 222.30,701.55 222.43,701.55 222.55,701.55 222.67,701.55 222.79,701.55 222.91,701.54 223.03,701.54 223.15,701.54 223.27,701.54 223.39,701.54 223.52,701.54 223.64,701.54 223.76,701.54 223.88,701.54 224.00,701.54 224.12,701.54 224.24,701.54 224.36,701.54 224.48,701.54 224.61,701.54 224.73,701.54 224.85,701.54 224.97,701.54 225.09,701.54 225.21,701.53 225.33,701.53 225.45,701.53 225.58,701.53 225.70,701.53 225.82,701.53 225.94,701.53 226.06,701.53 226.18,701.53 226.30,701.53 226.42,701.53 226.54,701.53 226.67,701.53 226.79,701.53 226.91,701.53 227.03,701.53 227.15,701.52 227.27,701.52 227.39,701.52 227.51,701.52 227.63,701.52 227.76,701.52 227.88,701.52 228.00,701.52 228.12,701.52 228.24,701.52 228.36,701.52 228.48,701.52 228.60,701.52 228.72,701.52 228.85,701.52 228.97,701.51 229.09,701.51 229.21,701.51 229.33,701.51 229.45,701.51 229.57,701.51 229.69,701.51 229.82,701.51 229.94,701.51 230.06,701.51 230.18,701.51 230.30,701.51 230.42,701.51 230.54,701.50 230.66,701.50 230.78,701.50 230.91,701.50 231.03,701.50 231.15,701.50 231.27,701.50 231.39,701.50 231.51,701.50 231.63,701.50 231.75,701.50 231.87,701.49 232.00,701.49 232.12,701.49 232.24,701.49 232.36,701.49 232.48,701.49 232.60,701.49 232.72,701.49 232.84,701.49 232.97,701.49 233.09,701.49 233.21,701.48 233.33,701.48 233.45,701.48 233.57,701.48 233.69,701.48 233.81,701.48 233.93,701.48 234.06,701.48 234.18,701.48 234.30,701.48 234.42,701.47 234.54,701.47 234.66,701.47 234.78,701.47 234.90,701.47 235.02,701.47 235.15,701.47 235.27,701.47 235.39,701.47 235.51,701.46 235.63,701.46 235.75,701.46 235.87,701.46 235.99,701.46 236.12,701.46 236.24,701.46 236.36,701.46 236.48,701.46 236.60,701.45 236.72,701.45 236.84,701.45 236.96,701.45 237.08,701.45 237.21,701.45 237.33,701.45 237.45,701.45 237.57,701.44 237.69,701.44 237.81,701.44 237.93,701.44 238.05,701.44 238.17,701.44 238.30,701.44 238.42,701.43 238.54,701.43 238.66,701.43 238.78,701.43 238.90,701.43 239.02,701.43 239.14,701.43 239.27,701.42 239.39,701.42 239.51,701.42 239.63,701.42 239.75,701.42 239.87,701.42 239.99,701.42 240.11,701.41 240.23,701.41 240.36,701.41 240.48,701.41 240.60,701.41 240.72,701.41 240.84,701.40 240.96,701.40 241.08,701.40 241.20,701.40 241.32,701.40 241.45,701.40 241.57,701.39 241.69,701.39 241.81,701.39 241.93,701.39 242.05,701.39 242.17,701.39 242.29,701.38 242.41,701.38 242.54,701.38 242.66,701.38 242.78,701.38 242.90,701.38 243.02,701.37 243.14,701.37 243.26,701.37 243.38,701.37 243.51,701.37 243.63,701.36 243.75,701.36 243.87,701.36 243.99,701.36 244.11,701.36 244.23,701.35 244.35,701.35 244.47,701.35 244.60,701.35 244.72,701.34 244.84,701.34 244.96,701.34 245.08,701.34 245.20,701.34 245.32,701.33 245.44,701.33 245.56,701.33 245.69,701.33 245.81,701.32 245.93,701.32 246.05,701.32 246.17,701.32 246.29,701.32 246.41,701.31 246.53,701.31 246.66,701.31 246.78,701.31 246.90,701.30 247.02,701.30 247.14,701.30 247.26,701.30 247.38,701.29 247.50,701.29 247.62,701.29 247.75,701.29 247.87,701.28 247.99,701.28 248.11,701.28 248.23,701.27 248.35,701.27 248.47,701.27 248.59,701.27 248.71,701.26 248.84,701.26 248.96,701.26 249.08,701.25 249.20,701.25 249.32,701.25 249.44,701.25 249.56,701.24 249.68,701.24 249.81,701.24 249.93,701.23 250.05,701.23 250.17,701.23 250.29,701.22 250.41,701.22 250.53,701.22 250.65,701.21 250.77,701.21 250.90,701.21 251.02,701.20 251.14,701.20 251.26,701.20 251.38,701.19 251.50,701.19 251.62,701.19 251.74,701.18 251.86,701.18 251.99,701.18 252.11,701.17 252.23,701.17 252.35,701.16 252.47,701.16 252.59,701.16 252.71,701.15 252.83,701.15 252.95,701.14 253.08,701.14 253.20,701.14 253.32,701.13 253.44,701.13 253.56,701.12 253.68,701.12 253.80,701.12 253.92,701.11 254.05,701.11 254.17,701.10 254.29,701.10 254.41,701.09 254.53,701.09 254.65,701.09 254.77,701.08 254.89,701.08 255.01,701.07 255.14,701.07 255.26,701.06 255.38,701.06 255.50,701.05 255.62,701.05 255.74,701.04 255.86,701.04 255.98,701.03 256.10,701.03 256.23,701.02 256.35,701.02 256.47,701.01 256.59,701.01 256.71,701.00 256.83,701.00 256.95,700.99 257.07,700.98 257.20,700.98 257.32,700.97 257.44,700.97 257.56,700.96 257.68,700.96 257.80,700.95 257.92,700.94 258.04,700.94 258.16,700.93 258.29,700.93 258.41,700.92 258.53,700.91 258.65,700.91 258.77,700.90 258.89,700.90 259.01,700.89 259.13,700.88 259.25,700.88 259.38,700.87 259.50,700.86 259.62,700.86 259.74,700.85 259.86,700.84 259.98,700.83 260.10,700.83 260.22,700.82 260.35,700.81 260.47,700.81 260.59,700.80 260.71,700.79 260.83,700.78 260.95,700.78 261.07,700.77 261.19,700.76 261.31,700.75 261.44,700.74 261.56,700.74 261.68,700.73 261.80,700.72 261.92,700.71 262.04,700.70 262.16,700.69 262.28,700.68 262.40,700.68 262.53,700.67 262.65,700.66 262.77,700.65 262.89,700.64 263.01,700.63 263.13,700.62 263.25,700.61 263.37,700.60 263.50,700.59 263.62,700.58 263.74,700.57 263.86,700.56 263.98,700.55 264.10,700.54 264.22,700.53 264.34,700.52 264.46,700.51 264.59,700.50 264.71,700.49 264.83,700.48 264.95,700.47 265.07,700.46 265.19,700.45 265.31,700.43 265.43,700.42 265.55,700.41 265.68,700.40 265.80,700.39 265.92,700.38 266.04,700.36 266.16,700.35 266.28,700.34 266.40,700.33 266.52,700.31 266.64,700.30 266.77,700.29 266.89,700.27 267.01,700.26 267.13,700.25 267.25,700.23 267.37,700.22 267.49,700.20 267.61,700.19 267.74,700.18 267.86,700.16 267.98,700.15 268.10,700.13 268.22,700.12 268.34,700.10 268.46,700.09 268.58,700.07 268.70,700.05 268.83,700.04 268.95,700.02 269.07,700.01 269.19,699.99 269.31,699.97 269.43,699.95 269.55,699.94 269.67,699.92 269.79,699.90 269.92,699.88 270.04,699.87 270.16,699.85 270.28,699.83 270.40,699.81 270.52,699.79 270.64,699.77 270.76,699.75 270.89,699.73 271.01,699.71 271.13,699.69 271.25,699.67 271.37,699.65 271.49,699.63 271.61,699.61 271.73,699.59 271.85,699.56 271.98,699.54 272.10,699.52 272.22,699.50 272.34,699.47 272.46,699.45 272.58,699.43 272.70,699.40 272.82,699.38 272.94,699.35 273.07,699.33 273.19,699.30 273.31,699.28 273.43,699.25 273.55,699.23 273.67,699.20 273.79,699.17 273.91,699.14 274.04,699.12 274.16,699.09 274.28,699.06 274.40,699.03 274.52,699.00 274.64,698.97 274.76,698.94 274.88,698.91 275.00,698.88 275.13,698.85 275.25,698.82 275.37,698.79 275.49,698.75 275.61,698.72 275.73,698.69 275.85,698.65 275.97,698.62 276.09,698.58 276.22,698.55 276.34,698.51 276.46,698.47 276.58,698.44 276.70,698.40 276.82,698.36 276.94,698.32 277.06,698.28 277.19,698.24 277.31,698.20 277.43,698.16 277.55,698.12 277.67,698.08 277.79,698.04 277.91,697.99 278.03,697.95 278.15,697.91 278.28,697.86 278.40,697.81 278.52,697.77 278.64,697.72 278.76,697.67 278.88,697.62 279.00,697.58 279.12,697.53 279.24,697.47 279.37,697.42 279.49,697.37 279.61,697.32 279.73,697.26 279.85,697.21 279.97,697.15 280.09,697.10 280.21,697.04 280.33,696.98 280.46,696.92 280.58,696.86 280.70,696.80 280.82,696.74 280.94,696.68 281.06,696.61 281.18,696.55 281.30,696.48 281.43,696.42 281.55,696.35 281.67,696.28 281.79,696.21 281.91,696.14 282.03,696.07 282.15,695.99 282.27,695.92 282.39,695.84 282.52,695.77 282.64,695.69 282.76,695.61 282.88,695.53 283.00,695.44 283.12,695.36 283.24,695.28 283.36,695.19 283.48,695.10 283.61,695.01 283.73,694.92 283.85,694.83 283.97,694.74 284.09,694.64 284.21,694.55 284.33,694.45 284.45,694.35 284.58,694.25 284.70,694.14 284.82,694.04 284.94,693.93 285.06,693.82 285.18,693.71 285.30,693.60 285.42,693.48 285.54,693.37 285.67,693.25 285.79,693.13 285.91,693.01 286.03,692.88 286.15,692.75 286.27,692.63 286.39,692.49 286.51,692.36 286.63,692.22 286.76,692.09 286.88,691.94 287.00,691.80 287.12,691.65 287.24,691.51 287.36,691.35 287.48,691.20 287.60,691.04 287.73,690.88 287.85,690.72 287.97,690.55 288.09,690.38 288.21,690.21 288.33,690.04 288.45,689.86 288.57,689.68 288.69,689.49 288.82,689.30 288.94,689.11 289.06,688.91 289.18,688.71 289.30,688.51 289.42,688.30 289.54,688.09 289.66,687.87 289.78,687.65 289.91,687.43 290.03,687.20 290.15,686.97 290.27,686.73 290.39,686.49 290.51,686.24 290.63,685.99 290.75,685.73 290.87,685.47 291.00,685.20 291.12,684.93 291.24,684.65 291.36,684.37 291.48,684.08 291.60,683.78 291.72,683.48 291.84,683.17 291.97,682.86 292.09,682.54 292.21,682.21 292.33,681.88 292.45,681.54 292.57,681.19 292.69,680.83 292.81,680.47 292.93,680.10 293.06,679.72 293.18,679.34 293.30,678.94 293.42,678.54 293.54,678.13 293.66,677.71 293.78,677.28 293.90,676.84 294.02,676.39 294.15,675.93 294.27,675.46 294.39,674.98 294.51,674.49 294.63,674.00 294.75,673.48 294.87,672.96 294.99,672.43 295.12,671.88 295.24,671.32 295.36,670.75 295.48,670.17 295.60,669.57 295.72,668.96 295.84,668.34 295.96,667.70 296.08,667.05 296.21,666.38 296.33,665.70 296.45,665.00 296.57,664.28 296.69,663.55 296.81,662.80 296.93,662.04 297.05,661.25 297.17,660.45 297.30,659.63 297.42,658.79 297.54,657.93 297.66,657.05 297.78,656.15 297.90,655.23 298.02,654.28 298.14,653.32 298.27,652.33 298.39,651.31 298.51,650.28 298.63,649.21 298.75,648.13 298.87,647.01 298.99,645.87 299.11,644.71 299.23,643.51 299.36,642.29 299.48,641.03 299.60,639.75 299.72,638.43 299.84,637.09 299.96,635.71 300.08,634.30 300.20,632.85 300.32,631.37 300.45,629.86 300.57,628.31 300.69,626.72 300.81,625.09 300.93,623.43 301.05,621.72 301.17,619.98 301.29,618.20 301.41,616.37 301.54,614.50 301.66,612.59 301.78,610.63 301.90,608.63 302.02,606.58 302.14,604.49 302.26,602.35 302.38,600.16 302.51,597.93 302.63,595.64 302.75,593.30 302.87,590.92 302.99,588.48 303.11,586.00 303.23,583.46 303.35,580.87 303.47,578.22 303.60,575.53 303.72,572.78 303.84,569.98 303.96,567.13 304.08,564.22 304.20,561.26 304.32,558.25 304.44,555.19 304.56,552.08 304.69,548.92 304.81,545.72 304.93,542.46 305.05,539.16 305.17,535.81 305.29,532.42 305.41,528.99 305.53,525.51 305.66,522.00 305.78,518.46 305.90,514.88 306.02,511.28 306.14,507.65 306.26,503.99 306.38,500.32 306.50,496.62 306.62,492.92 306.75,489.21 306.87,485.50 306.99,481.78 307.11,478.08 307.23,474.38 307.35,470.70 307.47,467.04 307.59,463.41 307.71,459.81 307.84,456.25 307.96,452.74 308.08,449.27 308.20,445.86 308.32,442.51 308.44,439.22 308.56,436.01 308.68,432.88 308.81,429.83 308.93,426.88 309.05,424.02 309.17,421.26 309.29,418.60 309.41,416.06 309.53,413.63 309.65,411.32 309.77,409.13 309.90,407.06 310.02,405.13 310.14,403.33 310.26,401.66 310.38,400.13 310.50,398.74 310.62,397.48 310.74,396.36 310.86,395.39 310.99,394.55 311.11,393.85 311.23,393.29 311.35,392.87 311.47,392.58 311.59,392.42 311.71,392.39 311.83,392.50 311.96,392.72 312.08,393.07 312.20,393.54 312.32,394.12 312.44,394.81 312.56,395.61 312.68,396.51 312.80,397.51 312.92,398.60 313.05,399.78 313.17,401.05 313.29,402.40 313.41,403.82 313.53,405.32 313.65,406.88 313.77,408.51 313.89,410.19 314.01,411.93 314.14,413.72 314.26,415.55 314.38,417.43 314.50,419.34 314.62,421.29 314.74,423.27 314.86,425.28 314.98,427.31 315.10,429.36 315.23,431.43 315.35,433.51 315.47,435.61 315.59,437.71 315.71,439.83 315.83,441.94 315.95,444.06 316.07,446.18 316.20,448.30 316.32,450.41 316.44,452.51 316.56,454.61 316.68,456.70 316.80,458.78 316.92,460.85 317.04,462.91 317.16,464.95 317.29,466.97 317.41,468.98 317.53,470.97 317.65,472.95 317.77,474.90 317.89,476.84 318.01,478.75 318.13,480.65 318.25,482.53 318.38,484.38 318.50,486.21 318.62,488.02 318.74,489.81 318.86,491.57 318.98,493.32 319.10,495.04 319.22,496.73 319.35,498.41 319.47,500.06 319.59,501.68 319.71,503.29 319.83,504.87 319.95,506.43 320.07,507.96 320.19,509.48 320.31,510.96 320.44,512.43 320.56,513.88 320.68,515.30 320.80,516.70 320.92,518.08 321.04,519.43 321.16,520.77 321.28,522.08 321.40,523.37 321.53,524.64 321.65,525.89 321.77,527.12 321.89,528.33 322.01,529.52 322.13,530.69 322.25,531.84 322.37,532.97 322.50,534.08 322.62,535.17 322.74,536.24 322.86,537.30 322.98,538.34 323.10,539.35 323.22,540.36 323.34,541.34 323.46,542.31 323.59,543.26 323.71,544.19 323.83,545.11 323.95,546.01 324.07,546.89 324.19,547.76 324.31,548.61 324.43,549.45 324.55,550.27 324.68,551.08 324.80,551.88 324.92,552.65 325.04,553.42 325.16,554.17 325.28,554.91 325.40,555.63 325.52,556.34 325.64,557.04 325.77,557.72 325.89,558.39 326.01,559.05 326.13,559.70 326.25,560.33 326.37,560.95 326.49,561.56 326.61,562.16 326.74,562.74 326.86,563.32 326.98,563.88 327.10,564.44 327.22,564.98 327.34,565.51 327.46,566.03 327.58,566.54 327.70,567.04 327.83,567.53 327.95,568.01 328.07,568.48 328.19,568.94 328.31,569.39 328.43,569.83 328.55,570.26 328.67,570.68 328.79,571.09 328.92,571.50 329.04,571.89 329.16,572.28 329.28,572.66 329.40,573.02 329.52,573.38 329.64,573.74 329.76,574.08 329.89,574.42 330.01,574.75 330.13,575.07 330.25,575.38 330.37,575.68 330.49,575.98 330.61,576.27 330.73,576.55 330.85,576.82 330.98,577.09 331.10,577.35 331.22,577.60 331.34,577.85 331.46,578.09 331.58,578.32 331.70,578.55 331.82,578.76 331.94,578.98 332.07,579.18 332.19,579.38 332.31,579.57 332.43,579.76 332.55,579.94 332.67,580.11 332.79,580.28 332.91,580.44 333.04,580.59 333.16,580.74 333.28,580.89 333.40,581.02 333.52,581.15 333.64,581.28 333.76,581.40 333.88,581.51 334.00,581.62 334.13,581.72 334.25,581.82 334.37,581.91 334.49,582.00 334.61,582.08 334.73,582.15 334.85,582.22 334.97,582.29 335.09,582.35 335.22,582.40 335.34,582.45 335.46,582.49 335.58,582.53 335.70,582.56 335.82,582.59 335.94,582.61 336.06,582.63 336.19,582.65 336.31,582.65 336.43,582.66 336.55,582.66 336.67,582.65 336.79,582.64 336.91,582.62 337.03,582.60 337.15,582.58 337.28,582.55 337.40,582.51 337.52,582.47 337.64,582.43 337.76,582.38" fill="none" stroke="#222" stroke-width="0.9"/>
<polyline points="47.00,401.25 47.31,398.77 47.63,397.56 47.94,397.69 48.26,399.16 48.57,401.94 48.89,405.93 49.20,410.99 49.52,416.96 49.83,423.67 50.15,430.92 50.46,438.53 50.78,446.33 51.09,454.18 51.41,461.93 51.72,469.48 52.04,476.74 52.35,483.65 52.67,490.14 52.98,496.20 53.30,501.78 53.61,506.89 53.93,511.50 54.24,515.63 54.56,519.26 54.87,522.41 55.19,525.09 55.50,527.28 55.82,529.01 56.13,530.28 56.45,531.08 56.76,531.42 57.08,531.30 57.39,530.71 57.71,529.65 58.02,528.12 58.34,526.09 58.65,523.58 58.97,520.55 59.28,517.00 59.60,512.92 59.91,508.29 60.23,503.12 60.54,497.38 60.86,491.10 61.17,484.28 61.49,476.96 61.80,469.17 62.12,461.00 62.43,452.53 62.75,443.90 63.06,435.28 63.38,426.87 63.69,418.91 64.01,411.67 64.32,405.45 64.64,400.53 64.95,397.16 65.27,395.58 65.58,395.92 65.90,398.23 66.21,402.49 66.53,408.54 66.84,416.19 67.16,425.15 67.47,435.11 67.79,445.76 68.10,456.82 68.42,467.99 68.73,479.07 69.05,489.86 69.36,500.23 69.68,510.07 69.99,519.32 70.31,527.94 70.62,535.91 70.94,543.23 71.25,549.91 71.57,555.96 71.88,561.41 72.20,566.28 72.51,570.60 72.83,574.39 73.14,577.67 73.46,580.45 73.77,582.76 74.09,584.61 74.40,586.00 74.72,586.93 75.03,587.41 75.35,587.41 75.66,586.93 75.98,585.95 76.29,584.43 76.61,582.33 76.92,579.60 77.24,576.19 77.55,572.00 77.87,566.96 78.18,560.95 78.50,553.84 78.81,545.49 79.13,535.75 79.44,524.44 79.76,511.43 80.07,496.63 80.39,480.08 80.70,462.04 81.02,443.19 81.33,424.72 81.65,408.56 81.96,397.22 82.28,393.38 82.59,399.00 82.91,414.44 83.22,438.05 83.54,466.78 83.85,497.26 84.17,526.78 84.48,553.62 84.80,577.05 85.11,596.95 85.43,613.58 85.74,627.36 86.06,638.73 86.37,648.12 86.69,655.88 87.00,662.31 87.32,667.66 87.63,672.14 87.95,675.91 88.26,679.09 88.58,681.79 88.89,684.10 89.21,686.07 89.52,687.77 89.84,689.25 90.15,690.52 90.47,691.64 90.78,692.61 91.10,693.47 91.41,694.22 91.73,694.89 92.04,695.48 92.36,696.01 92.67,696.48 92.99,696.90 93.30,697.28 93.62,697.62 93.93,697.92 94.25,698.20 94.56,698.45 94.88,698.68 95.19,698.88 95.51,699.07 95.82,699.24 96.14,699.40 96.45,699.55 96.77,699.68 97.08,699.80 97.40,699.91 97.71,700.01 98.03,700.11 98.34,700.20 98.66,700.28 98.97,700.36 99.29,700.43 99.60,700.49 99.92,700.55 100.23,700.61 100.55,700.66 100.86,700.71 101.18,700.76 101.49,700.80 101.81,700.84 102.12,700.88 102.44,700.91 102.75,700.95 103.07,700.98 103.38,701.01 103.70,701.03 104.01,701.06 104.33,701.08 104.64,701.11 104.96,701.13 105.27,701.15 105.59,701.17 105.90,701.19 106.22,701.21 106.53,701.22 106.85,701.24 107.16,701.25 107.48,701.27 107.79,701.28 108.11,701.29 108.42,701.31 108.74,701.32 109.05,701.33 109.37,701.34 109.68,701.35 110.00,701.36 110.31,701.37 110.63,701.38 110.94,701.39 111.26,701.39 111.57,701.40 111.89,701.41 112.20,701.42 112.52,701.42 112.83,701.43 113.15,701.44 113.46,701.44 113.78,701.45 114.09,701.45 114.41,701.46 114.72,701.46 115.04,701.47 115.35,701.47 115.67,701.48 115.98,701.48 116.30,701.49 116.61,701.49 116.93,701.49 117.24,701.50 117.56,701.50 117.87,701.50 118.19,701.51 118.50,701.51 118.82,701.51 119.13,701.52 119.45,701.52 119.76,701.52 120.08,701.52 120.39,701.53 120.71,701.53 121.02,701.53 121.34,701.53 121.65,701.53 121.97,701.54 122.28,701.54 122.60,701.54 122.91,701.54 123.23,701.54 123.54,701.55 123.86,701.55 124.17,701.55 124.49,701.55 124.80,701.55 125.12,701.55 125.43,701.55 125.75,701.56 126.06,701.56 126.38,701.56 126.69,701.56 127.01,701.56 127.32,701.56 127.64,701.56 127.95,701.56 128.27,701.56 128.58,701.56 128.90,701.56 129.21,701.57 129.53,701.57 129.84,701.57 130.16,701.57 130.47,701.57 130.79,701.57 131.10,701.57 131.42,701.57 131.73,701.57 132.05,701.57 132.36,701.57 132.68,701.57 132.99,701.57 133.31,701.57 133.62,701.57 133.94,701.57 134.25,701.57 134.57,701.57 134.88,701.57 135.20,701.57 135.51,701.57 135.83,701.57 136.14,701.57 136.46,701.57 136.77,701.57 137.09,701.57 137.40,701.57 137.72,701.57 138.03,701.57 138.35,701.57 138.66,701.57 138.98,701.57 139.29,701.57 139.61,701.57 139.92,701.57 140.24,701.57 140.55,701.57 140.87,701.57 141.18,701.57 141.50,701.57 141.81,701.57 142.13,701.57 142.44,701.57 142.76,701.57 143.07,701.57 143.39,701.57 143.70,701.57 144.02,701.57 144.33,701.57 144.65,701.57 144.96,701.57 145.28,701.57 145.59,701.57 145.91,701.56 146.22,701.56 146.54,701.56 146.85,701.56 147.17,701.56 147.48,701.56 147.80,701.56 148.11,701.56 148.43,701.56 148.74,701.56 149.06,701.55 149.37,701.55 149.69,701.55 150.00,701.55 150.32,701.55 150.63,701.55 150.95,701.55 151.26,701.55 151.58,701.54 151.89,701.54 152.21,701.54 152.52,701.54 152.84,701.54 153.15,701.54 153.47,701.54 153.78,701.53 154.10,701.53 154.41,701.53 154.73,701.53 155.04,701.53 155.36,701.52 155.67,701.52 155.99,701.52 156.30,701.52 156.62,701.52 156.93,701.51 157.25,701.51 157.56,701.51 157.88,701.51 158.19,701.50 158.51,701.50 158.82,701.50 159.14,701.50 159.45,701.49 159.77,701.49 160.08,701.49 160.40,701.48 160.71,701.48 161.03,701.48 161.34,701.48 161.66,701.47 161.97,701.47 162.29,701.47 162.60,701.46 162.92,701.46 163.23,701.45 163.55,701.45 163.86,701.45 164.18,701.44 164.49,701.44 164.81,701.43 165.12,701.43 165.44,701.43 165.75,701.42 166.07,701.42 166.38,701.41 166.70,701.41 167.01,701.40 167.33,701.40 167.64,701.39 167.96,701.39 168.27,701.38 168.59,701.37 168.90,701.37 169.22,701.36 169.53,701.36 169.85,701.35 170.16,701.34 170.48,701.34 170.79,701.33 171.11,701.32 171.42,701.32 171.74,701.31 172.05,701.30 172.37,701.29 172.68,701.28 173.00,701.27 173.31,701.27 173.63,701.26 173.94,701.25 174.26,701.24 174.57,701.23 174.89,701.22 175.20,701.21 175.52,701.20 175.83,701.19 176.15,701.18 176.46,701.16 176.78,701.15 177.09,701.14 177.41,701.13 177.72,701.11 178.04,701.10 178.35,701.09 178.67,701.07 178.98,701.06 179.30,701.04 179.61,701.03 179.93,701.01 180.24,700.99 180.56,700.98 180.87,700.96 181.19,700.94 181.50,700.92 181.82,700.90 182.13,700.88 182.45,700.86 182.76,700.84 183.08,700.82 183.39,700.79 183.71,700.77 184.02,700.75 184.34,700.72 184.65,700.70 184.97,700.67 185.28,700.64 185.60,700.61 185.91,700.58 186.23,700.55 186.54,700.52 186.86,700.49 187.17,700.45 187.49,700.42 187.80,700.38 188.12,700.34 188.43,700.30 188.75,700.26 189.06,700.22 189.38,700.18 189.69,700.13 190.01,700.08 190.32,700.03 190.64,699.98 190.95,699.93 191.27,699.88 191.58,699.82 191.90,699.76 192.21,699.70 192.53,699.64 192.84,699.57 193.16,699.50 193.47,699.43 193.79,699.35 194.10,699.28 194.42,699.20 194.73,699.11 195.05,699.02 195.36,698.93 195.68,698.84 195.99,698.74 196.31,698.63 196.62,698.53 196.94,698.41 197.25,698.29 197.57,698.17 197.88,698.04 198.20,697.91 198.51,697.77 198.83,697.62 199.14,697.47 199.46,697.31 199.77,697.14 200.09,696.96 200.40,696.78 200.72,696.59 201.03,696.39 201.35,696.17 201.66,695.95 201.98,695.72 202.29,695.47 202.61,695.22 202.92,694.95 203.24,694.66 203.55,694.36 203.87,694.05 204.18,693.72 204.49,693.37 204.81,693.00 205.12,692.61 205.44,692.21 205.75,691.78 206.07,691.32 206.38,690.84 206.70,690.34 207.01,689.80 207.33,689.23 207.64,688.64 207.96,688.00 208.27,687.33 208.59,686.62 208.90,685.86 209.22,685.06 209.53,684.21 209.85,683.31 210.16,682.35 210.48,681.32 210.79,680.24 211.11,679.08 211.42,677.85 211.74,676.54 212.05,675.14 212.37,673.64 212.68,672.05 213.00,670.34 213.31,668.52 213.63,666.58 213.94,664.49 214.26,662.27 214.57,659.88 214.89,657.32 215.20,654.58 215.52,651.65 215.83,648.50 216.15,645.12 216.46,641.50 216.78,637.62 217.09,633.46 217.41,629.00 217.72,624.22 218.04,619.10 218.35,613.62 218.67,607.76 218.98,601.50 219.30,594.83 219.61,587.73 219.93,580.19 220.24,572.20 220.56,563.77 220.87,554.89 221.19,545.58 221.50,535.87 221.82,525.79 222.13,515.40 222.45,504.76 222.76,493.96 223.08,483.08 223.39,472.23 223.71,461.55 224.02,451.16 224.34,441.20 224.65,431.82 224.97,423.15 225.28,415.31 225.60,408.42 225.91,402.56 226.23,397.80 226.54,394.17 226.86,391.68 227.17,390.32 227.49,390.03 227.80,390.76 228.12,392.42 228.43,394.91 228.75,398.15 229.06,402.02 229.38,406.42 229.69,411.24 230.01,416.41 230.32,421.82 230.64,427.41 230.95,433.11 231.27,438.85 231.58,444.59 231.90,450.28 232.21,455.89 232.53,461.38 232.84,466.75 233.16,471.96 233.47,477.02 233.79,481.90 234.10,486.60 234.42,491.12 234.73,495.45 235.05,499.60 235.36,503.57 235.68,507.37 235.99,510.98 236.31,514.43 236.62,517.71 236.94,520.82 237.25,523.79 237.57,526.60 237.88,529.26 238.20,531.79 238.51,534.18 238.83,536.44 239.14,538.57 239.46,540.59 239.77,542.49 240.09,544.27 240.40,545.96 240.72,547.54 241.03,549.02 241.35,550.40 241.66,551.69 241.98,552.90 242.29,554.02 242.61,555.06 242.92,556.02 243.24,556.90 243.55,557.71 243.87,558.44 244.18,559.11 244.50,559.71 244.81,560.24 245.13,560.71 245.44,561.11 245.76,561.46 246.07,561.75 246.39,561.98 246.70,562.15 247.02,562.27 247.33,562.34 247.65,562.35 247.96,562.31 248.28,562.22 248.59,562.08 248.91,561.89 249.22,561.65 249.54,561.36 249.85,561.03 250.17,560.64 250.48,560.22 250.80,559.74 251.11,559.23 251.43,558.66 251.74,558.06 252.06,557.40 252.37,556.71 252.69,555.97 253.00,555.18 253.32,554.36 253.63,553.49 253.95,552.58 254.26,551.62 254.58,550.62 254.89,549.58 255.21,548.50 255.52,547.37 255.84,546.21 256.15,545.00 256.47,543.75 256.78,542.45 257.10,541.12 257.41,539.74 257.73,538.32 258.04,536.86 258.36,535.36 258.67,533.82 258.99,532.23 259.30,530.61 259.62,528.94 259.93,527.23 260.25,525.49 260.56,523.70 260.88,521.88 261.19,520.01 261.51,518.11 261.82,516.17 262.14,514.19 262.45,512.18 262.77,510.13 263.08,508.04 263.40,505.92 263.71,503.77 264.03,501.58 264.34,499.36 264.66,497.12 264.97,494.84 265.29,492.53 265.60,490.20 265.92,487.84 266.23,485.46 266.55,483.06 266.86,480.64 267.18,478.20 267.49,475.74 267.81,473.27 268.12,470.79 268.44,468.30 268.75,465.80 269.07,463.30 269.38,460.79 269.70,458.29 270.01,455.79 270.33,453.29 270.64,450.81 270.96,448.33 271.27,445.87 271.59,443.43 271.90,441.02 272.22,438.62 272.53,436.26 272.85,433.93 273.16,431.63 273.48,429.37 273.79,427.15 274.11,424.97 274.42,422.84 274.74,420.77 275.05,418.75 275.37,416.78 275.68,414.88 276.00,413.03 276.31,411.26 276.63,409.55 276.94,407.91 277.26,406.35 277.57,404.86 277.89,403.45 278.20,402.12 278.52,400.88 278.83,399.71 279.15,398.63 279.46,397.63 279.78,396.72 280.09,395.89 280.41,395.16 280.72,394.50 281.04,393.94 281.35,393.47 281.67,393.08 281.98,392.77 282.30,392.56 282.61,392.43 282.93,392.38 283.24,392.41 283.56,392.52 283.87,392.72 284.19,392.99 284.50,393.34 284.82,393.76 285.13,394.25 285.45,394.81 285.76,395.43 286.08,396.13 286.39,396.88 286.71,397.69 287.02,398.56 287.34,399.49 287.65,400.47 287.97,401.49 288.28,402.56 288.60,403.68 288.91,404.83 289.23,406.03 289.54,407.26 289.86,408.52 290.17,409.82 290.49,411.14 290.80,412.49 291.12,413.86 291.43,415.26 291.75,416.67 292.06,418.10 292.38,419.54 292.69,421.00 293.01,422.47 293.32,423.94 293.64,425.43 293.95,426.91 294.27,428.40 294.58,429.90 294.90,431.39 295.21,432.88 295.53,434.37 295.84,435.85 296.16,437.33 296.47,438.80 296.79,440.27 297.10,441.72 297.42,443.17 297.73,444.60 298.05,446.03 298.36,447.44 298.68,448.83 298.99,450.22 299.31,451.58 299.62,452.94 299.94,454.27 300.25,455.59 300.57,456.90 300.88,458.18 301.20,459.45 301.51,460.70 301.83,461.93 302.14,463.14 302.46,464.33 302.77,465.50 303.09,466.65 303.40,467.79 303.72,468.90 304.03,469.99 304.35,471.06 304.66,472.11 304.98,473.14 305.29,474.15 305.61,475.14 305.92,476.11 306.24,477.05 306.55,477.98 306.87,478.88 307.18,479.77 307.50,480.63 307.81,481.47 308.13,482.30 308.44,483.10 308.76,483.88 309.07,484.64 309.39,485.38 309.70,486.10 310.02,486.80 310.33,487.48 310.65,488.14 310.96,488.78 311.28,489.39 311.59,489.99 311.91,490.57 312.22,491.14 312.54,491.68 312.85,492.20 313.17,492.70 313.48,493.19 313.80,493.65 314.11,494.10 314.43,494.53 314.74,494.94 315.06,495.33 315.37,495.70 315.69,496.06 316.00,496.40 316.32,496.72 316.63,497.02 316.95,497.30 317.26,497.57 317.58,497.82 317.89,498.06 318.21,498.27 318.52,498.47 318.84,498.66 319.15,498.82 319.47,498.97 319.78,499.11 320.10,499.22 320.41,499.32 320.73,499.41 321.04,499.48 321.36,499.53 321.67,499.57 321.99,499.59 322.30,499.60 322.62,499.59 322.93,499.57 323.25,499.53 323.56,499.48 323.88,499.41 324.19,499.33 324.51,499.23 324.82,499.12 325.14,499.00 325.45,498.85 325.77,498.70 326.08,498.53 326.40,498.35 326.71,498.15 327.03,497.94 327.34,497.72 327.66,497.48 327.97,497.23 328.29,496.96 328.60,496.69 328.92,496.39 329.23,496.09 329.55,495.77 329.86,495.44 330.18,495.10 330.49,494.74 330.81,494.37 331.12,493.99 331.44,493.60 331.75,493.19 332.07,492.77 332.38,492.34 332.70,491.90 333.01,491.44 333.33,490.98 333.64,490.50 333.96,490.01 334.27,489.51 334.59,488.99 334.90,488.47 335.22,487.93 335.53,487.39 335.85,486.83 336.16,486.26 336.48,485.68 336.79,485.09 337.11,484.49 337.42,483.88 337.74,483.25" fill="none" stroke="#000" stroke-width="0.8" marker-start="url(#mk)" marker-mid="url(#mk)" marker-end="url(#mk)"/>
</g>
<rect x="46.80" y="387.50" width="291.85" height="314.70" fill="none" stroke="#3c3c3c" stroke-width="1.15"/>
<path d="M95.46 702.20v-4.40 M95.46 387.50v4.40 M143.92 702.20v-4.40 M143.92 387.50v4.40 M192.38 702.20v-4.40 M192.38 387.50v4.40 M240.84 702.20v-4.40 M240.84 387.50v4.40 M289.30 702.20v-4.40 M289.30 387.50v4.40 M46.80 670.28h3.10 M338.65 670.28h-3.10 M46.80 638.86h3.10 M338.65 638.86h-3.10 M46.80 607.44h3.10 M338.65 607.44h-3.10 M46.80 576.02h3.10 M338.65 576.02h-3.10 M46.80 544.60h3.10 M338.65 544.60h-3.10 M46.80 513.18h3.10 M338.65 513.18h-3.10 M46.80 481.76h3.10 M338.65 481.76h-3.10 M46.80 450.34h3.10 M338.65 450.34h-3.10 M46.80 418.92h3.10 M338.65 418.92h-3.10" stroke="#3c3c3c" stroke-width="1" fill="none"/>
<text x="43.00" y="705.94" font-size="12.40" fill="#161616" text-anchor="end" textLength="4.56" lengthAdjust="spacingAndGlyphs">0</text>
<text x="43.00" y="674.52" font-size="12.40" fill="#161616" text-anchor="end" textLength="9.12" lengthAdjust="spacingAndGlyphs">10</text>
<text x="43.00" y="643.10" font-size="12.40" fill="#161616" text-anchor="end" textLength="9.12" lengthAdjust="spacingAndGlyphs">20</text>
<text x="43.00" y="611.68" font-size="12.40" fill="#161616" text-anchor="end" textLength="9.12" lengthAdjust="spacingAndGlyphs">30</text>
<text x="43.00" y="580.26" font-size="12.40" fill="#161616" text-anchor="end" textLength="9.12" lengthAdjust="spacingAndGlyphs">40</text>
<text x="43.00" y="548.84" font-size="12.40" fill="#161616" text-anchor="end" textLength="9.12" lengthAdjust="spacingAndGlyphs">50</text>
<text x="43.00" y="517.42" font-size="12.40" fill="#161616" text-anchor="end" textLength="9.12" lengthAdjust="spacingAndGlyphs">60</text>
<text x="43.00" y="486.00" font-size="12.40" fill="#161616" text-anchor="end" textLength="9.12" lengthAdjust="spacingAndGlyphs">70</text>
<text x="43.00" y="454.58" font-size="12.40" fill="#161616" text-anchor="end" textLength="9.12" lengthAdjust="spacingAndGlyphs">80</text>
<text x="43.00" y="423.16" font-size="12.40" fill="#161616" text-anchor="end" textLength="9.12" lengthAdjust="spacingAndGlyphs">90</text>
<text x="43.00" y="391.74" font-size="12.40" fill="#161616" text-anchor="end" textLength="13.68" lengthAdjust="spacingAndGlyphs">100</text>
<text x="46.80" y="716.64" font-size="12.40" fill="#161616" text-anchor="middle" textLength="13.68" lengthAdjust="spacingAndGlyphs">800</text>
<text x="95.26" y="716.64" font-size="12.40" fill="#161616" text-anchor="middle" textLength="18.24" lengthAdjust="spacingAndGlyphs">1000</text>
<text x="143.72" y="716.64" font-size="12.40" fill="#161616" text-anchor="middle" textLength="18.24" lengthAdjust="spacingAndGlyphs">1200</text>
<text x="192.18" y="716.64" font-size="12.40" fill="#161616" text-anchor="middle" textLength="18.24" lengthAdjust="spacingAndGlyphs">1400</text>
<text x="240.64" y="716.64" font-size="12.40" fill="#161616" text-anchor="middle" textLength="18.24" lengthAdjust="spacingAndGlyphs">1600</text>
<text x="289.10" y="716.64" font-size="12.40" fill="#161616" text-anchor="middle" textLength="18.24" lengthAdjust="spacingAndGlyphs">1800</text>
<text x="337.56" y="716.64" font-size="12.40" fill="#161616" text-anchor="middle" textLength="18.24" lengthAdjust="spacingAndGlyphs">2000</text>
<text transform="translate(22.70 543.20) rotate(-90)" font-size="12.70" font-weight="bold" fill="#000" text-anchor="middle" letter-spacing="1.10" textLength="143.00" lengthAdjust="spacingAndGlyphs">Transmittance (%)</text>
<text transform="translate(191.00 737.00) scale(0.7800 1)" font-size="15.30" font-weight="bold" fill="#000" text-anchor="middle"><tspan font-family="'Liberation Serif', 'DejaVu Serif', serif" font-weight="normal" font-size="15.91">λ</tspan> (nm)</text>
<text x="184.70" y="767.00" font-size="15.6" fill="#111" text-anchor="middle">(b)</text>
<rect x="240.20" y="393.30" width="94.70" height="55.30" fill="#fff" stroke="#3c3c3c" stroke-width="1"/>
<path d="M245.80 403.60H272.50" stroke="#000" stroke-width="0.9"/>
<use href="#dm" x="259.15" y="403.60"/>
<path d="M245.80 421.30H272.50" stroke="#111" stroke-width="0.95" stroke-dasharray="1 2"/>
<path d="M245.80 438.60H272.50" stroke="#222" stroke-width="0.9"/>
<text x="274.00" y="408.04" font-size="12.40" fill="#161616" textLength="57.00" lengthAdjust="spacingAndGlyphs">LH1 = 202 nm</text>
<text x="274.00" y="425.74" font-size="12.40" fill="#161616" textLength="57.00" lengthAdjust="spacingAndGlyphs">LH2 = 250 nm</text>
<text x="274.00" y="443.04" font-size="12.40" fill="#161616" textLength="57.00" lengthAdjust="spacingAndGlyphs">LH3 = 302 nm</text>
<path d="M89.50 644.50H110.10" stroke="#000" stroke-width="1.3"/>
<path d="M86.50 644.50l9.80 -4.80l-2.80 4.80l2.80 4.80z" fill="#000"/>
<path d="M113.10 644.50l-9.80 -4.80l2.80 4.80l-2.80 4.80z" fill="#000"/>
<path d="M114.10 623.50H138.00" stroke="#000" stroke-width="1.3"/>
<path d="M111.10 623.50l9.80 -4.80l-2.80 4.80l2.80 4.80z" fill="#000"/>
<path d="M141.00 623.50l-9.80 -4.80l2.80 4.80l-2.80 4.80z" fill="#000"/>
</svg>
</body></html>
